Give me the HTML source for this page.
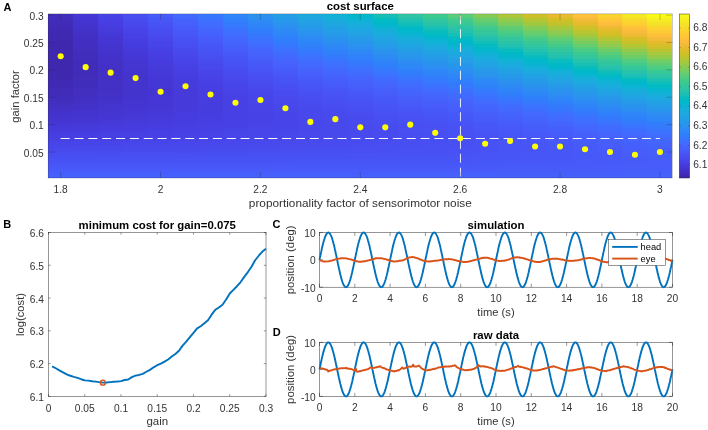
<!DOCTYPE html>
<html><head><meta charset="utf-8"><title>cost surface</title>
<style>
html,body{margin:0;padding:0;background:#fff}
svg{display:block}
text{font-family:"Liberation Sans",Arial,Helvetica,sans-serif}
.t{font-size:10.2px;fill:#333}
.l{font-size:11.2px;fill:#333}
.b{font-size:11.4px;font-weight:bold;fill:#000}
.s{font-size:9.3px;fill:#000}
.p{font-size:11px;font-weight:bold;fill:#000}
</style></head><body>
<svg width="708" height="430" viewBox="0 0 708 430">
<rect width="708" height="430" fill="#fff"/>
<g shape-rendering="crispEdges">
<rect x="48.20" y="13.80" width="25.27" height="3.04" fill="#422ebe"/>
<rect x="48.20" y="16.54" width="25.27" height="3.04" fill="#412dbc"/>
<rect x="48.20" y="19.27" width="25.27" height="3.04" fill="#412cba"/>
<rect x="48.20" y="22.01" width="25.27" height="3.04" fill="#412cb8"/>
<rect x="48.20" y="24.75" width="25.27" height="3.04" fill="#402bb7"/>
<rect x="48.20" y="27.48" width="25.27" height="3.04" fill="#402ab5"/>
<rect x="48.20" y="30.22" width="25.27" height="3.04" fill="#402ab4"/>
<rect x="48.20" y="32.96" width="25.27" height="3.04" fill="#3f29b2"/>
<rect x="48.20" y="35.69" width="25.27" height="3.04" fill="#3f29b1"/>
<rect x="48.20" y="38.43" width="25.27" height="3.04" fill="#3f29b0"/>
<rect x="48.20" y="41.17" width="25.27" height="3.04" fill="#3f28af"/>
<rect x="48.20" y="43.90" width="25.27" height="3.04" fill="#3f28ae"/>
<rect x="48.20" y="46.64" width="25.27" height="3.04" fill="#3f28ae"/>
<rect x="48.20" y="49.38" width="25.27" height="3.04" fill="#3f28ad"/>
<rect x="48.20" y="52.11" width="25.27" height="3.04" fill="#3f28ad"/>
<rect x="48.20" y="54.85" width="25.27" height="3.04" fill="#3e28ad"/>
<rect x="48.20" y="57.59" width="25.27" height="3.04" fill="#3e28ad"/>
<rect x="48.20" y="60.32" width="25.27" height="3.04" fill="#3f28ad"/>
<rect x="48.20" y="63.06" width="25.27" height="3.04" fill="#3f28ad"/>
<rect x="48.20" y="65.80" width="25.27" height="3.04" fill="#3f28ae"/>
<rect x="48.20" y="68.53" width="25.27" height="3.04" fill="#3f28ae"/>
<rect x="48.20" y="71.27" width="25.27" height="3.04" fill="#3f28af"/>
<rect x="48.20" y="74.01" width="25.27" height="3.04" fill="#3f29b0"/>
<rect x="48.20" y="76.74" width="25.27" height="3.04" fill="#3f29b1"/>
<rect x="48.20" y="79.48" width="25.27" height="3.04" fill="#3f29b2"/>
<rect x="48.20" y="82.22" width="25.27" height="3.04" fill="#402ab3"/>
<rect x="48.20" y="84.95" width="25.27" height="3.04" fill="#402ab5"/>
<rect x="48.20" y="87.69" width="25.27" height="3.04" fill="#402bb7"/>
<rect x="48.20" y="90.43" width="25.27" height="3.04" fill="#402cb8"/>
<rect x="48.20" y="93.16" width="25.27" height="3.04" fill="#412cba"/>
<rect x="48.20" y="95.90" width="25.27" height="3.04" fill="#412dbc"/>
<rect x="48.20" y="98.64" width="25.27" height="3.04" fill="#412ebe"/>
<rect x="48.20" y="101.37" width="25.27" height="3.04" fill="#422fc0"/>
<rect x="48.20" y="104.11" width="25.27" height="3.04" fill="#4230c3"/>
<rect x="48.20" y="106.85" width="25.27" height="3.04" fill="#4330c5"/>
<rect x="48.20" y="109.58" width="25.27" height="3.04" fill="#4331c8"/>
<rect x="48.20" y="112.32" width="25.27" height="3.04" fill="#4332cb"/>
<rect x="48.20" y="115.06" width="25.27" height="3.04" fill="#4434cd"/>
<rect x="48.20" y="117.79" width="25.27" height="3.04" fill="#4435d0"/>
<rect x="48.20" y="120.53" width="25.27" height="3.04" fill="#4536d3"/>
<rect x="48.20" y="123.27" width="25.27" height="3.04" fill="#4537d6"/>
<rect x="48.20" y="126.00" width="25.27" height="3.04" fill="#4539d9"/>
<rect x="48.20" y="128.74" width="25.27" height="3.04" fill="#463adc"/>
<rect x="48.20" y="131.48" width="25.27" height="3.04" fill="#463cdf"/>
<rect x="48.20" y="134.21" width="25.27" height="3.04" fill="#463ee1"/>
<rect x="48.20" y="136.95" width="25.27" height="3.04" fill="#4740e3"/>
<rect x="48.20" y="139.69" width="25.27" height="3.04" fill="#4742e6"/>
<rect x="48.20" y="142.42" width="25.27" height="3.04" fill="#4744e8"/>
<rect x="48.20" y="145.16" width="25.27" height="3.04" fill="#4746ea"/>
<rect x="48.20" y="147.90" width="25.27" height="3.04" fill="#4848ec"/>
<rect x="48.20" y="150.63" width="25.27" height="3.04" fill="#484bee"/>
<rect x="48.20" y="153.37" width="25.27" height="3.04" fill="#484df0"/>
<rect x="48.20" y="156.11" width="25.27" height="3.04" fill="#484ff2"/>
<rect x="48.20" y="158.84" width="25.27" height="3.04" fill="#4852f4"/>
<rect x="48.20" y="161.58" width="25.27" height="3.04" fill="#4854f5"/>
<rect x="48.20" y="164.32" width="25.27" height="3.04" fill="#4757f7"/>
<rect x="48.20" y="167.05" width="25.27" height="3.04" fill="#4759f8"/>
<rect x="48.20" y="169.79" width="25.27" height="3.04" fill="#475cfa"/>
<rect x="48.20" y="172.53" width="25.27" height="3.04" fill="#465efb"/>
<rect x="48.20" y="175.26" width="25.27" height="2.74" fill="#4561fc"/>
<rect x="73.17" y="13.80" width="25.27" height="3.04" fill="#4537d6"/>
<rect x="73.17" y="16.54" width="25.27" height="3.04" fill="#4536d4"/>
<rect x="73.17" y="19.27" width="25.27" height="3.04" fill="#4435d1"/>
<rect x="73.17" y="22.01" width="25.27" height="3.04" fill="#4434cf"/>
<rect x="73.17" y="24.75" width="25.27" height="3.04" fill="#4433cd"/>
<rect x="73.17" y="27.48" width="25.27" height="3.04" fill="#4332ca"/>
<rect x="73.17" y="30.22" width="25.27" height="3.04" fill="#4332c8"/>
<rect x="73.17" y="32.96" width="25.27" height="3.04" fill="#4331c6"/>
<rect x="73.17" y="35.69" width="25.27" height="3.04" fill="#4230c4"/>
<rect x="73.17" y="38.43" width="25.27" height="3.04" fill="#422fc3"/>
<rect x="73.17" y="41.17" width="25.27" height="3.04" fill="#422fc1"/>
<rect x="73.17" y="43.90" width="25.27" height="3.04" fill="#422ec0"/>
<rect x="73.17" y="46.64" width="25.27" height="3.04" fill="#422ebe"/>
<rect x="73.17" y="49.38" width="25.27" height="3.04" fill="#412ebd"/>
<rect x="73.17" y="52.11" width="25.27" height="3.04" fill="#412dbc"/>
<rect x="73.17" y="54.85" width="25.27" height="3.04" fill="#412dbc"/>
<rect x="73.17" y="57.59" width="25.27" height="3.04" fill="#412dbb"/>
<rect x="73.17" y="60.32" width="25.27" height="3.04" fill="#412cba"/>
<rect x="73.17" y="63.06" width="25.27" height="3.04" fill="#412cba"/>
<rect x="73.17" y="65.80" width="25.27" height="3.04" fill="#412cba"/>
<rect x="73.17" y="68.53" width="25.27" height="3.04" fill="#412cba"/>
<rect x="73.17" y="71.27" width="25.27" height="3.04" fill="#412cba"/>
<rect x="73.17" y="74.01" width="25.27" height="3.04" fill="#412cba"/>
<rect x="73.17" y="76.74" width="25.27" height="3.04" fill="#412dbb"/>
<rect x="73.17" y="79.48" width="25.27" height="3.04" fill="#412dbb"/>
<rect x="73.17" y="82.22" width="25.27" height="3.04" fill="#412dbc"/>
<rect x="73.17" y="84.95" width="25.27" height="3.04" fill="#412dbd"/>
<rect x="73.17" y="87.69" width="25.27" height="3.04" fill="#422ebe"/>
<rect x="73.17" y="90.43" width="25.27" height="3.04" fill="#422ebf"/>
<rect x="73.17" y="93.16" width="25.27" height="3.04" fill="#422fc1"/>
<rect x="73.17" y="95.90" width="25.27" height="3.04" fill="#422fc2"/>
<rect x="73.17" y="98.64" width="25.27" height="3.04" fill="#4230c4"/>
<rect x="73.17" y="101.37" width="25.27" height="3.04" fill="#4331c6"/>
<rect x="73.17" y="104.11" width="25.27" height="3.04" fill="#4331c8"/>
<rect x="73.17" y="106.85" width="25.27" height="3.04" fill="#4332ca"/>
<rect x="73.17" y="109.58" width="25.27" height="3.04" fill="#4433cc"/>
<rect x="73.17" y="112.32" width="25.27" height="3.04" fill="#4434cf"/>
<rect x="73.17" y="115.06" width="25.27" height="3.04" fill="#4435d1"/>
<rect x="73.17" y="117.79" width="25.27" height="3.04" fill="#4536d3"/>
<rect x="73.17" y="120.53" width="25.27" height="3.04" fill="#4537d6"/>
<rect x="73.17" y="123.27" width="25.27" height="3.04" fill="#4539d8"/>
<rect x="73.17" y="126.00" width="25.27" height="3.04" fill="#463adb"/>
<rect x="73.17" y="128.74" width="25.27" height="3.04" fill="#463bdd"/>
<rect x="73.17" y="131.48" width="25.27" height="3.04" fill="#463de0"/>
<rect x="73.17" y="134.21" width="25.27" height="3.04" fill="#473fe2"/>
<rect x="73.17" y="136.95" width="25.27" height="3.04" fill="#4741e4"/>
<rect x="73.17" y="139.69" width="25.27" height="3.04" fill="#4743e7"/>
<rect x="73.17" y="142.42" width="25.27" height="3.04" fill="#4745e9"/>
<rect x="73.17" y="145.16" width="25.27" height="3.04" fill="#4747eb"/>
<rect x="73.17" y="147.90" width="25.27" height="3.04" fill="#4849ed"/>
<rect x="73.17" y="150.63" width="25.27" height="3.04" fill="#484bef"/>
<rect x="73.17" y="153.37" width="25.27" height="3.04" fill="#484df0"/>
<rect x="73.17" y="156.11" width="25.27" height="3.04" fill="#484ff2"/>
<rect x="73.17" y="158.84" width="25.27" height="3.04" fill="#4852f4"/>
<rect x="73.17" y="161.58" width="25.27" height="3.04" fill="#4854f5"/>
<rect x="73.17" y="164.32" width="25.27" height="3.04" fill="#4757f7"/>
<rect x="73.17" y="167.05" width="25.27" height="3.04" fill="#4759f8"/>
<rect x="73.17" y="169.79" width="25.27" height="3.04" fill="#475cfa"/>
<rect x="73.17" y="172.53" width="25.27" height="3.04" fill="#465efb"/>
<rect x="73.17" y="175.26" width="25.27" height="2.74" fill="#4561fc"/>
<rect x="98.14" y="13.80" width="25.27" height="3.04" fill="#4743e7"/>
<rect x="98.14" y="16.54" width="25.27" height="3.04" fill="#4741e5"/>
<rect x="98.14" y="19.27" width="25.27" height="3.04" fill="#473fe3"/>
<rect x="98.14" y="22.01" width="25.27" height="3.04" fill="#463ee1"/>
<rect x="98.14" y="24.75" width="25.27" height="3.04" fill="#463cdf"/>
<rect x="98.14" y="27.48" width="25.27" height="3.04" fill="#463bdd"/>
<rect x="98.14" y="30.22" width="25.27" height="3.04" fill="#463ada"/>
<rect x="98.14" y="32.96" width="25.27" height="3.04" fill="#4538d8"/>
<rect x="98.14" y="35.69" width="25.27" height="3.04" fill="#4537d6"/>
<rect x="98.14" y="38.43" width="25.27" height="3.04" fill="#4536d4"/>
<rect x="98.14" y="41.17" width="25.27" height="3.04" fill="#4535d2"/>
<rect x="98.14" y="43.90" width="25.27" height="3.04" fill="#4435d0"/>
<rect x="98.14" y="46.64" width="25.27" height="3.04" fill="#4434ce"/>
<rect x="98.14" y="49.38" width="25.27" height="3.04" fill="#4433cd"/>
<rect x="98.14" y="52.11" width="25.27" height="3.04" fill="#4433cb"/>
<rect x="98.14" y="54.85" width="25.27" height="3.04" fill="#4332ca"/>
<rect x="98.14" y="57.59" width="25.27" height="3.04" fill="#4332c9"/>
<rect x="98.14" y="60.32" width="25.27" height="3.04" fill="#4331c8"/>
<rect x="98.14" y="63.06" width="25.27" height="3.04" fill="#4331c7"/>
<rect x="98.14" y="65.80" width="25.27" height="3.04" fill="#4331c6"/>
<rect x="98.14" y="68.53" width="25.27" height="3.04" fill="#4330c5"/>
<rect x="98.14" y="71.27" width="25.27" height="3.04" fill="#4330c5"/>
<rect x="98.14" y="74.01" width="25.27" height="3.04" fill="#4330c5"/>
<rect x="98.14" y="76.74" width="25.27" height="3.04" fill="#4330c5"/>
<rect x="98.14" y="79.48" width="25.27" height="3.04" fill="#4330c5"/>
<rect x="98.14" y="82.22" width="25.27" height="3.04" fill="#4330c5"/>
<rect x="98.14" y="84.95" width="25.27" height="3.04" fill="#4330c5"/>
<rect x="98.14" y="87.69" width="25.27" height="3.04" fill="#4331c6"/>
<rect x="98.14" y="90.43" width="25.27" height="3.04" fill="#4331c7"/>
<rect x="98.14" y="93.16" width="25.27" height="3.04" fill="#4331c8"/>
<rect x="98.14" y="95.90" width="25.27" height="3.04" fill="#4332c9"/>
<rect x="98.14" y="98.64" width="25.27" height="3.04" fill="#4332ca"/>
<rect x="98.14" y="101.37" width="25.27" height="3.04" fill="#4433cb"/>
<rect x="98.14" y="104.11" width="25.27" height="3.04" fill="#4433cd"/>
<rect x="98.14" y="106.85" width="25.27" height="3.04" fill="#4434cf"/>
<rect x="98.14" y="109.58" width="25.27" height="3.04" fill="#4435d0"/>
<rect x="98.14" y="112.32" width="25.27" height="3.04" fill="#4536d2"/>
<rect x="98.14" y="115.06" width="25.27" height="3.04" fill="#4536d4"/>
<rect x="98.14" y="117.79" width="25.27" height="3.04" fill="#4537d6"/>
<rect x="98.14" y="120.53" width="25.27" height="3.04" fill="#4539d8"/>
<rect x="98.14" y="123.27" width="25.27" height="3.04" fill="#463adb"/>
<rect x="98.14" y="126.00" width="25.27" height="3.04" fill="#463bdd"/>
<rect x="98.14" y="128.74" width="25.27" height="3.04" fill="#463cdf"/>
<rect x="98.14" y="131.48" width="25.27" height="3.04" fill="#463ee1"/>
<rect x="98.14" y="134.21" width="25.27" height="3.04" fill="#4740e3"/>
<rect x="98.14" y="136.95" width="25.27" height="3.04" fill="#4741e5"/>
<rect x="98.14" y="139.69" width="25.27" height="3.04" fill="#4743e7"/>
<rect x="98.14" y="142.42" width="25.27" height="3.04" fill="#4745e9"/>
<rect x="98.14" y="145.16" width="25.27" height="3.04" fill="#4747eb"/>
<rect x="98.14" y="147.90" width="25.27" height="3.04" fill="#4849ed"/>
<rect x="98.14" y="150.63" width="25.27" height="3.04" fill="#484bef"/>
<rect x="98.14" y="153.37" width="25.27" height="3.04" fill="#484df1"/>
<rect x="98.14" y="156.11" width="25.27" height="3.04" fill="#4850f2"/>
<rect x="98.14" y="158.84" width="25.27" height="3.04" fill="#4852f4"/>
<rect x="98.14" y="161.58" width="25.27" height="3.04" fill="#4854f6"/>
<rect x="98.14" y="164.32" width="25.27" height="3.04" fill="#4757f7"/>
<rect x="98.14" y="167.05" width="25.27" height="3.04" fill="#4759f8"/>
<rect x="98.14" y="169.79" width="25.27" height="3.04" fill="#475cfa"/>
<rect x="98.14" y="172.53" width="25.27" height="3.04" fill="#465efb"/>
<rect x="98.14" y="175.26" width="25.27" height="2.74" fill="#4561fc"/>
<rect x="123.10" y="13.80" width="25.27" height="3.04" fill="#484ff2"/>
<rect x="123.10" y="16.54" width="25.27" height="3.04" fill="#484df0"/>
<rect x="123.10" y="19.27" width="25.27" height="3.04" fill="#484bee"/>
<rect x="123.10" y="22.01" width="25.27" height="3.04" fill="#4849ed"/>
<rect x="123.10" y="24.75" width="25.27" height="3.04" fill="#4747eb"/>
<rect x="123.10" y="27.48" width="25.27" height="3.04" fill="#4745e9"/>
<rect x="123.10" y="30.22" width="25.27" height="3.04" fill="#4743e7"/>
<rect x="123.10" y="32.96" width="25.27" height="3.04" fill="#4741e5"/>
<rect x="123.10" y="35.69" width="25.27" height="3.04" fill="#4740e3"/>
<rect x="123.10" y="38.43" width="25.27" height="3.04" fill="#473ee2"/>
<rect x="123.10" y="41.17" width="25.27" height="3.04" fill="#463de0"/>
<rect x="123.10" y="43.90" width="25.27" height="3.04" fill="#463cde"/>
<rect x="123.10" y="46.64" width="25.27" height="3.04" fill="#463bdc"/>
<rect x="123.10" y="49.38" width="25.27" height="3.04" fill="#4639da"/>
<rect x="123.10" y="52.11" width="25.27" height="3.04" fill="#4538d8"/>
<rect x="123.10" y="54.85" width="25.27" height="3.04" fill="#4538d7"/>
<rect x="123.10" y="57.59" width="25.27" height="3.04" fill="#4537d5"/>
<rect x="123.10" y="60.32" width="25.27" height="3.04" fill="#4536d4"/>
<rect x="123.10" y="63.06" width="25.27" height="3.04" fill="#4536d2"/>
<rect x="123.10" y="65.80" width="25.27" height="3.04" fill="#4435d1"/>
<rect x="123.10" y="68.53" width="25.27" height="3.04" fill="#4435d0"/>
<rect x="123.10" y="71.27" width="25.27" height="3.04" fill="#4434cf"/>
<rect x="123.10" y="74.01" width="25.27" height="3.04" fill="#4434ce"/>
<rect x="123.10" y="76.74" width="25.27" height="3.04" fill="#4434ce"/>
<rect x="123.10" y="79.48" width="25.27" height="3.04" fill="#4434ce"/>
<rect x="123.10" y="82.22" width="25.27" height="3.04" fill="#4433cd"/>
<rect x="123.10" y="84.95" width="25.27" height="3.04" fill="#4433cd"/>
<rect x="123.10" y="87.69" width="25.27" height="3.04" fill="#4433cd"/>
<rect x="123.10" y="90.43" width="25.27" height="3.04" fill="#4434ce"/>
<rect x="123.10" y="93.16" width="25.27" height="3.04" fill="#4434ce"/>
<rect x="123.10" y="95.90" width="25.27" height="3.04" fill="#4434cf"/>
<rect x="123.10" y="98.64" width="25.27" height="3.04" fill="#4434d0"/>
<rect x="123.10" y="101.37" width="25.27" height="3.04" fill="#4435d0"/>
<rect x="123.10" y="104.11" width="25.27" height="3.04" fill="#4435d2"/>
<rect x="123.10" y="106.85" width="25.27" height="3.04" fill="#4536d3"/>
<rect x="123.10" y="109.58" width="25.27" height="3.04" fill="#4536d4"/>
<rect x="123.10" y="112.32" width="25.27" height="3.04" fill="#4537d6"/>
<rect x="123.10" y="115.06" width="25.27" height="3.04" fill="#4538d7"/>
<rect x="123.10" y="117.79" width="25.27" height="3.04" fill="#4539d9"/>
<rect x="123.10" y="120.53" width="25.27" height="3.04" fill="#463adb"/>
<rect x="123.10" y="123.27" width="25.27" height="3.04" fill="#463bdd"/>
<rect x="123.10" y="126.00" width="25.27" height="3.04" fill="#463cdf"/>
<rect x="123.10" y="128.74" width="25.27" height="3.04" fill="#463de0"/>
<rect x="123.10" y="131.48" width="25.27" height="3.04" fill="#473fe2"/>
<rect x="123.10" y="134.21" width="25.27" height="3.04" fill="#4740e4"/>
<rect x="123.10" y="136.95" width="25.27" height="3.04" fill="#4742e6"/>
<rect x="123.10" y="139.69" width="25.27" height="3.04" fill="#4744e8"/>
<rect x="123.10" y="142.42" width="25.27" height="3.04" fill="#4746ea"/>
<rect x="123.10" y="145.16" width="25.27" height="3.04" fill="#4848ec"/>
<rect x="123.10" y="147.90" width="25.27" height="3.04" fill="#484aed"/>
<rect x="123.10" y="150.63" width="25.27" height="3.04" fill="#484cef"/>
<rect x="123.10" y="153.37" width="25.27" height="3.04" fill="#484ef1"/>
<rect x="123.10" y="156.11" width="25.27" height="3.04" fill="#4850f2"/>
<rect x="123.10" y="158.84" width="25.27" height="3.04" fill="#4852f4"/>
<rect x="123.10" y="161.58" width="25.27" height="3.04" fill="#4854f6"/>
<rect x="123.10" y="164.32" width="25.27" height="3.04" fill="#4757f7"/>
<rect x="123.10" y="167.05" width="25.27" height="3.04" fill="#4759f8"/>
<rect x="123.10" y="169.79" width="25.27" height="3.04" fill="#475cfa"/>
<rect x="123.10" y="172.53" width="25.27" height="3.04" fill="#465efb"/>
<rect x="123.10" y="175.26" width="25.27" height="2.74" fill="#4561fc"/>
<rect x="148.07" y="13.80" width="25.27" height="3.04" fill="#475bf9"/>
<rect x="148.07" y="16.54" width="25.27" height="3.04" fill="#4758f8"/>
<rect x="148.07" y="19.27" width="25.27" height="3.04" fill="#4756f6"/>
<rect x="148.07" y="22.01" width="25.27" height="3.04" fill="#4853f5"/>
<rect x="148.07" y="24.75" width="25.27" height="3.04" fill="#4851f3"/>
<rect x="148.07" y="27.48" width="25.27" height="3.04" fill="#484ff2"/>
<rect x="148.07" y="30.22" width="25.27" height="3.04" fill="#484df0"/>
<rect x="148.07" y="32.96" width="25.27" height="3.04" fill="#484bef"/>
<rect x="148.07" y="35.69" width="25.27" height="3.04" fill="#4849ed"/>
<rect x="148.07" y="38.43" width="25.27" height="3.04" fill="#4747eb"/>
<rect x="148.07" y="41.17" width="25.27" height="3.04" fill="#4745e9"/>
<rect x="148.07" y="43.90" width="25.27" height="3.04" fill="#4744e8"/>
<rect x="148.07" y="46.64" width="25.27" height="3.04" fill="#4742e6"/>
<rect x="148.07" y="49.38" width="25.27" height="3.04" fill="#4741e4"/>
<rect x="148.07" y="52.11" width="25.27" height="3.04" fill="#473fe3"/>
<rect x="148.07" y="54.85" width="25.27" height="3.04" fill="#463ee1"/>
<rect x="148.07" y="57.59" width="25.27" height="3.04" fill="#463ddf"/>
<rect x="148.07" y="60.32" width="25.27" height="3.04" fill="#463cde"/>
<rect x="148.07" y="63.06" width="25.27" height="3.04" fill="#463bdc"/>
<rect x="148.07" y="65.80" width="25.27" height="3.04" fill="#463adb"/>
<rect x="148.07" y="68.53" width="25.27" height="3.04" fill="#4639da"/>
<rect x="148.07" y="71.27" width="25.27" height="3.04" fill="#4539d8"/>
<rect x="148.07" y="74.01" width="25.27" height="3.04" fill="#4538d7"/>
<rect x="148.07" y="76.74" width="25.27" height="3.04" fill="#4537d7"/>
<rect x="148.07" y="79.48" width="25.27" height="3.04" fill="#4537d6"/>
<rect x="148.07" y="82.22" width="25.27" height="3.04" fill="#4537d5"/>
<rect x="148.07" y="84.95" width="25.27" height="3.04" fill="#4537d5"/>
<rect x="148.07" y="87.69" width="25.27" height="3.04" fill="#4536d4"/>
<rect x="148.07" y="90.43" width="25.27" height="3.04" fill="#4536d4"/>
<rect x="148.07" y="93.16" width="25.27" height="3.04" fill="#4536d4"/>
<rect x="148.07" y="95.90" width="25.27" height="3.04" fill="#4536d5"/>
<rect x="148.07" y="98.64" width="25.27" height="3.04" fill="#4537d5"/>
<rect x="148.07" y="101.37" width="25.27" height="3.04" fill="#4537d6"/>
<rect x="148.07" y="104.11" width="25.27" height="3.04" fill="#4537d6"/>
<rect x="148.07" y="106.85" width="25.27" height="3.04" fill="#4538d7"/>
<rect x="148.07" y="109.58" width="25.27" height="3.04" fill="#4538d8"/>
<rect x="148.07" y="112.32" width="25.27" height="3.04" fill="#4539d9"/>
<rect x="148.07" y="115.06" width="25.27" height="3.04" fill="#463ada"/>
<rect x="148.07" y="117.79" width="25.27" height="3.04" fill="#463adc"/>
<rect x="148.07" y="120.53" width="25.27" height="3.04" fill="#463bdd"/>
<rect x="148.07" y="123.27" width="25.27" height="3.04" fill="#463cdf"/>
<rect x="148.07" y="126.00" width="25.27" height="3.04" fill="#463de0"/>
<rect x="148.07" y="128.74" width="25.27" height="3.04" fill="#473fe2"/>
<rect x="148.07" y="131.48" width="25.27" height="3.04" fill="#4740e4"/>
<rect x="148.07" y="134.21" width="25.27" height="3.04" fill="#4741e5"/>
<rect x="148.07" y="136.95" width="25.27" height="3.04" fill="#4743e7"/>
<rect x="148.07" y="139.69" width="25.27" height="3.04" fill="#4744e9"/>
<rect x="148.07" y="142.42" width="25.27" height="3.04" fill="#4746ea"/>
<rect x="148.07" y="145.16" width="25.27" height="3.04" fill="#4848ec"/>
<rect x="148.07" y="147.90" width="25.27" height="3.04" fill="#484aee"/>
<rect x="148.07" y="150.63" width="25.27" height="3.04" fill="#484cef"/>
<rect x="148.07" y="153.37" width="25.27" height="3.04" fill="#484ef1"/>
<rect x="148.07" y="156.11" width="25.27" height="3.04" fill="#4850f3"/>
<rect x="148.07" y="158.84" width="25.27" height="3.04" fill="#4852f4"/>
<rect x="148.07" y="161.58" width="25.27" height="3.04" fill="#4755f6"/>
<rect x="148.07" y="164.32" width="25.27" height="3.04" fill="#4757f7"/>
<rect x="148.07" y="167.05" width="25.27" height="3.04" fill="#4759f9"/>
<rect x="148.07" y="169.79" width="25.27" height="3.04" fill="#475cfa"/>
<rect x="148.07" y="172.53" width="25.27" height="3.04" fill="#465efb"/>
<rect x="148.07" y="175.26" width="25.27" height="2.74" fill="#4561fc"/>
<rect x="173.04" y="13.80" width="25.27" height="3.04" fill="#4369fe"/>
<rect x="173.04" y="16.54" width="25.27" height="3.04" fill="#4466fd"/>
<rect x="173.04" y="19.27" width="25.27" height="3.04" fill="#4563fc"/>
<rect x="173.04" y="22.01" width="25.27" height="3.04" fill="#4660fc"/>
<rect x="173.04" y="24.75" width="25.27" height="3.04" fill="#465dfb"/>
<rect x="173.04" y="27.48" width="25.27" height="3.04" fill="#475bf9"/>
<rect x="173.04" y="30.22" width="25.27" height="3.04" fill="#4758f8"/>
<rect x="173.04" y="32.96" width="25.27" height="3.04" fill="#4756f7"/>
<rect x="173.04" y="35.69" width="25.27" height="3.04" fill="#4854f5"/>
<rect x="173.04" y="38.43" width="25.27" height="3.04" fill="#4852f4"/>
<rect x="173.04" y="41.17" width="25.27" height="3.04" fill="#4850f2"/>
<rect x="173.04" y="43.90" width="25.27" height="3.04" fill="#484ef1"/>
<rect x="173.04" y="46.64" width="25.27" height="3.04" fill="#484cef"/>
<rect x="173.04" y="49.38" width="25.27" height="3.04" fill="#484aee"/>
<rect x="173.04" y="52.11" width="25.27" height="3.04" fill="#4848ec"/>
<rect x="173.04" y="54.85" width="25.27" height="3.04" fill="#4746ea"/>
<rect x="173.04" y="57.59" width="25.27" height="3.04" fill="#4745e9"/>
<rect x="173.04" y="60.32" width="25.27" height="3.04" fill="#4743e7"/>
<rect x="173.04" y="63.06" width="25.27" height="3.04" fill="#4742e6"/>
<rect x="173.04" y="65.80" width="25.27" height="3.04" fill="#4741e4"/>
<rect x="173.04" y="68.53" width="25.27" height="3.04" fill="#473fe3"/>
<rect x="173.04" y="71.27" width="25.27" height="3.04" fill="#473ee2"/>
<rect x="173.04" y="74.01" width="25.27" height="3.04" fill="#463de0"/>
<rect x="173.04" y="76.74" width="25.27" height="3.04" fill="#463ddf"/>
<rect x="173.04" y="79.48" width="25.27" height="3.04" fill="#463cde"/>
<rect x="173.04" y="82.22" width="25.27" height="3.04" fill="#463bdd"/>
<rect x="173.04" y="84.95" width="25.27" height="3.04" fill="#463bdc"/>
<rect x="173.04" y="87.69" width="25.27" height="3.04" fill="#463adc"/>
<rect x="173.04" y="90.43" width="25.27" height="3.04" fill="#463adb"/>
<rect x="173.04" y="93.16" width="25.27" height="3.04" fill="#463adb"/>
<rect x="173.04" y="95.90" width="25.27" height="3.04" fill="#463adb"/>
<rect x="173.04" y="98.64" width="25.27" height="3.04" fill="#463adb"/>
<rect x="173.04" y="101.37" width="25.27" height="3.04" fill="#463adb"/>
<rect x="173.04" y="104.11" width="25.27" height="3.04" fill="#463adb"/>
<rect x="173.04" y="106.85" width="25.27" height="3.04" fill="#463adb"/>
<rect x="173.04" y="109.58" width="25.27" height="3.04" fill="#463bdc"/>
<rect x="173.04" y="112.32" width="25.27" height="3.04" fill="#463bdd"/>
<rect x="173.04" y="115.06" width="25.27" height="3.04" fill="#463bde"/>
<rect x="173.04" y="117.79" width="25.27" height="3.04" fill="#463cdf"/>
<rect x="173.04" y="120.53" width="25.27" height="3.04" fill="#463de0"/>
<rect x="173.04" y="123.27" width="25.27" height="3.04" fill="#463ee1"/>
<rect x="173.04" y="126.00" width="25.27" height="3.04" fill="#473fe2"/>
<rect x="173.04" y="128.74" width="25.27" height="3.04" fill="#4740e3"/>
<rect x="173.04" y="131.48" width="25.27" height="3.04" fill="#4741e5"/>
<rect x="173.04" y="134.21" width="25.27" height="3.04" fill="#4742e6"/>
<rect x="173.04" y="136.95" width="25.27" height="3.04" fill="#4744e8"/>
<rect x="173.04" y="139.69" width="25.27" height="3.04" fill="#4745e9"/>
<rect x="173.04" y="142.42" width="25.27" height="3.04" fill="#4747eb"/>
<rect x="173.04" y="145.16" width="25.27" height="3.04" fill="#4849ed"/>
<rect x="173.04" y="147.90" width="25.27" height="3.04" fill="#484aee"/>
<rect x="173.04" y="150.63" width="25.27" height="3.04" fill="#484cf0"/>
<rect x="173.04" y="153.37" width="25.27" height="3.04" fill="#484ef1"/>
<rect x="173.04" y="156.11" width="25.27" height="3.04" fill="#4850f3"/>
<rect x="173.04" y="158.84" width="25.27" height="3.04" fill="#4853f4"/>
<rect x="173.04" y="161.58" width="25.27" height="3.04" fill="#4755f6"/>
<rect x="173.04" y="164.32" width="25.27" height="3.04" fill="#4757f7"/>
<rect x="173.04" y="167.05" width="25.27" height="3.04" fill="#4759f9"/>
<rect x="173.04" y="169.79" width="25.27" height="3.04" fill="#475cfa"/>
<rect x="173.04" y="172.53" width="25.27" height="3.04" fill="#465efb"/>
<rect x="173.04" y="175.26" width="25.27" height="2.74" fill="#4561fc"/>
<rect x="198.01" y="13.80" width="25.27" height="3.04" fill="#3677fe"/>
<rect x="198.01" y="16.54" width="25.27" height="3.04" fill="#3a74fe"/>
<rect x="198.01" y="19.27" width="25.27" height="3.04" fill="#3d70ff"/>
<rect x="198.01" y="22.01" width="25.27" height="3.04" fill="#406dfe"/>
<rect x="198.01" y="24.75" width="25.27" height="3.04" fill="#426afe"/>
<rect x="198.01" y="27.48" width="25.27" height="3.04" fill="#4367fd"/>
<rect x="198.01" y="30.22" width="25.27" height="3.04" fill="#4564fd"/>
<rect x="198.01" y="32.96" width="25.27" height="3.04" fill="#4561fc"/>
<rect x="198.01" y="35.69" width="25.27" height="3.04" fill="#465efb"/>
<rect x="198.01" y="38.43" width="25.27" height="3.04" fill="#475cfa"/>
<rect x="198.01" y="41.17" width="25.27" height="3.04" fill="#4759f9"/>
<rect x="198.01" y="43.90" width="25.27" height="3.04" fill="#4757f7"/>
<rect x="198.01" y="46.64" width="25.27" height="3.04" fill="#4755f6"/>
<rect x="198.01" y="49.38" width="25.27" height="3.04" fill="#4853f4"/>
<rect x="198.01" y="52.11" width="25.27" height="3.04" fill="#4851f3"/>
<rect x="198.01" y="54.85" width="25.27" height="3.04" fill="#484ff1"/>
<rect x="198.01" y="57.59" width="25.27" height="3.04" fill="#484df0"/>
<rect x="198.01" y="60.32" width="25.27" height="3.04" fill="#484bee"/>
<rect x="198.01" y="63.06" width="25.27" height="3.04" fill="#4849ed"/>
<rect x="198.01" y="65.80" width="25.27" height="3.04" fill="#4848ec"/>
<rect x="198.01" y="68.53" width="25.27" height="3.04" fill="#4746ea"/>
<rect x="198.01" y="71.27" width="25.27" height="3.04" fill="#4745e9"/>
<rect x="198.01" y="74.01" width="25.27" height="3.04" fill="#4743e7"/>
<rect x="198.01" y="76.74" width="25.27" height="3.04" fill="#4742e6"/>
<rect x="198.01" y="79.48" width="25.27" height="3.04" fill="#4741e5"/>
<rect x="198.01" y="82.22" width="25.27" height="3.04" fill="#4740e4"/>
<rect x="198.01" y="84.95" width="25.27" height="3.04" fill="#473fe3"/>
<rect x="198.01" y="87.69" width="25.27" height="3.04" fill="#473fe2"/>
<rect x="198.01" y="90.43" width="25.27" height="3.04" fill="#473ee1"/>
<rect x="198.01" y="93.16" width="25.27" height="3.04" fill="#463ee1"/>
<rect x="198.01" y="95.90" width="25.27" height="3.04" fill="#463de0"/>
<rect x="198.01" y="98.64" width="25.27" height="3.04" fill="#463de0"/>
<rect x="198.01" y="101.37" width="25.27" height="3.04" fill="#463ddf"/>
<rect x="198.01" y="104.11" width="25.27" height="3.04" fill="#463ddf"/>
<rect x="198.01" y="106.85" width="25.27" height="3.04" fill="#463ddf"/>
<rect x="198.01" y="109.58" width="25.27" height="3.04" fill="#463de0"/>
<rect x="198.01" y="112.32" width="25.27" height="3.04" fill="#463de0"/>
<rect x="198.01" y="115.06" width="25.27" height="3.04" fill="#463ee1"/>
<rect x="198.01" y="117.79" width="25.27" height="3.04" fill="#473ee1"/>
<rect x="198.01" y="120.53" width="25.27" height="3.04" fill="#473fe2"/>
<rect x="198.01" y="123.27" width="25.27" height="3.04" fill="#473fe3"/>
<rect x="198.01" y="126.00" width="25.27" height="3.04" fill="#4740e4"/>
<rect x="198.01" y="128.74" width="25.27" height="3.04" fill="#4741e5"/>
<rect x="198.01" y="131.48" width="25.27" height="3.04" fill="#4742e6"/>
<rect x="198.01" y="134.21" width="25.27" height="3.04" fill="#4743e8"/>
<rect x="198.01" y="136.95" width="25.27" height="3.04" fill="#4745e9"/>
<rect x="198.01" y="139.69" width="25.27" height="3.04" fill="#4746ea"/>
<rect x="198.01" y="142.42" width="25.27" height="3.04" fill="#4848ec"/>
<rect x="198.01" y="145.16" width="25.27" height="3.04" fill="#4849ed"/>
<rect x="198.01" y="147.90" width="25.27" height="3.04" fill="#484bef"/>
<rect x="198.01" y="150.63" width="25.27" height="3.04" fill="#484df0"/>
<rect x="198.01" y="153.37" width="25.27" height="3.04" fill="#484ff2"/>
<rect x="198.01" y="156.11" width="25.27" height="3.04" fill="#4851f3"/>
<rect x="198.01" y="158.84" width="25.27" height="3.04" fill="#4853f5"/>
<rect x="198.01" y="161.58" width="25.27" height="3.04" fill="#4755f6"/>
<rect x="198.01" y="164.32" width="25.27" height="3.04" fill="#4757f7"/>
<rect x="198.01" y="167.05" width="25.27" height="3.04" fill="#4759f9"/>
<rect x="198.01" y="169.79" width="25.27" height="3.04" fill="#475cfa"/>
<rect x="198.01" y="172.53" width="25.27" height="3.04" fill="#465efb"/>
<rect x="198.01" y="175.26" width="25.27" height="2.74" fill="#4561fc"/>
<rect x="222.98" y="13.80" width="25.27" height="3.04" fill="#2e86f8"/>
<rect x="222.98" y="16.54" width="25.27" height="3.04" fill="#2f82f9"/>
<rect x="222.98" y="19.27" width="25.27" height="3.04" fill="#307ffb"/>
<rect x="222.98" y="22.01" width="25.27" height="3.04" fill="#327bfc"/>
<rect x="222.98" y="24.75" width="25.27" height="3.04" fill="#3678fe"/>
<rect x="222.98" y="27.48" width="25.27" height="3.04" fill="#3a74fe"/>
<rect x="222.98" y="30.22" width="25.27" height="3.04" fill="#3d70ff"/>
<rect x="222.98" y="32.96" width="25.27" height="3.04" fill="#406dfe"/>
<rect x="222.98" y="35.69" width="25.27" height="3.04" fill="#426afe"/>
<rect x="222.98" y="38.43" width="25.27" height="3.04" fill="#4367fd"/>
<rect x="222.98" y="41.17" width="25.27" height="3.04" fill="#4564fd"/>
<rect x="222.98" y="43.90" width="25.27" height="3.04" fill="#4561fc"/>
<rect x="222.98" y="46.64" width="25.27" height="3.04" fill="#465efb"/>
<rect x="222.98" y="49.38" width="25.27" height="3.04" fill="#475cfa"/>
<rect x="222.98" y="52.11" width="25.27" height="3.04" fill="#475af9"/>
<rect x="222.98" y="54.85" width="25.27" height="3.04" fill="#4757f7"/>
<rect x="222.98" y="57.59" width="25.27" height="3.04" fill="#4755f6"/>
<rect x="222.98" y="60.32" width="25.27" height="3.04" fill="#4853f5"/>
<rect x="222.98" y="63.06" width="25.27" height="3.04" fill="#4851f3"/>
<rect x="222.98" y="65.80" width="25.27" height="3.04" fill="#484ff2"/>
<rect x="222.98" y="68.53" width="25.27" height="3.04" fill="#484df0"/>
<rect x="222.98" y="71.27" width="25.27" height="3.04" fill="#484bef"/>
<rect x="222.98" y="74.01" width="25.27" height="3.04" fill="#484aee"/>
<rect x="222.98" y="76.74" width="25.27" height="3.04" fill="#4848ec"/>
<rect x="222.98" y="79.48" width="25.27" height="3.04" fill="#4747eb"/>
<rect x="222.98" y="82.22" width="25.27" height="3.04" fill="#4746ea"/>
<rect x="222.98" y="84.95" width="25.27" height="3.04" fill="#4745e9"/>
<rect x="222.98" y="87.69" width="25.27" height="3.04" fill="#4744e8"/>
<rect x="222.98" y="90.43" width="25.27" height="3.04" fill="#4743e7"/>
<rect x="222.98" y="93.16" width="25.27" height="3.04" fill="#4742e6"/>
<rect x="222.98" y="95.90" width="25.27" height="3.04" fill="#4741e5"/>
<rect x="222.98" y="98.64" width="25.27" height="3.04" fill="#4741e5"/>
<rect x="222.98" y="101.37" width="25.27" height="3.04" fill="#4740e4"/>
<rect x="222.98" y="104.11" width="25.27" height="3.04" fill="#4740e4"/>
<rect x="222.98" y="106.85" width="25.27" height="3.04" fill="#4740e3"/>
<rect x="222.98" y="109.58" width="25.27" height="3.04" fill="#4740e3"/>
<rect x="222.98" y="112.32" width="25.27" height="3.04" fill="#4740e3"/>
<rect x="222.98" y="115.06" width="25.27" height="3.04" fill="#4740e4"/>
<rect x="222.98" y="117.79" width="25.27" height="3.04" fill="#4740e4"/>
<rect x="222.98" y="120.53" width="25.27" height="3.04" fill="#4741e5"/>
<rect x="222.98" y="123.27" width="25.27" height="3.04" fill="#4741e5"/>
<rect x="222.98" y="126.00" width="25.27" height="3.04" fill="#4742e6"/>
<rect x="222.98" y="128.74" width="25.27" height="3.04" fill="#4743e7"/>
<rect x="222.98" y="131.48" width="25.27" height="3.04" fill="#4744e8"/>
<rect x="222.98" y="134.21" width="25.27" height="3.04" fill="#4745e9"/>
<rect x="222.98" y="136.95" width="25.27" height="3.04" fill="#4746ea"/>
<rect x="222.98" y="139.69" width="25.27" height="3.04" fill="#4747eb"/>
<rect x="222.98" y="142.42" width="25.27" height="3.04" fill="#4848ec"/>
<rect x="222.98" y="145.16" width="25.27" height="3.04" fill="#484aee"/>
<rect x="222.98" y="147.90" width="25.27" height="3.04" fill="#484bef"/>
<rect x="222.98" y="150.63" width="25.27" height="3.04" fill="#484df0"/>
<rect x="222.98" y="153.37" width="25.27" height="3.04" fill="#484ff2"/>
<rect x="222.98" y="156.11" width="25.27" height="3.04" fill="#4851f3"/>
<rect x="222.98" y="158.84" width="25.27" height="3.04" fill="#4853f5"/>
<rect x="222.98" y="161.58" width="25.27" height="3.04" fill="#4755f6"/>
<rect x="222.98" y="164.32" width="25.27" height="3.04" fill="#4757f7"/>
<rect x="222.98" y="167.05" width="25.27" height="3.04" fill="#475af9"/>
<rect x="222.98" y="169.79" width="25.27" height="3.04" fill="#475cfa"/>
<rect x="222.98" y="172.53" width="25.27" height="3.04" fill="#465efb"/>
<rect x="222.98" y="175.26" width="25.27" height="2.74" fill="#4561fc"/>
<rect x="247.94" y="13.80" width="25.27" height="3.04" fill="#2a92ee"/>
<rect x="247.94" y="16.54" width="25.27" height="3.04" fill="#2c8ff1"/>
<rect x="247.94" y="19.27" width="25.27" height="3.04" fill="#2d8bf3"/>
<rect x="247.94" y="22.01" width="25.27" height="3.04" fill="#2d88f6"/>
<rect x="247.94" y="24.75" width="25.27" height="3.04" fill="#2e84f8"/>
<rect x="247.94" y="27.48" width="25.27" height="3.04" fill="#2f81fa"/>
<rect x="247.94" y="30.22" width="25.27" height="3.04" fill="#317dfc"/>
<rect x="247.94" y="32.96" width="25.27" height="3.04" fill="#3479fd"/>
<rect x="247.94" y="35.69" width="25.27" height="3.04" fill="#3876fe"/>
<rect x="247.94" y="38.43" width="25.27" height="3.04" fill="#3b72ff"/>
<rect x="247.94" y="41.17" width="25.27" height="3.04" fill="#3e6fff"/>
<rect x="247.94" y="43.90" width="25.27" height="3.04" fill="#416bfe"/>
<rect x="247.94" y="46.64" width="25.27" height="3.04" fill="#4368fe"/>
<rect x="247.94" y="49.38" width="25.27" height="3.04" fill="#4465fd"/>
<rect x="247.94" y="52.11" width="25.27" height="3.04" fill="#4563fc"/>
<rect x="247.94" y="54.85" width="25.27" height="3.04" fill="#4660fb"/>
<rect x="247.94" y="57.59" width="25.27" height="3.04" fill="#465dfa"/>
<rect x="247.94" y="60.32" width="25.27" height="3.04" fill="#475bf9"/>
<rect x="247.94" y="63.06" width="25.27" height="3.04" fill="#4758f8"/>
<rect x="247.94" y="65.80" width="25.27" height="3.04" fill="#4756f7"/>
<rect x="247.94" y="68.53" width="25.27" height="3.04" fill="#4854f5"/>
<rect x="247.94" y="71.27" width="25.27" height="3.04" fill="#4852f4"/>
<rect x="247.94" y="74.01" width="25.27" height="3.04" fill="#4850f3"/>
<rect x="247.94" y="76.74" width="25.27" height="3.04" fill="#484ef1"/>
<rect x="247.94" y="79.48" width="25.27" height="3.04" fill="#484df0"/>
<rect x="247.94" y="82.22" width="25.27" height="3.04" fill="#484bef"/>
<rect x="247.94" y="84.95" width="25.27" height="3.04" fill="#484aee"/>
<rect x="247.94" y="87.69" width="25.27" height="3.04" fill="#4848ec"/>
<rect x="247.94" y="90.43" width="25.27" height="3.04" fill="#4747eb"/>
<rect x="247.94" y="93.16" width="25.27" height="3.04" fill="#4746ea"/>
<rect x="247.94" y="95.90" width="25.27" height="3.04" fill="#4745e9"/>
<rect x="247.94" y="98.64" width="25.27" height="3.04" fill="#4744e9"/>
<rect x="247.94" y="101.37" width="25.27" height="3.04" fill="#4744e8"/>
<rect x="247.94" y="104.11" width="25.27" height="3.04" fill="#4743e7"/>
<rect x="247.94" y="106.85" width="25.27" height="3.04" fill="#4743e7"/>
<rect x="247.94" y="109.58" width="25.27" height="3.04" fill="#4743e7"/>
<rect x="247.94" y="112.32" width="25.27" height="3.04" fill="#4742e6"/>
<rect x="247.94" y="115.06" width="25.27" height="3.04" fill="#4742e6"/>
<rect x="247.94" y="117.79" width="25.27" height="3.04" fill="#4742e6"/>
<rect x="247.94" y="120.53" width="25.27" height="3.04" fill="#4743e7"/>
<rect x="247.94" y="123.27" width="25.27" height="3.04" fill="#4743e7"/>
<rect x="247.94" y="126.00" width="25.27" height="3.04" fill="#4744e8"/>
<rect x="247.94" y="128.74" width="25.27" height="3.04" fill="#4744e8"/>
<rect x="247.94" y="131.48" width="25.27" height="3.04" fill="#4745e9"/>
<rect x="247.94" y="134.21" width="25.27" height="3.04" fill="#4746ea"/>
<rect x="247.94" y="136.95" width="25.27" height="3.04" fill="#4747eb"/>
<rect x="247.94" y="139.69" width="25.27" height="3.04" fill="#4848ec"/>
<rect x="247.94" y="142.42" width="25.27" height="3.04" fill="#4849ed"/>
<rect x="247.94" y="145.16" width="25.27" height="3.04" fill="#484aee"/>
<rect x="247.94" y="147.90" width="25.27" height="3.04" fill="#484cef"/>
<rect x="247.94" y="150.63" width="25.27" height="3.04" fill="#484ef1"/>
<rect x="247.94" y="153.37" width="25.27" height="3.04" fill="#484ff2"/>
<rect x="247.94" y="156.11" width="25.27" height="3.04" fill="#4851f3"/>
<rect x="247.94" y="158.84" width="25.27" height="3.04" fill="#4853f5"/>
<rect x="247.94" y="161.58" width="25.27" height="3.04" fill="#4755f6"/>
<rect x="247.94" y="164.32" width="25.27" height="3.04" fill="#4757f7"/>
<rect x="247.94" y="167.05" width="25.27" height="3.04" fill="#475af9"/>
<rect x="247.94" y="169.79" width="25.27" height="3.04" fill="#475cfa"/>
<rect x="247.94" y="172.53" width="25.27" height="3.04" fill="#465ffb"/>
<rect x="247.94" y="175.26" width="25.27" height="2.74" fill="#4561fc"/>
<rect x="272.91" y="13.80" width="25.27" height="3.04" fill="#249fe6"/>
<rect x="272.91" y="16.54" width="25.27" height="3.04" fill="#259be8"/>
<rect x="272.91" y="19.27" width="25.27" height="3.04" fill="#2798ea"/>
<rect x="272.91" y="22.01" width="25.27" height="3.04" fill="#2994ed"/>
<rect x="272.91" y="24.75" width="25.27" height="3.04" fill="#2b90ef"/>
<rect x="272.91" y="27.48" width="25.27" height="3.04" fill="#2d8df2"/>
<rect x="272.91" y="30.22" width="25.27" height="3.04" fill="#2d89f5"/>
<rect x="272.91" y="32.96" width="25.27" height="3.04" fill="#2e86f8"/>
<rect x="272.91" y="35.69" width="25.27" height="3.04" fill="#2f82fa"/>
<rect x="272.91" y="38.43" width="25.27" height="3.04" fill="#307efb"/>
<rect x="272.91" y="41.17" width="25.27" height="3.04" fill="#337bfd"/>
<rect x="272.91" y="43.90" width="25.27" height="3.04" fill="#3777fe"/>
<rect x="272.91" y="46.64" width="25.27" height="3.04" fill="#3a73fe"/>
<rect x="272.91" y="49.38" width="25.27" height="3.04" fill="#3e70ff"/>
<rect x="272.91" y="52.11" width="25.27" height="3.04" fill="#406cfe"/>
<rect x="272.91" y="54.85" width="25.27" height="3.04" fill="#4269fe"/>
<rect x="272.91" y="57.59" width="25.27" height="3.04" fill="#4466fd"/>
<rect x="272.91" y="60.32" width="25.27" height="3.04" fill="#4563fd"/>
<rect x="272.91" y="63.06" width="25.27" height="3.04" fill="#4661fc"/>
<rect x="272.91" y="65.80" width="25.27" height="3.04" fill="#465efb"/>
<rect x="272.91" y="68.53" width="25.27" height="3.04" fill="#475bfa"/>
<rect x="272.91" y="71.27" width="25.27" height="3.04" fill="#4759f8"/>
<rect x="272.91" y="74.01" width="25.27" height="3.04" fill="#4757f7"/>
<rect x="272.91" y="76.74" width="25.27" height="3.04" fill="#4755f6"/>
<rect x="272.91" y="79.48" width="25.27" height="3.04" fill="#4853f5"/>
<rect x="272.91" y="82.22" width="25.27" height="3.04" fill="#4851f3"/>
<rect x="272.91" y="84.95" width="25.27" height="3.04" fill="#484ff2"/>
<rect x="272.91" y="87.69" width="25.27" height="3.04" fill="#484ef1"/>
<rect x="272.91" y="90.43" width="25.27" height="3.04" fill="#484cf0"/>
<rect x="272.91" y="93.16" width="25.27" height="3.04" fill="#484bef"/>
<rect x="272.91" y="95.90" width="25.27" height="3.04" fill="#484aed"/>
<rect x="272.91" y="98.64" width="25.27" height="3.04" fill="#4849ed"/>
<rect x="272.91" y="101.37" width="25.27" height="3.04" fill="#4848ec"/>
<rect x="272.91" y="104.11" width="25.27" height="3.04" fill="#4747eb"/>
<rect x="272.91" y="106.85" width="25.27" height="3.04" fill="#4746ea"/>
<rect x="272.91" y="109.58" width="25.27" height="3.04" fill="#4746ea"/>
<rect x="272.91" y="112.32" width="25.27" height="3.04" fill="#4745e9"/>
<rect x="272.91" y="115.06" width="25.27" height="3.04" fill="#4745e9"/>
<rect x="272.91" y="117.79" width="25.27" height="3.04" fill="#4745e9"/>
<rect x="272.91" y="120.53" width="25.27" height="3.04" fill="#4745e9"/>
<rect x="272.91" y="123.27" width="25.27" height="3.04" fill="#4745e9"/>
<rect x="272.91" y="126.00" width="25.27" height="3.04" fill="#4745e9"/>
<rect x="272.91" y="128.74" width="25.27" height="3.04" fill="#4746ea"/>
<rect x="272.91" y="131.48" width="25.27" height="3.04" fill="#4746ea"/>
<rect x="272.91" y="134.21" width="25.27" height="3.04" fill="#4747eb"/>
<rect x="272.91" y="136.95" width="25.27" height="3.04" fill="#4848ec"/>
<rect x="272.91" y="139.69" width="25.27" height="3.04" fill="#4849ed"/>
<rect x="272.91" y="142.42" width="25.27" height="3.04" fill="#484aee"/>
<rect x="272.91" y="145.16" width="25.27" height="3.04" fill="#484bef"/>
<rect x="272.91" y="147.90" width="25.27" height="3.04" fill="#484df0"/>
<rect x="272.91" y="150.63" width="25.27" height="3.04" fill="#484ef1"/>
<rect x="272.91" y="153.37" width="25.27" height="3.04" fill="#4850f2"/>
<rect x="272.91" y="156.11" width="25.27" height="3.04" fill="#4851f4"/>
<rect x="272.91" y="158.84" width="25.27" height="3.04" fill="#4853f5"/>
<rect x="272.91" y="161.58" width="25.27" height="3.04" fill="#4755f6"/>
<rect x="272.91" y="164.32" width="25.27" height="3.04" fill="#4757f8"/>
<rect x="272.91" y="167.05" width="25.27" height="3.04" fill="#475af9"/>
<rect x="272.91" y="169.79" width="25.27" height="3.04" fill="#475cfa"/>
<rect x="272.91" y="172.53" width="25.27" height="3.04" fill="#465ffb"/>
<rect x="272.91" y="175.26" width="25.27" height="2.74" fill="#4561fc"/>
<rect x="297.88" y="13.80" width="25.27" height="3.04" fill="#1caadf"/>
<rect x="297.88" y="16.54" width="25.27" height="3.04" fill="#1fa6e1"/>
<rect x="297.88" y="19.27" width="25.27" height="3.04" fill="#21a3e3"/>
<rect x="297.88" y="22.01" width="25.27" height="3.04" fill="#249fe5"/>
<rect x="297.88" y="24.75" width="25.27" height="3.04" fill="#259be7"/>
<rect x="297.88" y="27.48" width="25.27" height="3.04" fill="#2798ea"/>
<rect x="297.88" y="30.22" width="25.27" height="3.04" fill="#2994ed"/>
<rect x="297.88" y="32.96" width="25.27" height="3.04" fill="#2b90ef"/>
<rect x="297.88" y="35.69" width="25.27" height="3.04" fill="#2d8df2"/>
<rect x="297.88" y="38.43" width="25.27" height="3.04" fill="#2d89f5"/>
<rect x="297.88" y="41.17" width="25.27" height="3.04" fill="#2e85f8"/>
<rect x="297.88" y="43.90" width="25.27" height="3.04" fill="#2f82fa"/>
<rect x="297.88" y="46.64" width="25.27" height="3.04" fill="#317efb"/>
<rect x="297.88" y="49.38" width="25.27" height="3.04" fill="#337afd"/>
<rect x="297.88" y="52.11" width="25.27" height="3.04" fill="#3776fe"/>
<rect x="297.88" y="54.85" width="25.27" height="3.04" fill="#3b73fe"/>
<rect x="297.88" y="57.59" width="25.27" height="3.04" fill="#3e6fff"/>
<rect x="297.88" y="60.32" width="25.27" height="3.04" fill="#406cfe"/>
<rect x="297.88" y="63.06" width="25.27" height="3.04" fill="#4369fe"/>
<rect x="297.88" y="65.80" width="25.27" height="3.04" fill="#4466fd"/>
<rect x="297.88" y="68.53" width="25.27" height="3.04" fill="#4563fc"/>
<rect x="297.88" y="71.27" width="25.27" height="3.04" fill="#4660fc"/>
<rect x="297.88" y="74.01" width="25.27" height="3.04" fill="#465efb"/>
<rect x="297.88" y="76.74" width="25.27" height="3.04" fill="#475bf9"/>
<rect x="297.88" y="79.48" width="25.27" height="3.04" fill="#4759f8"/>
<rect x="297.88" y="82.22" width="25.27" height="3.04" fill="#4757f7"/>
<rect x="297.88" y="84.95" width="25.27" height="3.04" fill="#4755f6"/>
<rect x="297.88" y="87.69" width="25.27" height="3.04" fill="#4853f5"/>
<rect x="297.88" y="90.43" width="25.27" height="3.04" fill="#4851f3"/>
<rect x="297.88" y="93.16" width="25.27" height="3.04" fill="#484ff2"/>
<rect x="297.88" y="95.90" width="25.27" height="3.04" fill="#484ef1"/>
<rect x="297.88" y="98.64" width="25.27" height="3.04" fill="#484df0"/>
<rect x="297.88" y="101.37" width="25.27" height="3.04" fill="#484bef"/>
<rect x="297.88" y="104.11" width="25.27" height="3.04" fill="#484aee"/>
<rect x="297.88" y="106.85" width="25.27" height="3.04" fill="#4849ed"/>
<rect x="297.88" y="109.58" width="25.27" height="3.04" fill="#4849ed"/>
<rect x="297.88" y="112.32" width="25.27" height="3.04" fill="#4848ec"/>
<rect x="297.88" y="115.06" width="25.27" height="3.04" fill="#4848ec"/>
<rect x="297.88" y="117.79" width="25.27" height="3.04" fill="#4747eb"/>
<rect x="297.88" y="120.53" width="25.27" height="3.04" fill="#4747eb"/>
<rect x="297.88" y="123.27" width="25.27" height="3.04" fill="#4747eb"/>
<rect x="297.88" y="126.00" width="25.27" height="3.04" fill="#4747eb"/>
<rect x="297.88" y="128.74" width="25.27" height="3.04" fill="#4747eb"/>
<rect x="297.88" y="131.48" width="25.27" height="3.04" fill="#4848ec"/>
<rect x="297.88" y="134.21" width="25.27" height="3.04" fill="#4848ec"/>
<rect x="297.88" y="136.95" width="25.27" height="3.04" fill="#4849ed"/>
<rect x="297.88" y="139.69" width="25.27" height="3.04" fill="#484aee"/>
<rect x="297.88" y="142.42" width="25.27" height="3.04" fill="#484bee"/>
<rect x="297.88" y="145.16" width="25.27" height="3.04" fill="#484cef"/>
<rect x="297.88" y="147.90" width="25.27" height="3.04" fill="#484df0"/>
<rect x="297.88" y="150.63" width="25.27" height="3.04" fill="#484ff1"/>
<rect x="297.88" y="153.37" width="25.27" height="3.04" fill="#4850f3"/>
<rect x="297.88" y="156.11" width="25.27" height="3.04" fill="#4852f4"/>
<rect x="297.88" y="158.84" width="25.27" height="3.04" fill="#4854f5"/>
<rect x="297.88" y="161.58" width="25.27" height="3.04" fill="#4756f6"/>
<rect x="297.88" y="164.32" width="25.27" height="3.04" fill="#4758f8"/>
<rect x="297.88" y="167.05" width="25.27" height="3.04" fill="#475af9"/>
<rect x="297.88" y="169.79" width="25.27" height="3.04" fill="#475cfa"/>
<rect x="297.88" y="172.53" width="25.27" height="3.04" fill="#465ffb"/>
<rect x="297.88" y="175.26" width="25.27" height="2.74" fill="#4561fc"/>
<rect x="322.85" y="13.80" width="25.27" height="3.04" fill="#10b2d5"/>
<rect x="322.85" y="16.54" width="25.27" height="3.04" fill="#16afd9"/>
<rect x="322.85" y="19.27" width="25.27" height="3.04" fill="#1aabdd"/>
<rect x="322.85" y="22.01" width="25.27" height="3.04" fill="#1ea8e0"/>
<rect x="322.85" y="24.75" width="25.27" height="3.04" fill="#20a4e3"/>
<rect x="322.85" y="27.48" width="25.27" height="3.04" fill="#23a0e5"/>
<rect x="322.85" y="30.22" width="25.27" height="3.04" fill="#259de7"/>
<rect x="322.85" y="32.96" width="25.27" height="3.04" fill="#2699e9"/>
<rect x="322.85" y="35.69" width="25.27" height="3.04" fill="#2895ec"/>
<rect x="322.85" y="38.43" width="25.27" height="3.04" fill="#2b91ef"/>
<rect x="322.85" y="41.17" width="25.27" height="3.04" fill="#2c8ef2"/>
<rect x="322.85" y="43.90" width="25.27" height="3.04" fill="#2d8af5"/>
<rect x="322.85" y="46.64" width="25.27" height="3.04" fill="#2e86f7"/>
<rect x="322.85" y="49.38" width="25.27" height="3.04" fill="#2f82f9"/>
<rect x="322.85" y="52.11" width="25.27" height="3.04" fill="#307ffb"/>
<rect x="322.85" y="54.85" width="25.27" height="3.04" fill="#337bfc"/>
<rect x="322.85" y="57.59" width="25.27" height="3.04" fill="#3777fe"/>
<rect x="322.85" y="60.32" width="25.27" height="3.04" fill="#3a73fe"/>
<rect x="322.85" y="63.06" width="25.27" height="3.04" fill="#3e70ff"/>
<rect x="322.85" y="65.80" width="25.27" height="3.04" fill="#406cfe"/>
<rect x="322.85" y="68.53" width="25.27" height="3.04" fill="#4269fe"/>
<rect x="322.85" y="71.27" width="25.27" height="3.04" fill="#4466fd"/>
<rect x="322.85" y="74.01" width="25.27" height="3.04" fill="#4563fd"/>
<rect x="322.85" y="76.74" width="25.27" height="3.04" fill="#4660fc"/>
<rect x="322.85" y="79.48" width="25.27" height="3.04" fill="#465efb"/>
<rect x="322.85" y="82.22" width="25.27" height="3.04" fill="#475bfa"/>
<rect x="322.85" y="84.95" width="25.27" height="3.04" fill="#4759f8"/>
<rect x="322.85" y="87.69" width="25.27" height="3.04" fill="#4757f7"/>
<rect x="322.85" y="90.43" width="25.27" height="3.04" fill="#4755f6"/>
<rect x="322.85" y="93.16" width="25.27" height="3.04" fill="#4853f5"/>
<rect x="322.85" y="95.90" width="25.27" height="3.04" fill="#4852f4"/>
<rect x="322.85" y="98.64" width="25.27" height="3.04" fill="#4850f3"/>
<rect x="322.85" y="101.37" width="25.27" height="3.04" fill="#484ff1"/>
<rect x="322.85" y="104.11" width="25.27" height="3.04" fill="#484df1"/>
<rect x="322.85" y="106.85" width="25.27" height="3.04" fill="#484cf0"/>
<rect x="322.85" y="109.58" width="25.27" height="3.04" fill="#484bef"/>
<rect x="322.85" y="112.32" width="25.27" height="3.04" fill="#484aee"/>
<rect x="322.85" y="115.06" width="25.27" height="3.04" fill="#484aed"/>
<rect x="322.85" y="117.79" width="25.27" height="3.04" fill="#4849ed"/>
<rect x="322.85" y="120.53" width="25.27" height="3.04" fill="#4849ed"/>
<rect x="322.85" y="123.27" width="25.27" height="3.04" fill="#4849ed"/>
<rect x="322.85" y="126.00" width="25.27" height="3.04" fill="#4849ec"/>
<rect x="322.85" y="128.74" width="25.27" height="3.04" fill="#4849ed"/>
<rect x="322.85" y="131.48" width="25.27" height="3.04" fill="#4849ed"/>
<rect x="322.85" y="134.21" width="25.27" height="3.04" fill="#4849ed"/>
<rect x="322.85" y="136.95" width="25.27" height="3.04" fill="#484aee"/>
<rect x="322.85" y="139.69" width="25.27" height="3.04" fill="#484bee"/>
<rect x="322.85" y="142.42" width="25.27" height="3.04" fill="#484bef"/>
<rect x="322.85" y="145.16" width="25.27" height="3.04" fill="#484cf0"/>
<rect x="322.85" y="147.90" width="25.27" height="3.04" fill="#484ef1"/>
<rect x="322.85" y="150.63" width="25.27" height="3.04" fill="#484ff2"/>
<rect x="322.85" y="153.37" width="25.27" height="3.04" fill="#4850f3"/>
<rect x="322.85" y="156.11" width="25.27" height="3.04" fill="#4852f4"/>
<rect x="322.85" y="158.84" width="25.27" height="3.04" fill="#4854f5"/>
<rect x="322.85" y="161.58" width="25.27" height="3.04" fill="#4756f6"/>
<rect x="322.85" y="164.32" width="25.27" height="3.04" fill="#4758f8"/>
<rect x="322.85" y="167.05" width="25.27" height="3.04" fill="#475af9"/>
<rect x="322.85" y="169.79" width="25.27" height="3.04" fill="#475cfa"/>
<rect x="322.85" y="172.53" width="25.27" height="3.04" fill="#465ffb"/>
<rect x="322.85" y="175.26" width="25.27" height="2.74" fill="#4561fc"/>
<rect x="347.82" y="13.80" width="25.27" height="3.04" fill="#01b8c9"/>
<rect x="347.82" y="16.54" width="25.27" height="3.04" fill="#06b5cf"/>
<rect x="347.82" y="19.27" width="25.27" height="3.04" fill="#0eb2d4"/>
<rect x="347.82" y="22.01" width="25.27" height="3.04" fill="#15afd9"/>
<rect x="347.82" y="24.75" width="25.27" height="3.04" fill="#1aacdd"/>
<rect x="347.82" y="27.48" width="25.27" height="3.04" fill="#1da8e0"/>
<rect x="347.82" y="30.22" width="25.27" height="3.04" fill="#20a5e3"/>
<rect x="347.82" y="32.96" width="25.27" height="3.04" fill="#23a1e4"/>
<rect x="347.82" y="35.69" width="25.27" height="3.04" fill="#259de7"/>
<rect x="347.82" y="38.43" width="25.27" height="3.04" fill="#2699e9"/>
<rect x="347.82" y="41.17" width="25.27" height="3.04" fill="#2895ec"/>
<rect x="347.82" y="43.90" width="25.27" height="3.04" fill="#2b92ef"/>
<rect x="347.82" y="46.64" width="25.27" height="3.04" fill="#2c8ef2"/>
<rect x="347.82" y="49.38" width="25.27" height="3.04" fill="#2d8af5"/>
<rect x="347.82" y="52.11" width="25.27" height="3.04" fill="#2e86f7"/>
<rect x="347.82" y="54.85" width="25.27" height="3.04" fill="#2f82f9"/>
<rect x="347.82" y="57.59" width="25.27" height="3.04" fill="#307ffb"/>
<rect x="347.82" y="60.32" width="25.27" height="3.04" fill="#337bfd"/>
<rect x="347.82" y="63.06" width="25.27" height="3.04" fill="#3777fe"/>
<rect x="347.82" y="65.80" width="25.27" height="3.04" fill="#3a73fe"/>
<rect x="347.82" y="68.53" width="25.27" height="3.04" fill="#3e6fff"/>
<rect x="347.82" y="71.27" width="25.27" height="3.04" fill="#406cfe"/>
<rect x="347.82" y="74.01" width="25.27" height="3.04" fill="#4269fe"/>
<rect x="347.82" y="76.74" width="25.27" height="3.04" fill="#4466fd"/>
<rect x="347.82" y="79.48" width="25.27" height="3.04" fill="#4563fc"/>
<rect x="347.82" y="82.22" width="25.27" height="3.04" fill="#4660fc"/>
<rect x="347.82" y="84.95" width="25.27" height="3.04" fill="#465efb"/>
<rect x="347.82" y="87.69" width="25.27" height="3.04" fill="#475bfa"/>
<rect x="347.82" y="90.43" width="25.27" height="3.04" fill="#4759f8"/>
<rect x="347.82" y="93.16" width="25.27" height="3.04" fill="#4757f7"/>
<rect x="347.82" y="95.90" width="25.27" height="3.04" fill="#4755f6"/>
<rect x="347.82" y="98.64" width="25.27" height="3.04" fill="#4853f5"/>
<rect x="347.82" y="101.37" width="25.27" height="3.04" fill="#4852f4"/>
<rect x="347.82" y="104.11" width="25.27" height="3.04" fill="#4850f3"/>
<rect x="347.82" y="106.85" width="25.27" height="3.04" fill="#484ff2"/>
<rect x="347.82" y="109.58" width="25.27" height="3.04" fill="#484ef1"/>
<rect x="347.82" y="112.32" width="25.27" height="3.04" fill="#484df0"/>
<rect x="347.82" y="115.06" width="25.27" height="3.04" fill="#484cef"/>
<rect x="347.82" y="117.79" width="25.27" height="3.04" fill="#484bef"/>
<rect x="347.82" y="120.53" width="25.27" height="3.04" fill="#484bee"/>
<rect x="347.82" y="123.27" width="25.27" height="3.04" fill="#484aee"/>
<rect x="347.82" y="126.00" width="25.27" height="3.04" fill="#484aee"/>
<rect x="347.82" y="128.74" width="25.27" height="3.04" fill="#484aee"/>
<rect x="347.82" y="131.48" width="25.27" height="3.04" fill="#484aee"/>
<rect x="347.82" y="134.21" width="25.27" height="3.04" fill="#484aee"/>
<rect x="347.82" y="136.95" width="25.27" height="3.04" fill="#484bee"/>
<rect x="347.82" y="139.69" width="25.27" height="3.04" fill="#484bef"/>
<rect x="347.82" y="142.42" width="25.27" height="3.04" fill="#484cf0"/>
<rect x="347.82" y="145.16" width="25.27" height="3.04" fill="#484df0"/>
<rect x="347.82" y="147.90" width="25.27" height="3.04" fill="#484ef1"/>
<rect x="347.82" y="150.63" width="25.27" height="3.04" fill="#484ff2"/>
<rect x="347.82" y="153.37" width="25.27" height="3.04" fill="#4851f3"/>
<rect x="347.82" y="156.11" width="25.27" height="3.04" fill="#4852f4"/>
<rect x="347.82" y="158.84" width="25.27" height="3.04" fill="#4854f5"/>
<rect x="347.82" y="161.58" width="25.27" height="3.04" fill="#4756f6"/>
<rect x="347.82" y="164.32" width="25.27" height="3.04" fill="#4758f8"/>
<rect x="347.82" y="167.05" width="25.27" height="3.04" fill="#475af9"/>
<rect x="347.82" y="169.79" width="25.27" height="3.04" fill="#475cfa"/>
<rect x="347.82" y="172.53" width="25.27" height="3.04" fill="#465ffb"/>
<rect x="347.82" y="175.26" width="25.27" height="2.74" fill="#4561fc"/>
<rect x="372.78" y="13.80" width="25.27" height="3.04" fill="#17bfb6"/>
<rect x="372.78" y="16.54" width="25.27" height="3.04" fill="#0bbdbd"/>
<rect x="372.78" y="19.27" width="25.27" height="3.04" fill="#02bbc3"/>
<rect x="372.78" y="22.01" width="25.27" height="3.04" fill="#01b8c9"/>
<rect x="372.78" y="24.75" width="25.27" height="3.04" fill="#06b5cf"/>
<rect x="372.78" y="27.48" width="25.27" height="3.04" fill="#0fb2d4"/>
<rect x="372.78" y="30.22" width="25.27" height="3.04" fill="#16afd9"/>
<rect x="372.78" y="32.96" width="25.27" height="3.04" fill="#1aabdd"/>
<rect x="372.78" y="35.69" width="25.27" height="3.04" fill="#1ea8e1"/>
<rect x="372.78" y="38.43" width="25.27" height="3.04" fill="#21a4e3"/>
<rect x="372.78" y="41.17" width="25.27" height="3.04" fill="#23a0e5"/>
<rect x="372.78" y="43.90" width="25.27" height="3.04" fill="#259ce7"/>
<rect x="372.78" y="46.64" width="25.27" height="3.04" fill="#2798ea"/>
<rect x="372.78" y="49.38" width="25.27" height="3.04" fill="#2994ed"/>
<rect x="372.78" y="52.11" width="25.27" height="3.04" fill="#2b90f0"/>
<rect x="372.78" y="54.85" width="25.27" height="3.04" fill="#2d8cf3"/>
<rect x="372.78" y="57.59" width="25.27" height="3.04" fill="#2d88f6"/>
<rect x="372.78" y="60.32" width="25.27" height="3.04" fill="#2e85f8"/>
<rect x="372.78" y="63.06" width="25.27" height="3.04" fill="#2f81fa"/>
<rect x="372.78" y="65.80" width="25.27" height="3.04" fill="#317dfc"/>
<rect x="372.78" y="68.53" width="25.27" height="3.04" fill="#3579fd"/>
<rect x="372.78" y="71.27" width="25.27" height="3.04" fill="#3975fe"/>
<rect x="372.78" y="74.01" width="25.27" height="3.04" fill="#3c71ff"/>
<rect x="372.78" y="76.74" width="25.27" height="3.04" fill="#3f6efe"/>
<rect x="372.78" y="79.48" width="25.27" height="3.04" fill="#426afe"/>
<rect x="372.78" y="82.22" width="25.27" height="3.04" fill="#4367fd"/>
<rect x="372.78" y="84.95" width="25.27" height="3.04" fill="#4464fd"/>
<rect x="372.78" y="87.69" width="25.27" height="3.04" fill="#4561fc"/>
<rect x="372.78" y="90.43" width="25.27" height="3.04" fill="#465ffb"/>
<rect x="372.78" y="93.16" width="25.27" height="3.04" fill="#475cfa"/>
<rect x="372.78" y="95.90" width="25.27" height="3.04" fill="#475af9"/>
<rect x="372.78" y="98.64" width="25.27" height="3.04" fill="#4758f8"/>
<rect x="372.78" y="101.37" width="25.27" height="3.04" fill="#4756f7"/>
<rect x="372.78" y="104.11" width="25.27" height="3.04" fill="#4854f6"/>
<rect x="372.78" y="106.85" width="25.27" height="3.04" fill="#4853f5"/>
<rect x="372.78" y="109.58" width="25.27" height="3.04" fill="#4851f4"/>
<rect x="372.78" y="112.32" width="25.27" height="3.04" fill="#4850f3"/>
<rect x="372.78" y="115.06" width="25.27" height="3.04" fill="#484ff2"/>
<rect x="372.78" y="117.79" width="25.27" height="3.04" fill="#484ef1"/>
<rect x="372.78" y="120.53" width="25.27" height="3.04" fill="#484df0"/>
<rect x="372.78" y="123.27" width="25.27" height="3.04" fill="#484df0"/>
<rect x="372.78" y="126.00" width="25.27" height="3.04" fill="#484cf0"/>
<rect x="372.78" y="128.74" width="25.27" height="3.04" fill="#484cef"/>
<rect x="372.78" y="131.48" width="25.27" height="3.04" fill="#484cef"/>
<rect x="372.78" y="134.21" width="25.27" height="3.04" fill="#484cef"/>
<rect x="372.78" y="136.95" width="25.27" height="3.04" fill="#484cf0"/>
<rect x="372.78" y="139.69" width="25.27" height="3.04" fill="#484df0"/>
<rect x="372.78" y="142.42" width="25.27" height="3.04" fill="#484df0"/>
<rect x="372.78" y="145.16" width="25.27" height="3.04" fill="#484ef1"/>
<rect x="372.78" y="147.90" width="25.27" height="3.04" fill="#484ff2"/>
<rect x="372.78" y="150.63" width="25.27" height="3.04" fill="#4850f3"/>
<rect x="372.78" y="153.37" width="25.27" height="3.04" fill="#4851f3"/>
<rect x="372.78" y="156.11" width="25.27" height="3.04" fill="#4853f4"/>
<rect x="372.78" y="158.84" width="25.27" height="3.04" fill="#4854f5"/>
<rect x="372.78" y="161.58" width="25.27" height="3.04" fill="#4756f7"/>
<rect x="372.78" y="164.32" width="25.27" height="3.04" fill="#4758f8"/>
<rect x="372.78" y="167.05" width="25.27" height="3.04" fill="#475af9"/>
<rect x="372.78" y="169.79" width="25.27" height="3.04" fill="#475cfa"/>
<rect x="372.78" y="172.53" width="25.27" height="3.04" fill="#465ffb"/>
<rect x="372.78" y="175.26" width="25.27" height="2.74" fill="#4561fc"/>
<rect x="397.75" y="13.80" width="25.27" height="3.04" fill="#2fc5a3"/>
<rect x="397.75" y="16.54" width="25.27" height="3.04" fill="#28c3aa"/>
<rect x="397.75" y="19.27" width="25.27" height="3.04" fill="#1fc0b2"/>
<rect x="397.75" y="22.01" width="25.27" height="3.04" fill="#13beb8"/>
<rect x="397.75" y="24.75" width="25.27" height="3.04" fill="#07bcbf"/>
<rect x="397.75" y="27.48" width="25.27" height="3.04" fill="#01b9c6"/>
<rect x="397.75" y="30.22" width="25.27" height="3.04" fill="#03b7cc"/>
<rect x="397.75" y="32.96" width="25.27" height="3.04" fill="#0ab4d2"/>
<rect x="397.75" y="35.69" width="25.27" height="3.04" fill="#13b1d7"/>
<rect x="397.75" y="38.43" width="25.27" height="3.04" fill="#19addc"/>
<rect x="397.75" y="41.17" width="25.27" height="3.04" fill="#1ca9df"/>
<rect x="397.75" y="43.90" width="25.27" height="3.04" fill="#1fa5e2"/>
<rect x="397.75" y="46.64" width="25.27" height="3.04" fill="#22a1e4"/>
<rect x="397.75" y="49.38" width="25.27" height="3.04" fill="#249de6"/>
<rect x="397.75" y="52.11" width="25.27" height="3.04" fill="#2699e9"/>
<rect x="397.75" y="54.85" width="25.27" height="3.04" fill="#2896ec"/>
<rect x="397.75" y="57.59" width="25.27" height="3.04" fill="#2b91ef"/>
<rect x="397.75" y="60.32" width="25.27" height="3.04" fill="#2d8df2"/>
<rect x="397.75" y="63.06" width="25.27" height="3.04" fill="#2d89f5"/>
<rect x="397.75" y="65.80" width="25.27" height="3.04" fill="#2e86f8"/>
<rect x="397.75" y="68.53" width="25.27" height="3.04" fill="#2f82fa"/>
<rect x="397.75" y="71.27" width="25.27" height="3.04" fill="#317efb"/>
<rect x="397.75" y="74.01" width="25.27" height="3.04" fill="#347afd"/>
<rect x="397.75" y="76.74" width="25.27" height="3.04" fill="#3876fe"/>
<rect x="397.75" y="79.48" width="25.27" height="3.04" fill="#3c72ff"/>
<rect x="397.75" y="82.22" width="25.27" height="3.04" fill="#3f6eff"/>
<rect x="397.75" y="84.95" width="25.27" height="3.04" fill="#416bfe"/>
<rect x="397.75" y="87.69" width="25.27" height="3.04" fill="#4368fd"/>
<rect x="397.75" y="90.43" width="25.27" height="3.04" fill="#4465fd"/>
<rect x="397.75" y="93.16" width="25.27" height="3.04" fill="#4562fc"/>
<rect x="397.75" y="95.90" width="25.27" height="3.04" fill="#465ffb"/>
<rect x="397.75" y="98.64" width="25.27" height="3.04" fill="#465dfa"/>
<rect x="397.75" y="101.37" width="25.27" height="3.04" fill="#475bf9"/>
<rect x="397.75" y="104.11" width="25.27" height="3.04" fill="#4759f8"/>
<rect x="397.75" y="106.85" width="25.27" height="3.04" fill="#4757f7"/>
<rect x="397.75" y="109.58" width="25.27" height="3.04" fill="#4755f6"/>
<rect x="397.75" y="112.32" width="25.27" height="3.04" fill="#4853f5"/>
<rect x="397.75" y="115.06" width="25.27" height="3.04" fill="#4852f4"/>
<rect x="397.75" y="117.79" width="25.27" height="3.04" fill="#4851f3"/>
<rect x="397.75" y="120.53" width="25.27" height="3.04" fill="#4850f2"/>
<rect x="397.75" y="123.27" width="25.27" height="3.04" fill="#484ff2"/>
<rect x="397.75" y="126.00" width="25.27" height="3.04" fill="#484ef1"/>
<rect x="397.75" y="128.74" width="25.27" height="3.04" fill="#484ef1"/>
<rect x="397.75" y="131.48" width="25.27" height="3.04" fill="#484df1"/>
<rect x="397.75" y="134.21" width="25.27" height="3.04" fill="#484df1"/>
<rect x="397.75" y="136.95" width="25.27" height="3.04" fill="#484df1"/>
<rect x="397.75" y="139.69" width="25.27" height="3.04" fill="#484ef1"/>
<rect x="397.75" y="142.42" width="25.27" height="3.04" fill="#484ef1"/>
<rect x="397.75" y="145.16" width="25.27" height="3.04" fill="#484ff2"/>
<rect x="397.75" y="147.90" width="25.27" height="3.04" fill="#4850f2"/>
<rect x="397.75" y="150.63" width="25.27" height="3.04" fill="#4851f3"/>
<rect x="397.75" y="153.37" width="25.27" height="3.04" fill="#4852f4"/>
<rect x="397.75" y="156.11" width="25.27" height="3.04" fill="#4853f5"/>
<rect x="397.75" y="158.84" width="25.27" height="3.04" fill="#4855f6"/>
<rect x="397.75" y="161.58" width="25.27" height="3.04" fill="#4756f7"/>
<rect x="397.75" y="164.32" width="25.27" height="3.04" fill="#4758f8"/>
<rect x="397.75" y="167.05" width="25.27" height="3.04" fill="#475af9"/>
<rect x="397.75" y="169.79" width="25.27" height="3.04" fill="#475cfa"/>
<rect x="397.75" y="172.53" width="25.27" height="3.04" fill="#465ffb"/>
<rect x="397.75" y="175.26" width="25.27" height="2.74" fill="#4561fc"/>
<rect x="422.72" y="13.80" width="25.27" height="3.04" fill="#3fca8e"/>
<rect x="422.72" y="16.54" width="25.27" height="3.04" fill="#37c898"/>
<rect x="422.72" y="19.27" width="25.27" height="3.04" fill="#31c6a0"/>
<rect x="422.72" y="22.01" width="25.27" height="3.04" fill="#2bc3a8"/>
<rect x="422.72" y="24.75" width="25.27" height="3.04" fill="#22c1b0"/>
<rect x="422.72" y="27.48" width="25.27" height="3.04" fill="#16bfb7"/>
<rect x="422.72" y="30.22" width="25.27" height="3.04" fill="#09bdbe"/>
<rect x="422.72" y="32.96" width="25.27" height="3.04" fill="#02bac4"/>
<rect x="422.72" y="35.69" width="25.27" height="3.04" fill="#02b7cb"/>
<rect x="422.72" y="38.43" width="25.27" height="3.04" fill="#09b4d1"/>
<rect x="422.72" y="41.17" width="25.27" height="3.04" fill="#12b1d6"/>
<rect x="422.72" y="43.90" width="25.27" height="3.04" fill="#18addb"/>
<rect x="422.72" y="46.64" width="25.27" height="3.04" fill="#1caadf"/>
<rect x="422.72" y="49.38" width="25.27" height="3.04" fill="#1fa6e2"/>
<rect x="422.72" y="52.11" width="25.27" height="3.04" fill="#22a1e4"/>
<rect x="422.72" y="54.85" width="25.27" height="3.04" fill="#249de6"/>
<rect x="422.72" y="57.59" width="25.27" height="3.04" fill="#2699e9"/>
<rect x="422.72" y="60.32" width="25.27" height="3.04" fill="#2895ec"/>
<rect x="422.72" y="63.06" width="25.27" height="3.04" fill="#2b91ef"/>
<rect x="422.72" y="65.80" width="25.27" height="3.04" fill="#2d8df2"/>
<rect x="422.72" y="68.53" width="25.27" height="3.04" fill="#2d89f5"/>
<rect x="422.72" y="71.27" width="25.27" height="3.04" fill="#2e85f8"/>
<rect x="422.72" y="74.01" width="25.27" height="3.04" fill="#2f81fa"/>
<rect x="422.72" y="76.74" width="25.27" height="3.04" fill="#317dfc"/>
<rect x="422.72" y="79.48" width="25.27" height="3.04" fill="#3579fd"/>
<rect x="422.72" y="82.22" width="25.27" height="3.04" fill="#3975fe"/>
<rect x="422.72" y="84.95" width="25.27" height="3.04" fill="#3c71ff"/>
<rect x="422.72" y="87.69" width="25.27" height="3.04" fill="#3f6efe"/>
<rect x="422.72" y="90.43" width="25.27" height="3.04" fill="#426afe"/>
<rect x="422.72" y="93.16" width="25.27" height="3.04" fill="#4367fd"/>
<rect x="422.72" y="95.90" width="25.27" height="3.04" fill="#4464fd"/>
<rect x="422.72" y="98.64" width="25.27" height="3.04" fill="#4561fc"/>
<rect x="422.72" y="101.37" width="25.27" height="3.04" fill="#465ffb"/>
<rect x="422.72" y="104.11" width="25.27" height="3.04" fill="#475cfa"/>
<rect x="422.72" y="106.85" width="25.27" height="3.04" fill="#475af9"/>
<rect x="422.72" y="109.58" width="25.27" height="3.04" fill="#4758f8"/>
<rect x="422.72" y="112.32" width="25.27" height="3.04" fill="#4756f7"/>
<rect x="422.72" y="115.06" width="25.27" height="3.04" fill="#4755f6"/>
<rect x="422.72" y="117.79" width="25.27" height="3.04" fill="#4853f5"/>
<rect x="422.72" y="120.53" width="25.27" height="3.04" fill="#4852f4"/>
<rect x="422.72" y="123.27" width="25.27" height="3.04" fill="#4851f3"/>
<rect x="422.72" y="126.00" width="25.27" height="3.04" fill="#4850f3"/>
<rect x="422.72" y="128.74" width="25.27" height="3.04" fill="#4850f2"/>
<rect x="422.72" y="131.48" width="25.27" height="3.04" fill="#484ff2"/>
<rect x="422.72" y="134.21" width="25.27" height="3.04" fill="#484ff2"/>
<rect x="422.72" y="136.95" width="25.27" height="3.04" fill="#484ff2"/>
<rect x="422.72" y="139.69" width="25.27" height="3.04" fill="#484ff2"/>
<rect x="422.72" y="142.42" width="25.27" height="3.04" fill="#484ff2"/>
<rect x="422.72" y="145.16" width="25.27" height="3.04" fill="#4850f2"/>
<rect x="422.72" y="147.90" width="25.27" height="3.04" fill="#4850f3"/>
<rect x="422.72" y="150.63" width="25.27" height="3.04" fill="#4851f3"/>
<rect x="422.72" y="153.37" width="25.27" height="3.04" fill="#4852f4"/>
<rect x="422.72" y="156.11" width="25.27" height="3.04" fill="#4853f5"/>
<rect x="422.72" y="158.84" width="25.27" height="3.04" fill="#4755f6"/>
<rect x="422.72" y="161.58" width="25.27" height="3.04" fill="#4756f7"/>
<rect x="422.72" y="164.32" width="25.27" height="3.04" fill="#4758f8"/>
<rect x="422.72" y="167.05" width="25.27" height="3.04" fill="#475af9"/>
<rect x="422.72" y="169.79" width="25.27" height="3.04" fill="#475cfa"/>
<rect x="422.72" y="172.53" width="25.27" height="3.04" fill="#465ffb"/>
<rect x="422.72" y="175.26" width="25.27" height="2.74" fill="#4561fc"/>
<rect x="447.69" y="13.80" width="25.27" height="3.04" fill="#5bcc77"/>
<rect x="447.69" y="16.54" width="25.27" height="3.04" fill="#4dcc82"/>
<rect x="447.69" y="19.27" width="25.27" height="3.04" fill="#41ca8d"/>
<rect x="447.69" y="22.01" width="25.27" height="3.04" fill="#38c897"/>
<rect x="447.69" y="24.75" width="25.27" height="3.04" fill="#31c6a0"/>
<rect x="447.69" y="27.48" width="25.27" height="3.04" fill="#2bc3a8"/>
<rect x="447.69" y="30.22" width="25.27" height="3.04" fill="#23c1af"/>
<rect x="447.69" y="32.96" width="25.27" height="3.04" fill="#16bfb7"/>
<rect x="447.69" y="35.69" width="25.27" height="3.04" fill="#09bdbe"/>
<rect x="447.69" y="38.43" width="25.27" height="3.04" fill="#02bac5"/>
<rect x="447.69" y="41.17" width="25.27" height="3.04" fill="#02b7cb"/>
<rect x="447.69" y="43.90" width="25.27" height="3.04" fill="#09b4d1"/>
<rect x="447.69" y="46.64" width="25.27" height="3.04" fill="#13b1d7"/>
<rect x="447.69" y="49.38" width="25.27" height="3.04" fill="#19addc"/>
<rect x="447.69" y="52.11" width="25.27" height="3.04" fill="#1ca9e0"/>
<rect x="447.69" y="54.85" width="25.27" height="3.04" fill="#20a5e2"/>
<rect x="447.69" y="57.59" width="25.27" height="3.04" fill="#23a1e4"/>
<rect x="447.69" y="60.32" width="25.27" height="3.04" fill="#259de7"/>
<rect x="447.69" y="63.06" width="25.27" height="3.04" fill="#2698ea"/>
<rect x="447.69" y="65.80" width="25.27" height="3.04" fill="#2994ed"/>
<rect x="447.69" y="68.53" width="25.27" height="3.04" fill="#2b90f0"/>
<rect x="447.69" y="71.27" width="25.27" height="3.04" fill="#2d8cf3"/>
<rect x="447.69" y="74.01" width="25.27" height="3.04" fill="#2d88f6"/>
<rect x="447.69" y="76.74" width="25.27" height="3.04" fill="#2e84f9"/>
<rect x="447.69" y="79.48" width="25.27" height="3.04" fill="#3080fb"/>
<rect x="447.69" y="82.22" width="25.27" height="3.04" fill="#327cfc"/>
<rect x="447.69" y="84.95" width="25.27" height="3.04" fill="#3678fe"/>
<rect x="447.69" y="87.69" width="25.27" height="3.04" fill="#3a74fe"/>
<rect x="447.69" y="90.43" width="25.27" height="3.04" fill="#3e70ff"/>
<rect x="447.69" y="93.16" width="25.27" height="3.04" fill="#406cfe"/>
<rect x="447.69" y="95.90" width="25.27" height="3.04" fill="#4269fe"/>
<rect x="447.69" y="98.64" width="25.27" height="3.04" fill="#4466fd"/>
<rect x="447.69" y="101.37" width="25.27" height="3.04" fill="#4563fc"/>
<rect x="447.69" y="104.11" width="25.27" height="3.04" fill="#4660fc"/>
<rect x="447.69" y="106.85" width="25.27" height="3.04" fill="#465efb"/>
<rect x="447.69" y="109.58" width="25.27" height="3.04" fill="#475cfa"/>
<rect x="447.69" y="112.32" width="25.27" height="3.04" fill="#4759f9"/>
<rect x="447.69" y="115.06" width="25.27" height="3.04" fill="#4758f8"/>
<rect x="447.69" y="117.79" width="25.27" height="3.04" fill="#4756f7"/>
<rect x="447.69" y="120.53" width="25.27" height="3.04" fill="#4855f6"/>
<rect x="447.69" y="123.27" width="25.27" height="3.04" fill="#4853f5"/>
<rect x="447.69" y="126.00" width="25.27" height="3.04" fill="#4852f4"/>
<rect x="447.69" y="128.74" width="25.27" height="3.04" fill="#4851f4"/>
<rect x="447.69" y="131.48" width="25.27" height="3.04" fill="#4851f3"/>
<rect x="447.69" y="134.21" width="25.27" height="3.04" fill="#4850f3"/>
<rect x="447.69" y="136.95" width="25.27" height="3.04" fill="#4850f2"/>
<rect x="447.69" y="139.69" width="25.27" height="3.04" fill="#4850f2"/>
<rect x="447.69" y="142.42" width="25.27" height="3.04" fill="#4850f3"/>
<rect x="447.69" y="145.16" width="25.27" height="3.04" fill="#4850f3"/>
<rect x="447.69" y="147.90" width="25.27" height="3.04" fill="#4851f3"/>
<rect x="447.69" y="150.63" width="25.27" height="3.04" fill="#4852f4"/>
<rect x="447.69" y="153.37" width="25.27" height="3.04" fill="#4853f4"/>
<rect x="447.69" y="156.11" width="25.27" height="3.04" fill="#4854f5"/>
<rect x="447.69" y="158.84" width="25.27" height="3.04" fill="#4755f6"/>
<rect x="447.69" y="161.58" width="25.27" height="3.04" fill="#4757f7"/>
<rect x="447.69" y="164.32" width="25.27" height="3.04" fill="#4758f8"/>
<rect x="447.69" y="167.05" width="25.27" height="3.04" fill="#475af9"/>
<rect x="447.69" y="169.79" width="25.27" height="3.04" fill="#475cfa"/>
<rect x="447.69" y="172.53" width="25.27" height="3.04" fill="#465ffb"/>
<rect x="447.69" y="175.26" width="25.27" height="2.74" fill="#4561fc"/>
<rect x="472.66" y="13.80" width="25.27" height="3.04" fill="#85cb55"/>
<rect x="472.66" y="16.54" width="25.27" height="3.04" fill="#75cc62"/>
<rect x="472.66" y="19.27" width="25.27" height="3.04" fill="#65cd6e"/>
<rect x="472.66" y="22.01" width="25.27" height="3.04" fill="#56cc7b"/>
<rect x="472.66" y="24.75" width="25.27" height="3.04" fill="#48cb86"/>
<rect x="472.66" y="27.48" width="25.27" height="3.04" fill="#3dc990"/>
<rect x="472.66" y="30.22" width="25.27" height="3.04" fill="#35c79a"/>
<rect x="472.66" y="32.96" width="25.27" height="3.04" fill="#2fc5a3"/>
<rect x="472.66" y="35.69" width="25.27" height="3.04" fill="#28c2ab"/>
<rect x="472.66" y="38.43" width="25.27" height="3.04" fill="#1dc0b3"/>
<rect x="472.66" y="41.17" width="25.27" height="3.04" fill="#10beba"/>
<rect x="472.66" y="43.90" width="25.27" height="3.04" fill="#05bbc1"/>
<rect x="472.66" y="46.64" width="25.27" height="3.04" fill="#01b9c8"/>
<rect x="472.66" y="49.38" width="25.27" height="3.04" fill="#06b6ce"/>
<rect x="472.66" y="52.11" width="25.27" height="3.04" fill="#0eb2d4"/>
<rect x="472.66" y="54.85" width="25.27" height="3.04" fill="#16afd9"/>
<rect x="472.66" y="57.59" width="25.27" height="3.04" fill="#1babde"/>
<rect x="472.66" y="60.32" width="25.27" height="3.04" fill="#1ea7e1"/>
<rect x="472.66" y="63.06" width="25.27" height="3.04" fill="#21a3e4"/>
<rect x="472.66" y="65.80" width="25.27" height="3.04" fill="#249ee6"/>
<rect x="472.66" y="68.53" width="25.27" height="3.04" fill="#269ae8"/>
<rect x="472.66" y="71.27" width="25.27" height="3.04" fill="#2896eb"/>
<rect x="472.66" y="74.01" width="25.27" height="3.04" fill="#2b92ee"/>
<rect x="472.66" y="76.74" width="25.27" height="3.04" fill="#2c8ef2"/>
<rect x="472.66" y="79.48" width="25.27" height="3.04" fill="#2d89f5"/>
<rect x="472.66" y="82.22" width="25.27" height="3.04" fill="#2e85f8"/>
<rect x="472.66" y="84.95" width="25.27" height="3.04" fill="#2f81fa"/>
<rect x="472.66" y="87.69" width="25.27" height="3.04" fill="#317dfc"/>
<rect x="472.66" y="90.43" width="25.27" height="3.04" fill="#3579fd"/>
<rect x="472.66" y="93.16" width="25.27" height="3.04" fill="#3975fe"/>
<rect x="472.66" y="95.90" width="25.27" height="3.04" fill="#3c71ff"/>
<rect x="472.66" y="98.64" width="25.27" height="3.04" fill="#3f6dfe"/>
<rect x="472.66" y="101.37" width="25.27" height="3.04" fill="#426afe"/>
<rect x="472.66" y="104.11" width="25.27" height="3.04" fill="#4367fd"/>
<rect x="472.66" y="106.85" width="25.27" height="3.04" fill="#4564fd"/>
<rect x="472.66" y="109.58" width="25.27" height="3.04" fill="#4561fc"/>
<rect x="472.66" y="112.32" width="25.27" height="3.04" fill="#465ffb"/>
<rect x="472.66" y="115.06" width="25.27" height="3.04" fill="#475dfa"/>
<rect x="472.66" y="117.79" width="25.27" height="3.04" fill="#475bf9"/>
<rect x="472.66" y="120.53" width="25.27" height="3.04" fill="#4759f8"/>
<rect x="472.66" y="123.27" width="25.27" height="3.04" fill="#4757f7"/>
<rect x="472.66" y="126.00" width="25.27" height="3.04" fill="#4756f6"/>
<rect x="472.66" y="128.74" width="25.27" height="3.04" fill="#4755f6"/>
<rect x="472.66" y="131.48" width="25.27" height="3.04" fill="#4854f5"/>
<rect x="472.66" y="134.21" width="25.27" height="3.04" fill="#4853f5"/>
<rect x="472.66" y="136.95" width="25.27" height="3.04" fill="#4852f4"/>
<rect x="472.66" y="139.69" width="25.27" height="3.04" fill="#4852f4"/>
<rect x="472.66" y="142.42" width="25.27" height="3.04" fill="#4852f4"/>
<rect x="472.66" y="145.16" width="25.27" height="3.04" fill="#4852f4"/>
<rect x="472.66" y="147.90" width="25.27" height="3.04" fill="#4852f4"/>
<rect x="472.66" y="150.63" width="25.27" height="3.04" fill="#4853f5"/>
<rect x="472.66" y="153.37" width="25.27" height="3.04" fill="#4854f5"/>
<rect x="472.66" y="156.11" width="25.27" height="3.04" fill="#4854f6"/>
<rect x="472.66" y="158.84" width="25.27" height="3.04" fill="#4756f6"/>
<rect x="472.66" y="161.58" width="25.27" height="3.04" fill="#4757f7"/>
<rect x="472.66" y="164.32" width="25.27" height="3.04" fill="#4759f8"/>
<rect x="472.66" y="167.05" width="25.27" height="3.04" fill="#475af9"/>
<rect x="472.66" y="169.79" width="25.27" height="3.04" fill="#475cfa"/>
<rect x="472.66" y="172.53" width="25.27" height="3.04" fill="#465ffb"/>
<rect x="472.66" y="175.26" width="25.27" height="2.74" fill="#4561fc"/>
<rect x="497.62" y="13.80" width="25.27" height="3.04" fill="#aec637"/>
<rect x="497.62" y="16.54" width="25.27" height="3.04" fill="#9ec942"/>
<rect x="497.62" y="19.27" width="25.27" height="3.04" fill="#8ecb4f"/>
<rect x="497.62" y="22.01" width="25.27" height="3.04" fill="#7dcc5c"/>
<rect x="497.62" y="24.75" width="25.27" height="3.04" fill="#6ccd68"/>
<rect x="497.62" y="27.48" width="25.27" height="3.04" fill="#5dcc75"/>
<rect x="497.62" y="30.22" width="25.27" height="3.04" fill="#4ecc81"/>
<rect x="497.62" y="32.96" width="25.27" height="3.04" fill="#41ca8c"/>
<rect x="497.62" y="35.69" width="25.27" height="3.04" fill="#38c896"/>
<rect x="497.62" y="38.43" width="25.27" height="3.04" fill="#31c6a0"/>
<rect x="497.62" y="41.17" width="25.27" height="3.04" fill="#2bc3a8"/>
<rect x="497.62" y="43.90" width="25.27" height="3.04" fill="#22c1b0"/>
<rect x="497.62" y="46.64" width="25.27" height="3.04" fill="#15bfb7"/>
<rect x="497.62" y="49.38" width="25.27" height="3.04" fill="#08bcbf"/>
<rect x="497.62" y="52.11" width="25.27" height="3.04" fill="#01b9c6"/>
<rect x="497.62" y="54.85" width="25.27" height="3.04" fill="#04b6cc"/>
<rect x="497.62" y="57.59" width="25.27" height="3.04" fill="#0cb3d3"/>
<rect x="497.62" y="60.32" width="25.27" height="3.04" fill="#14b0d8"/>
<rect x="497.62" y="63.06" width="25.27" height="3.04" fill="#1aacdd"/>
<rect x="497.62" y="65.80" width="25.27" height="3.04" fill="#1ea8e0"/>
<rect x="497.62" y="68.53" width="25.27" height="3.04" fill="#21a3e3"/>
<rect x="497.62" y="71.27" width="25.27" height="3.04" fill="#249fe5"/>
<rect x="497.62" y="74.01" width="25.27" height="3.04" fill="#259be8"/>
<rect x="497.62" y="76.74" width="25.27" height="3.04" fill="#2797eb"/>
<rect x="497.62" y="79.48" width="25.27" height="3.04" fill="#2a92ee"/>
<rect x="497.62" y="82.22" width="25.27" height="3.04" fill="#2c8ef1"/>
<rect x="497.62" y="84.95" width="25.27" height="3.04" fill="#2d8af4"/>
<rect x="497.62" y="87.69" width="25.27" height="3.04" fill="#2e86f7"/>
<rect x="497.62" y="90.43" width="25.27" height="3.04" fill="#2f82fa"/>
<rect x="497.62" y="93.16" width="25.27" height="3.04" fill="#317efb"/>
<rect x="497.62" y="95.90" width="25.27" height="3.04" fill="#347afd"/>
<rect x="497.62" y="98.64" width="25.27" height="3.04" fill="#3875fe"/>
<rect x="497.62" y="101.37" width="25.27" height="3.04" fill="#3c72ff"/>
<rect x="497.62" y="104.11" width="25.27" height="3.04" fill="#3f6eff"/>
<rect x="497.62" y="106.85" width="25.27" height="3.04" fill="#416bfe"/>
<rect x="497.62" y="109.58" width="25.27" height="3.04" fill="#4367fd"/>
<rect x="497.62" y="112.32" width="25.27" height="3.04" fill="#4465fd"/>
<rect x="497.62" y="115.06" width="25.27" height="3.04" fill="#4562fc"/>
<rect x="497.62" y="117.79" width="25.27" height="3.04" fill="#465ffb"/>
<rect x="497.62" y="120.53" width="25.27" height="3.04" fill="#465dfb"/>
<rect x="497.62" y="123.27" width="25.27" height="3.04" fill="#475bfa"/>
<rect x="497.62" y="126.00" width="25.27" height="3.04" fill="#475af9"/>
<rect x="497.62" y="128.74" width="25.27" height="3.04" fill="#4758f8"/>
<rect x="497.62" y="131.48" width="25.27" height="3.04" fill="#4757f7"/>
<rect x="497.62" y="134.21" width="25.27" height="3.04" fill="#4756f6"/>
<rect x="497.62" y="136.95" width="25.27" height="3.04" fill="#4755f6"/>
<rect x="497.62" y="139.69" width="25.27" height="3.04" fill="#4854f5"/>
<rect x="497.62" y="142.42" width="25.27" height="3.04" fill="#4854f5"/>
<rect x="497.62" y="145.16" width="25.27" height="3.04" fill="#4854f5"/>
<rect x="497.62" y="147.90" width="25.27" height="3.04" fill="#4854f5"/>
<rect x="497.62" y="150.63" width="25.27" height="3.04" fill="#4854f5"/>
<rect x="497.62" y="153.37" width="25.27" height="3.04" fill="#4755f6"/>
<rect x="497.62" y="156.11" width="25.27" height="3.04" fill="#4755f6"/>
<rect x="497.62" y="158.84" width="25.27" height="3.04" fill="#4756f7"/>
<rect x="497.62" y="161.58" width="25.27" height="3.04" fill="#4758f8"/>
<rect x="497.62" y="164.32" width="25.27" height="3.04" fill="#4759f8"/>
<rect x="497.62" y="167.05" width="25.27" height="3.04" fill="#475bf9"/>
<rect x="497.62" y="169.79" width="25.27" height="3.04" fill="#475dfa"/>
<rect x="497.62" y="172.53" width="25.27" height="3.04" fill="#465ffb"/>
<rect x="497.62" y="175.26" width="25.27" height="2.74" fill="#4561fc"/>
<rect x="522.59" y="13.80" width="25.27" height="3.04" fill="#d0c028"/>
<rect x="522.59" y="16.54" width="25.27" height="3.04" fill="#c1c32c"/>
<rect x="522.59" y="19.27" width="25.27" height="3.04" fill="#b2c635"/>
<rect x="522.59" y="22.01" width="25.27" height="3.04" fill="#a2c840"/>
<rect x="522.59" y="24.75" width="25.27" height="3.04" fill="#91ca4c"/>
<rect x="522.59" y="27.48" width="25.27" height="3.04" fill="#80cc59"/>
<rect x="522.59" y="30.22" width="25.27" height="3.04" fill="#6fcd66"/>
<rect x="522.59" y="32.96" width="25.27" height="3.04" fill="#5fcd73"/>
<rect x="522.59" y="35.69" width="25.27" height="3.04" fill="#50cc7f"/>
<rect x="522.59" y="38.43" width="25.27" height="3.04" fill="#43ca8b"/>
<rect x="522.59" y="41.17" width="25.27" height="3.04" fill="#39c895"/>
<rect x="522.59" y="43.90" width="25.27" height="3.04" fill="#32c69f"/>
<rect x="522.59" y="46.64" width="25.27" height="3.04" fill="#2cc4a7"/>
<rect x="522.59" y="49.38" width="25.27" height="3.04" fill="#23c1af"/>
<rect x="522.59" y="52.11" width="25.27" height="3.04" fill="#16bfb7"/>
<rect x="522.59" y="54.85" width="25.27" height="3.04" fill="#09bcbe"/>
<rect x="522.59" y="57.59" width="25.27" height="3.04" fill="#01bac5"/>
<rect x="522.59" y="60.32" width="25.27" height="3.04" fill="#03b7cc"/>
<rect x="522.59" y="63.06" width="25.27" height="3.04" fill="#0bb3d2"/>
<rect x="522.59" y="65.80" width="25.27" height="3.04" fill="#14b0d8"/>
<rect x="522.59" y="68.53" width="25.27" height="3.04" fill="#1aacdd"/>
<rect x="522.59" y="71.27" width="25.27" height="3.04" fill="#1ea8e1"/>
<rect x="522.59" y="74.01" width="25.27" height="3.04" fill="#21a3e3"/>
<rect x="522.59" y="76.74" width="25.27" height="3.04" fill="#249fe5"/>
<rect x="522.59" y="79.48" width="25.27" height="3.04" fill="#259be8"/>
<rect x="522.59" y="82.22" width="25.27" height="3.04" fill="#2797eb"/>
<rect x="522.59" y="84.95" width="25.27" height="3.04" fill="#2a92ee"/>
<rect x="522.59" y="87.69" width="25.27" height="3.04" fill="#2c8ef1"/>
<rect x="522.59" y="90.43" width="25.27" height="3.04" fill="#2d8af5"/>
<rect x="522.59" y="93.16" width="25.27" height="3.04" fill="#2e85f8"/>
<rect x="522.59" y="95.90" width="25.27" height="3.04" fill="#2f81fa"/>
<rect x="522.59" y="98.64" width="25.27" height="3.04" fill="#317dfc"/>
<rect x="522.59" y="101.37" width="25.27" height="3.04" fill="#3579fd"/>
<rect x="522.59" y="104.11" width="25.27" height="3.04" fill="#3975fe"/>
<rect x="522.59" y="106.85" width="25.27" height="3.04" fill="#3c71ff"/>
<rect x="522.59" y="109.58" width="25.27" height="3.04" fill="#3f6efe"/>
<rect x="522.59" y="112.32" width="25.27" height="3.04" fill="#426afe"/>
<rect x="522.59" y="115.06" width="25.27" height="3.04" fill="#4367fd"/>
<rect x="522.59" y="117.79" width="25.27" height="3.04" fill="#4464fd"/>
<rect x="522.59" y="120.53" width="25.27" height="3.04" fill="#4562fc"/>
<rect x="522.59" y="123.27" width="25.27" height="3.04" fill="#465ffb"/>
<rect x="522.59" y="126.00" width="25.27" height="3.04" fill="#465dfb"/>
<rect x="522.59" y="128.74" width="25.27" height="3.04" fill="#475cfa"/>
<rect x="522.59" y="131.48" width="25.27" height="3.04" fill="#475af9"/>
<rect x="522.59" y="134.21" width="25.27" height="3.04" fill="#4759f8"/>
<rect x="522.59" y="136.95" width="25.27" height="3.04" fill="#4757f8"/>
<rect x="522.59" y="139.69" width="25.27" height="3.04" fill="#4757f7"/>
<rect x="522.59" y="142.42" width="25.27" height="3.04" fill="#4756f7"/>
<rect x="522.59" y="145.16" width="25.27" height="3.04" fill="#4755f6"/>
<rect x="522.59" y="147.90" width="25.27" height="3.04" fill="#4755f6"/>
<rect x="522.59" y="150.63" width="25.27" height="3.04" fill="#4755f6"/>
<rect x="522.59" y="153.37" width="25.27" height="3.04" fill="#4756f6"/>
<rect x="522.59" y="156.11" width="25.27" height="3.04" fill="#4756f7"/>
<rect x="522.59" y="158.84" width="25.27" height="3.04" fill="#4757f7"/>
<rect x="522.59" y="161.58" width="25.27" height="3.04" fill="#4758f8"/>
<rect x="522.59" y="164.32" width="25.27" height="3.04" fill="#4759f9"/>
<rect x="522.59" y="167.05" width="25.27" height="3.04" fill="#475bf9"/>
<rect x="522.59" y="169.79" width="25.27" height="3.04" fill="#465dfa"/>
<rect x="522.59" y="172.53" width="25.27" height="3.04" fill="#465ffb"/>
<rect x="522.59" y="175.26" width="25.27" height="2.74" fill="#4561fc"/>
<rect x="547.56" y="13.80" width="25.27" height="3.04" fill="#eaba31"/>
<rect x="547.56" y="16.54" width="25.27" height="3.04" fill="#debc2a"/>
<rect x="547.56" y="19.27" width="25.27" height="3.04" fill="#d1bf27"/>
<rect x="547.56" y="22.01" width="25.27" height="3.04" fill="#c3c22b"/>
<rect x="547.56" y="24.75" width="25.27" height="3.04" fill="#b3c534"/>
<rect x="547.56" y="27.48" width="25.27" height="3.04" fill="#a3c83f"/>
<rect x="547.56" y="30.22" width="25.27" height="3.04" fill="#92ca4c"/>
<rect x="547.56" y="32.96" width="25.27" height="3.04" fill="#81cc59"/>
<rect x="547.56" y="35.69" width="25.27" height="3.04" fill="#6fcd66"/>
<rect x="547.56" y="38.43" width="25.27" height="3.04" fill="#5fcd73"/>
<rect x="547.56" y="41.17" width="25.27" height="3.04" fill="#50cc7f"/>
<rect x="547.56" y="43.90" width="25.27" height="3.04" fill="#43ca8b"/>
<rect x="547.56" y="46.64" width="25.27" height="3.04" fill="#39c895"/>
<rect x="547.56" y="49.38" width="25.27" height="3.04" fill="#32c69f"/>
<rect x="547.56" y="52.11" width="25.27" height="3.04" fill="#2bc3a8"/>
<rect x="547.56" y="54.85" width="25.27" height="3.04" fill="#22c1b0"/>
<rect x="547.56" y="57.59" width="25.27" height="3.04" fill="#15bfb7"/>
<rect x="547.56" y="60.32" width="25.27" height="3.04" fill="#08bcbf"/>
<rect x="547.56" y="63.06" width="25.27" height="3.04" fill="#01b9c6"/>
<rect x="547.56" y="65.80" width="25.27" height="3.04" fill="#04b6cd"/>
<rect x="547.56" y="68.53" width="25.27" height="3.04" fill="#0db3d3"/>
<rect x="547.56" y="71.27" width="25.27" height="3.04" fill="#15afd9"/>
<rect x="547.56" y="74.01" width="25.27" height="3.04" fill="#1aabdd"/>
<rect x="547.56" y="76.74" width="25.27" height="3.04" fill="#1ea7e1"/>
<rect x="547.56" y="79.48" width="25.27" height="3.04" fill="#21a3e4"/>
<rect x="547.56" y="82.22" width="25.27" height="3.04" fill="#249ee6"/>
<rect x="547.56" y="84.95" width="25.27" height="3.04" fill="#269ae9"/>
<rect x="547.56" y="87.69" width="25.27" height="3.04" fill="#2896ec"/>
<rect x="547.56" y="90.43" width="25.27" height="3.04" fill="#2b91ef"/>
<rect x="547.56" y="93.16" width="25.27" height="3.04" fill="#2d8df2"/>
<rect x="547.56" y="95.90" width="25.27" height="3.04" fill="#2d89f5"/>
<rect x="547.56" y="98.64" width="25.27" height="3.04" fill="#2e85f8"/>
<rect x="547.56" y="101.37" width="25.27" height="3.04" fill="#2f80fa"/>
<rect x="547.56" y="104.11" width="25.27" height="3.04" fill="#327cfc"/>
<rect x="547.56" y="106.85" width="25.27" height="3.04" fill="#3678fd"/>
<rect x="547.56" y="109.58" width="25.27" height="3.04" fill="#3974fe"/>
<rect x="547.56" y="112.32" width="25.27" height="3.04" fill="#3d70ff"/>
<rect x="547.56" y="115.06" width="25.27" height="3.04" fill="#406dfe"/>
<rect x="547.56" y="117.79" width="25.27" height="3.04" fill="#426afe"/>
<rect x="547.56" y="120.53" width="25.27" height="3.04" fill="#4367fd"/>
<rect x="547.56" y="123.27" width="25.27" height="3.04" fill="#4564fd"/>
<rect x="547.56" y="126.00" width="25.27" height="3.04" fill="#4561fc"/>
<rect x="547.56" y="128.74" width="25.27" height="3.04" fill="#465ffb"/>
<rect x="547.56" y="131.48" width="25.27" height="3.04" fill="#465dfb"/>
<rect x="547.56" y="134.21" width="25.27" height="3.04" fill="#475cfa"/>
<rect x="547.56" y="136.95" width="25.27" height="3.04" fill="#475af9"/>
<rect x="547.56" y="139.69" width="25.27" height="3.04" fill="#4759f8"/>
<rect x="547.56" y="142.42" width="25.27" height="3.04" fill="#4758f8"/>
<rect x="547.56" y="145.16" width="25.27" height="3.04" fill="#4757f7"/>
<rect x="547.56" y="147.90" width="25.27" height="3.04" fill="#4757f7"/>
<rect x="547.56" y="150.63" width="25.27" height="3.04" fill="#4757f7"/>
<rect x="547.56" y="153.37" width="25.27" height="3.04" fill="#4757f7"/>
<rect x="547.56" y="156.11" width="25.27" height="3.04" fill="#4757f7"/>
<rect x="547.56" y="158.84" width="25.27" height="3.04" fill="#4758f8"/>
<rect x="547.56" y="161.58" width="25.27" height="3.04" fill="#4759f8"/>
<rect x="547.56" y="164.32" width="25.27" height="3.04" fill="#475af9"/>
<rect x="547.56" y="167.05" width="25.27" height="3.04" fill="#475bf9"/>
<rect x="547.56" y="169.79" width="25.27" height="3.04" fill="#465dfa"/>
<rect x="547.56" y="172.53" width="25.27" height="3.04" fill="#465ffb"/>
<rect x="547.56" y="175.26" width="25.27" height="2.74" fill="#4561fc"/>
<rect x="572.53" y="13.80" width="25.27" height="3.04" fill="#fec13a"/>
<rect x="572.53" y="16.54" width="25.27" height="3.04" fill="#fbbc3d"/>
<rect x="572.53" y="19.27" width="25.27" height="3.04" fill="#f1ba37"/>
<rect x="572.53" y="22.01" width="25.27" height="3.04" fill="#e6bb2d"/>
<rect x="572.53" y="24.75" width="25.27" height="3.04" fill="#d9be28"/>
<rect x="572.53" y="27.48" width="25.27" height="3.04" fill="#cbc129"/>
<rect x="572.53" y="30.22" width="25.27" height="3.04" fill="#bcc42f"/>
<rect x="572.53" y="32.96" width="25.27" height="3.04" fill="#abc739"/>
<rect x="572.53" y="35.69" width="25.27" height="3.04" fill="#9ac945"/>
<rect x="572.53" y="38.43" width="25.27" height="3.04" fill="#89cb52"/>
<rect x="572.53" y="41.17" width="25.27" height="3.04" fill="#77cc60"/>
<rect x="572.53" y="43.90" width="25.27" height="3.04" fill="#66cd6d"/>
<rect x="572.53" y="46.64" width="25.27" height="3.04" fill="#56cc7a"/>
<rect x="572.53" y="49.38" width="25.27" height="3.04" fill="#48cb86"/>
<rect x="572.53" y="52.11" width="25.27" height="3.04" fill="#3cc991"/>
<rect x="572.53" y="54.85" width="25.27" height="3.04" fill="#34c79c"/>
<rect x="572.53" y="57.59" width="25.27" height="3.04" fill="#2dc4a5"/>
<rect x="572.53" y="60.32" width="25.27" height="3.04" fill="#25c2ad"/>
<rect x="572.53" y="63.06" width="25.27" height="3.04" fill="#19bfb5"/>
<rect x="572.53" y="65.80" width="25.27" height="3.04" fill="#0abdbd"/>
<rect x="572.53" y="68.53" width="25.27" height="3.04" fill="#02bac4"/>
<rect x="572.53" y="71.27" width="25.27" height="3.04" fill="#02b7cb"/>
<rect x="572.53" y="74.01" width="25.27" height="3.04" fill="#0ab4d2"/>
<rect x="572.53" y="76.74" width="25.27" height="3.04" fill="#14b0d8"/>
<rect x="572.53" y="79.48" width="25.27" height="3.04" fill="#1aacdd"/>
<rect x="572.53" y="82.22" width="25.27" height="3.04" fill="#1ea8e0"/>
<rect x="572.53" y="84.95" width="25.27" height="3.04" fill="#21a3e3"/>
<rect x="572.53" y="87.69" width="25.27" height="3.04" fill="#249fe6"/>
<rect x="572.53" y="90.43" width="25.27" height="3.04" fill="#269ae8"/>
<rect x="572.53" y="93.16" width="25.27" height="3.04" fill="#2896eb"/>
<rect x="572.53" y="95.90" width="25.27" height="3.04" fill="#2b92ef"/>
<rect x="572.53" y="98.64" width="25.27" height="3.04" fill="#2d8df2"/>
<rect x="572.53" y="101.37" width="25.27" height="3.04" fill="#2d89f5"/>
<rect x="572.53" y="104.11" width="25.27" height="3.04" fill="#2e85f8"/>
<rect x="572.53" y="106.85" width="25.27" height="3.04" fill="#2f80fa"/>
<rect x="572.53" y="109.58" width="25.27" height="3.04" fill="#327cfc"/>
<rect x="572.53" y="112.32" width="25.27" height="3.04" fill="#3678fd"/>
<rect x="572.53" y="115.06" width="25.27" height="3.04" fill="#3a74fe"/>
<rect x="572.53" y="117.79" width="25.27" height="3.04" fill="#3d70ff"/>
<rect x="572.53" y="120.53" width="25.27" height="3.04" fill="#406dfe"/>
<rect x="572.53" y="123.27" width="25.27" height="3.04" fill="#426afe"/>
<rect x="572.53" y="126.00" width="25.27" height="3.04" fill="#4367fd"/>
<rect x="572.53" y="128.74" width="25.27" height="3.04" fill="#4564fd"/>
<rect x="572.53" y="131.48" width="25.27" height="3.04" fill="#4562fc"/>
<rect x="572.53" y="134.21" width="25.27" height="3.04" fill="#465ffb"/>
<rect x="572.53" y="136.95" width="25.27" height="3.04" fill="#465efb"/>
<rect x="572.53" y="139.69" width="25.27" height="3.04" fill="#475cfa"/>
<rect x="572.53" y="142.42" width="25.27" height="3.04" fill="#475bf9"/>
<rect x="572.53" y="145.16" width="25.27" height="3.04" fill="#475af9"/>
<rect x="572.53" y="147.90" width="25.27" height="3.04" fill="#4759f8"/>
<rect x="572.53" y="150.63" width="25.27" height="3.04" fill="#4759f8"/>
<rect x="572.53" y="153.37" width="25.27" height="3.04" fill="#4758f8"/>
<rect x="572.53" y="156.11" width="25.27" height="3.04" fill="#4758f8"/>
<rect x="572.53" y="158.84" width="25.27" height="3.04" fill="#4759f8"/>
<rect x="572.53" y="161.58" width="25.27" height="3.04" fill="#4759f9"/>
<rect x="572.53" y="164.32" width="25.27" height="3.04" fill="#475af9"/>
<rect x="572.53" y="167.05" width="25.27" height="3.04" fill="#475cfa"/>
<rect x="572.53" y="169.79" width="25.27" height="3.04" fill="#465dfa"/>
<rect x="572.53" y="172.53" width="25.27" height="3.04" fill="#465ffb"/>
<rect x="572.53" y="175.26" width="25.27" height="2.74" fill="#4561fc"/>
<rect x="597.50" y="13.80" width="25.27" height="3.04" fill="#fad42e"/>
<rect x="597.50" y="16.54" width="25.27" height="3.04" fill="#fdcc32"/>
<rect x="597.50" y="19.27" width="25.27" height="3.04" fill="#fec537"/>
<rect x="597.50" y="22.01" width="25.27" height="3.04" fill="#febd3c"/>
<rect x="597.50" y="24.75" width="25.27" height="3.04" fill="#f5ba3b"/>
<rect x="597.50" y="27.48" width="25.27" height="3.04" fill="#eaba31"/>
<rect x="597.50" y="30.22" width="25.27" height="3.04" fill="#debd29"/>
<rect x="597.50" y="32.96" width="25.27" height="3.04" fill="#d0bf27"/>
<rect x="597.50" y="35.69" width="25.27" height="3.04" fill="#c1c32c"/>
<rect x="597.50" y="38.43" width="25.27" height="3.04" fill="#b1c636"/>
<rect x="597.50" y="41.17" width="25.27" height="3.04" fill="#9fc941"/>
<rect x="597.50" y="43.90" width="25.27" height="3.04" fill="#8ecb4f"/>
<rect x="597.50" y="46.64" width="25.27" height="3.04" fill="#7ccc5c"/>
<rect x="597.50" y="49.38" width="25.27" height="3.04" fill="#6acd6a"/>
<rect x="597.50" y="52.11" width="25.27" height="3.04" fill="#5acc78"/>
<rect x="597.50" y="54.85" width="25.27" height="3.04" fill="#4acb84"/>
<rect x="597.50" y="57.59" width="25.27" height="3.04" fill="#3eca8f"/>
<rect x="597.50" y="60.32" width="25.27" height="3.04" fill="#35c79a"/>
<rect x="597.50" y="63.06" width="25.27" height="3.04" fill="#2ec5a3"/>
<rect x="597.50" y="65.80" width="25.27" height="3.04" fill="#26c2ac"/>
<rect x="597.50" y="68.53" width="25.27" height="3.04" fill="#1ac0b4"/>
<rect x="597.50" y="71.27" width="25.27" height="3.04" fill="#0cbdbc"/>
<rect x="597.50" y="74.01" width="25.27" height="3.04" fill="#02bac4"/>
<rect x="597.50" y="76.74" width="25.27" height="3.04" fill="#02b7cb"/>
<rect x="597.50" y="79.48" width="25.27" height="3.04" fill="#0ab4d2"/>
<rect x="597.50" y="82.22" width="25.27" height="3.04" fill="#14b0d8"/>
<rect x="597.50" y="84.95" width="25.27" height="3.04" fill="#1aacdd"/>
<rect x="597.50" y="87.69" width="25.27" height="3.04" fill="#1ea8e1"/>
<rect x="597.50" y="90.43" width="25.27" height="3.04" fill="#21a3e3"/>
<rect x="597.50" y="93.16" width="25.27" height="3.04" fill="#249fe6"/>
<rect x="597.50" y="95.90" width="25.27" height="3.04" fill="#269ae8"/>
<rect x="597.50" y="98.64" width="25.27" height="3.04" fill="#2896ec"/>
<rect x="597.50" y="101.37" width="25.27" height="3.04" fill="#2b91ef"/>
<rect x="597.50" y="104.11" width="25.27" height="3.04" fill="#2d8df2"/>
<rect x="597.50" y="106.85" width="25.27" height="3.04" fill="#2d88f6"/>
<rect x="597.50" y="109.58" width="25.27" height="3.04" fill="#2e84f8"/>
<rect x="597.50" y="112.32" width="25.27" height="3.04" fill="#3080fb"/>
<rect x="597.50" y="115.06" width="25.27" height="3.04" fill="#327cfc"/>
<rect x="597.50" y="117.79" width="25.27" height="3.04" fill="#3677fe"/>
<rect x="597.50" y="120.53" width="25.27" height="3.04" fill="#3a73fe"/>
<rect x="597.50" y="123.27" width="25.27" height="3.04" fill="#3e6fff"/>
<rect x="597.50" y="126.00" width="25.27" height="3.04" fill="#406cfe"/>
<rect x="597.50" y="128.74" width="25.27" height="3.04" fill="#4269fe"/>
<rect x="597.50" y="131.48" width="25.27" height="3.04" fill="#4466fd"/>
<rect x="597.50" y="134.21" width="25.27" height="3.04" fill="#4564fd"/>
<rect x="597.50" y="136.95" width="25.27" height="3.04" fill="#4561fc"/>
<rect x="597.50" y="139.69" width="25.27" height="3.04" fill="#465ffb"/>
<rect x="597.50" y="142.42" width="25.27" height="3.04" fill="#465efb"/>
<rect x="597.50" y="145.16" width="25.27" height="3.04" fill="#475cfa"/>
<rect x="597.50" y="147.90" width="25.27" height="3.04" fill="#475bf9"/>
<rect x="597.50" y="150.63" width="25.27" height="3.04" fill="#475af9"/>
<rect x="597.50" y="153.37" width="25.27" height="3.04" fill="#475af9"/>
<rect x="597.50" y="156.11" width="25.27" height="3.04" fill="#475af9"/>
<rect x="597.50" y="158.84" width="25.27" height="3.04" fill="#475af9"/>
<rect x="597.50" y="161.58" width="25.27" height="3.04" fill="#475af9"/>
<rect x="597.50" y="164.32" width="25.27" height="3.04" fill="#475bf9"/>
<rect x="597.50" y="167.05" width="25.27" height="3.04" fill="#475cfa"/>
<rect x="597.50" y="169.79" width="25.27" height="3.04" fill="#465dfb"/>
<rect x="597.50" y="172.53" width="25.27" height="3.04" fill="#465ffb"/>
<rect x="597.50" y="175.26" width="25.27" height="2.74" fill="#4561fc"/>
<rect x="622.46" y="13.80" width="25.27" height="3.04" fill="#f5e924"/>
<rect x="622.46" y="16.54" width="25.27" height="3.04" fill="#f6e128"/>
<rect x="622.46" y="19.27" width="25.27" height="3.04" fill="#f8d82c"/>
<rect x="622.46" y="22.01" width="25.27" height="3.04" fill="#fcd030"/>
<rect x="622.46" y="24.75" width="25.27" height="3.04" fill="#fec835"/>
<rect x="622.46" y="27.48" width="25.27" height="3.04" fill="#fec03a"/>
<rect x="622.46" y="30.22" width="25.27" height="3.04" fill="#f9bb3d"/>
<rect x="622.46" y="32.96" width="25.27" height="3.04" fill="#efba35"/>
<rect x="622.46" y="35.69" width="25.27" height="3.04" fill="#e3bc2c"/>
<rect x="622.46" y="38.43" width="25.27" height="3.04" fill="#d5be28"/>
<rect x="622.46" y="41.17" width="25.27" height="3.04" fill="#c6c22a"/>
<rect x="622.46" y="43.90" width="25.27" height="3.04" fill="#b6c532"/>
<rect x="622.46" y="46.64" width="25.27" height="3.04" fill="#a5c83e"/>
<rect x="622.46" y="49.38" width="25.27" height="3.04" fill="#93ca4b"/>
<rect x="622.46" y="52.11" width="25.27" height="3.04" fill="#80cc59"/>
<rect x="622.46" y="54.85" width="25.27" height="3.04" fill="#6ecd67"/>
<rect x="622.46" y="57.59" width="25.27" height="3.04" fill="#5dcc75"/>
<rect x="622.46" y="60.32" width="25.27" height="3.04" fill="#4dcc82"/>
<rect x="622.46" y="63.06" width="25.27" height="3.04" fill="#3fca8e"/>
<rect x="622.46" y="65.80" width="25.27" height="3.04" fill="#36c899"/>
<rect x="622.46" y="68.53" width="25.27" height="3.04" fill="#2fc5a2"/>
<rect x="622.46" y="71.27" width="25.27" height="3.04" fill="#27c2ab"/>
<rect x="622.46" y="74.01" width="25.27" height="3.04" fill="#1cc0b4"/>
<rect x="622.46" y="76.74" width="25.27" height="3.04" fill="#0cbdbc"/>
<rect x="622.46" y="79.48" width="25.27" height="3.04" fill="#02bac4"/>
<rect x="622.46" y="82.22" width="25.27" height="3.04" fill="#02b7cb"/>
<rect x="622.46" y="84.95" width="25.27" height="3.04" fill="#0ab4d2"/>
<rect x="622.46" y="87.69" width="25.27" height="3.04" fill="#14b0d8"/>
<rect x="622.46" y="90.43" width="25.27" height="3.04" fill="#1aacdd"/>
<rect x="622.46" y="93.16" width="25.27" height="3.04" fill="#1ea7e1"/>
<rect x="622.46" y="95.90" width="25.27" height="3.04" fill="#21a3e4"/>
<rect x="622.46" y="98.64" width="25.27" height="3.04" fill="#249ee6"/>
<rect x="622.46" y="101.37" width="25.27" height="3.04" fill="#2699e9"/>
<rect x="622.46" y="104.11" width="25.27" height="3.04" fill="#2895ec"/>
<rect x="622.46" y="106.85" width="25.27" height="3.04" fill="#2b90f0"/>
<rect x="622.46" y="109.58" width="25.27" height="3.04" fill="#2d8cf3"/>
<rect x="622.46" y="112.32" width="25.27" height="3.04" fill="#2d87f7"/>
<rect x="622.46" y="115.06" width="25.27" height="3.04" fill="#2e83f9"/>
<rect x="622.46" y="117.79" width="25.27" height="3.04" fill="#307ffb"/>
<rect x="622.46" y="120.53" width="25.27" height="3.04" fill="#337afd"/>
<rect x="622.46" y="123.27" width="25.27" height="3.04" fill="#3776fe"/>
<rect x="622.46" y="126.00" width="25.27" height="3.04" fill="#3b72ff"/>
<rect x="622.46" y="128.74" width="25.27" height="3.04" fill="#3f6eff"/>
<rect x="622.46" y="131.48" width="25.27" height="3.04" fill="#416bfe"/>
<rect x="622.46" y="134.21" width="25.27" height="3.04" fill="#4368fe"/>
<rect x="622.46" y="136.95" width="25.27" height="3.04" fill="#4465fd"/>
<rect x="622.46" y="139.69" width="25.27" height="3.04" fill="#4563fd"/>
<rect x="622.46" y="142.42" width="25.27" height="3.04" fill="#4561fc"/>
<rect x="622.46" y="145.16" width="25.27" height="3.04" fill="#465ffb"/>
<rect x="622.46" y="147.90" width="25.27" height="3.04" fill="#465efb"/>
<rect x="622.46" y="150.63" width="25.27" height="3.04" fill="#475dfa"/>
<rect x="622.46" y="153.37" width="25.27" height="3.04" fill="#475cfa"/>
<rect x="622.46" y="156.11" width="25.27" height="3.04" fill="#475bf9"/>
<rect x="622.46" y="158.84" width="25.27" height="3.04" fill="#475bf9"/>
<rect x="622.46" y="161.58" width="25.27" height="3.04" fill="#475bf9"/>
<rect x="622.46" y="164.32" width="25.27" height="3.04" fill="#475cfa"/>
<rect x="622.46" y="167.05" width="25.27" height="3.04" fill="#475dfa"/>
<rect x="622.46" y="169.79" width="25.27" height="3.04" fill="#465efb"/>
<rect x="622.46" y="172.53" width="25.27" height="3.04" fill="#465ffb"/>
<rect x="622.46" y="175.26" width="25.27" height="2.74" fill="#4561fc"/>
<rect x="647.43" y="13.80" width="24.97" height="3.04" fill="#f9fb15"/>
<rect x="647.43" y="16.54" width="24.97" height="3.04" fill="#f7f31c"/>
<rect x="647.43" y="19.27" width="24.97" height="3.04" fill="#f5ec23"/>
<rect x="647.43" y="22.01" width="24.97" height="3.04" fill="#f5e327"/>
<rect x="647.43" y="24.75" width="24.97" height="3.04" fill="#f7db2b"/>
<rect x="647.43" y="27.48" width="24.97" height="3.04" fill="#fbd22f"/>
<rect x="647.43" y="30.22" width="24.97" height="3.04" fill="#feca33"/>
<rect x="647.43" y="32.96" width="24.97" height="3.04" fill="#fec239"/>
<rect x="647.43" y="35.69" width="24.97" height="3.04" fill="#fbbc3d"/>
<rect x="647.43" y="38.43" width="24.97" height="3.04" fill="#f1ba37"/>
<rect x="647.43" y="41.17" width="24.97" height="3.04" fill="#e5bb2d"/>
<rect x="647.43" y="43.90" width="24.97" height="3.04" fill="#d7be28"/>
<rect x="647.43" y="46.64" width="24.97" height="3.04" fill="#c8c129"/>
<rect x="647.43" y="49.38" width="24.97" height="3.04" fill="#b8c431"/>
<rect x="647.43" y="52.11" width="24.97" height="3.04" fill="#a7c73c"/>
<rect x="647.43" y="54.85" width="24.97" height="3.04" fill="#95ca49"/>
<rect x="647.43" y="57.59" width="24.97" height="3.04" fill="#82cc58"/>
<rect x="647.43" y="60.32" width="24.97" height="3.04" fill="#6fcd66"/>
<rect x="647.43" y="63.06" width="24.97" height="3.04" fill="#5ecc74"/>
<rect x="647.43" y="65.80" width="24.97" height="3.04" fill="#4ecc81"/>
<rect x="647.43" y="68.53" width="24.97" height="3.04" fill="#3fca8e"/>
<rect x="647.43" y="71.27" width="24.97" height="3.04" fill="#36c899"/>
<rect x="647.43" y="74.01" width="24.97" height="3.04" fill="#2fc5a3"/>
<rect x="647.43" y="76.74" width="24.97" height="3.04" fill="#27c2ac"/>
<rect x="647.43" y="79.48" width="24.97" height="3.04" fill="#1bc0b4"/>
<rect x="647.43" y="82.22" width="24.97" height="3.04" fill="#0bbdbd"/>
<rect x="647.43" y="84.95" width="24.97" height="3.04" fill="#02bac4"/>
<rect x="647.43" y="87.69" width="24.97" height="3.04" fill="#03b7cc"/>
<rect x="647.43" y="90.43" width="24.97" height="3.04" fill="#0cb3d3"/>
<rect x="647.43" y="93.16" width="24.97" height="3.04" fill="#15afd9"/>
<rect x="647.43" y="95.90" width="24.97" height="3.04" fill="#1babde"/>
<rect x="647.43" y="98.64" width="24.97" height="3.04" fill="#1fa6e1"/>
<rect x="647.43" y="101.37" width="24.97" height="3.04" fill="#22a2e4"/>
<rect x="647.43" y="104.11" width="24.97" height="3.04" fill="#259de7"/>
<rect x="647.43" y="106.85" width="24.97" height="3.04" fill="#2798ea"/>
<rect x="647.43" y="109.58" width="24.97" height="3.04" fill="#2994ed"/>
<rect x="647.43" y="112.32" width="24.97" height="3.04" fill="#2c8ff1"/>
<rect x="647.43" y="115.06" width="24.97" height="3.04" fill="#2d8af4"/>
<rect x="647.43" y="117.79" width="24.97" height="3.04" fill="#2e86f7"/>
<rect x="647.43" y="120.53" width="24.97" height="3.04" fill="#2f81fa"/>
<rect x="647.43" y="123.27" width="24.97" height="3.04" fill="#317dfc"/>
<rect x="647.43" y="126.00" width="24.97" height="3.04" fill="#3579fd"/>
<rect x="647.43" y="128.74" width="24.97" height="3.04" fill="#3974fe"/>
<rect x="647.43" y="131.48" width="24.97" height="3.04" fill="#3d71ff"/>
<rect x="647.43" y="134.21" width="24.97" height="3.04" fill="#406dfe"/>
<rect x="647.43" y="136.95" width="24.97" height="3.04" fill="#426afe"/>
<rect x="647.43" y="139.69" width="24.97" height="3.04" fill="#4367fd"/>
<rect x="647.43" y="142.42" width="24.97" height="3.04" fill="#4464fd"/>
<rect x="647.43" y="145.16" width="24.97" height="3.04" fill="#4562fc"/>
<rect x="647.43" y="147.90" width="24.97" height="3.04" fill="#4660fc"/>
<rect x="647.43" y="150.63" width="24.97" height="3.04" fill="#465ffb"/>
<rect x="647.43" y="153.37" width="24.97" height="3.04" fill="#465efb"/>
<rect x="647.43" y="156.11" width="24.97" height="3.04" fill="#465dfa"/>
<rect x="647.43" y="158.84" width="24.97" height="3.04" fill="#475cfa"/>
<rect x="647.43" y="161.58" width="24.97" height="3.04" fill="#475cfa"/>
<rect x="647.43" y="164.32" width="24.97" height="3.04" fill="#475cfa"/>
<rect x="647.43" y="167.05" width="24.97" height="3.04" fill="#465dfa"/>
<rect x="647.43" y="169.79" width="24.97" height="3.04" fill="#465efb"/>
<rect x="647.43" y="172.53" width="24.97" height="3.04" fill="#4660fb"/>
<rect x="647.43" y="175.26" width="24.97" height="2.74" fill="#4561fc"/>
</g>
<line x1="60.68" y1="138.50" x2="659.92" y2="138.50" stroke="#fff" stroke-width="1" stroke-dasharray="9,4.84"/>
<line x1="460.45" y1="176.63" x2="460.45" y2="15.17" stroke="#fff" stroke-width="0.9" stroke-dasharray="9,4.84"/>
<circle cx="60.68" cy="56.22" r="3.05" fill="#ffff00"/>
<circle cx="85.65" cy="67.17" r="3.05" fill="#ffff00"/>
<circle cx="110.62" cy="72.64" r="3.05" fill="#ffff00"/>
<circle cx="135.59" cy="78.11" r="3.05" fill="#ffff00"/>
<circle cx="160.56" cy="91.80" r="3.05" fill="#ffff00"/>
<circle cx="185.52" cy="86.32" r="3.05" fill="#ffff00"/>
<circle cx="210.49" cy="94.53" r="3.05" fill="#ffff00"/>
<circle cx="235.46" cy="102.74" r="3.05" fill="#ffff00"/>
<circle cx="260.43" cy="100.01" r="3.05" fill="#ffff00"/>
<circle cx="285.40" cy="108.22" r="3.05" fill="#ffff00"/>
<circle cx="310.36" cy="121.90" r="3.05" fill="#ffff00"/>
<circle cx="335.33" cy="119.16" r="3.05" fill="#ffff00"/>
<circle cx="360.30" cy="127.37" r="3.05" fill="#ffff00"/>
<circle cx="385.27" cy="127.37" r="3.05" fill="#ffff00"/>
<circle cx="410.24" cy="124.64" r="3.05" fill="#ffff00"/>
<circle cx="435.20" cy="132.84" r="3.05" fill="#ffff00"/>
<circle cx="460.17" cy="138.32" r="3.05" fill="#ffff00"/>
<circle cx="485.14" cy="143.79" r="3.05" fill="#ffff00"/>
<circle cx="510.11" cy="141.06" r="3.05" fill="#ffff00"/>
<circle cx="535.08" cy="146.53" r="3.05" fill="#ffff00"/>
<circle cx="560.04" cy="146.53" r="3.05" fill="#ffff00"/>
<circle cx="585.01" cy="149.27" r="3.05" fill="#ffff00"/>
<circle cx="609.98" cy="152.00" r="3.05" fill="#ffff00"/>
<circle cx="634.95" cy="154.74" r="3.05" fill="#ffff00"/>
<circle cx="659.92" cy="152.00" r="3.05" fill="#ffff00"/>
<rect x="48.20" y="13.80" width="624.20" height="164.20" fill="none" stroke="#262626" stroke-width="0.6" stroke-opacity="0.42"/>
<path d="M60.68 178.00v-6.20M60.68 13.80v6.20" stroke="#262626" stroke-width="0.6" stroke-opacity="0.42"/>
<text x="60.68" y="192.50" text-anchor="middle" class="t">1.8</text>
<path d="M160.56 178.00v-6.20M160.56 13.80v6.20" stroke="#262626" stroke-width="0.6" stroke-opacity="0.42"/>
<text x="160.56" y="192.50" text-anchor="middle" class="t">2</text>
<path d="M260.43 178.00v-6.20M260.43 13.80v6.20" stroke="#262626" stroke-width="0.6" stroke-opacity="0.42"/>
<text x="260.43" y="192.50" text-anchor="middle" class="t">2.2</text>
<path d="M360.30 178.00v-6.20M360.30 13.80v6.20" stroke="#262626" stroke-width="0.6" stroke-opacity="0.42"/>
<text x="360.30" y="192.50" text-anchor="middle" class="t">2.4</text>
<path d="M460.17 178.00v-6.20M460.17 13.80v6.20" stroke="#262626" stroke-width="0.6" stroke-opacity="0.42"/>
<text x="460.17" y="192.50" text-anchor="middle" class="t">2.6</text>
<path d="M560.04 178.00v-6.20M560.04 13.80v6.20" stroke="#262626" stroke-width="0.6" stroke-opacity="0.42"/>
<text x="560.04" y="192.50" text-anchor="middle" class="t">2.8</text>
<path d="M659.92 178.00v-6.20M659.92 13.80v6.20" stroke="#262626" stroke-width="0.6" stroke-opacity="0.42"/>
<text x="659.92" y="192.50" text-anchor="middle" class="t">3</text>
<path d="M48.20 152.00h6.20M672.40 152.00h-6.20" stroke="#262626" stroke-width="0.6" stroke-opacity="0.42"/>
<text x="43.70" y="156.50" text-anchor="end" class="t">0.05</text>
<path d="M48.20 124.64h6.20M672.40 124.64h-6.20" stroke="#262626" stroke-width="0.6" stroke-opacity="0.42"/>
<text x="43.70" y="129.13" text-anchor="end" class="t">0.1</text>
<path d="M48.20 97.27h6.20M672.40 97.27h-6.20" stroke="#262626" stroke-width="0.6" stroke-opacity="0.42"/>
<text x="43.70" y="101.77" text-anchor="end" class="t">0.15</text>
<path d="M48.20 69.90h6.20M672.40 69.90h-6.20" stroke="#262626" stroke-width="0.6" stroke-opacity="0.42"/>
<text x="43.70" y="74.40" text-anchor="end" class="t">0.2</text>
<path d="M48.20 42.53h6.20M672.40 42.53h-6.20" stroke="#262626" stroke-width="0.6" stroke-opacity="0.42"/>
<text x="43.70" y="47.03" text-anchor="end" class="t">0.25</text>
<path d="M48.20 15.17h6.20M672.40 15.17h-6.20" stroke="#262626" stroke-width="0.6" stroke-opacity="0.42"/>
<text x="43.70" y="19.67" text-anchor="end" class="t">0.3</text>
<text x="360.30" y="9.90" text-anchor="middle" class="b">cost surface</text>
<text x="360.30" y="206.50" text-anchor="middle" class="l" style="font-size:11.8px">proportionality factor of sensorimotor noise</text>
<text transform="translate(18.70 96.50) rotate(-90)" text-anchor="middle" class="l">gain factor</text>
<defs><linearGradient id="cb" x1="0" y1="1" x2="0" y2="0">
<stop offset="0.0000" stop-color="#3e26a8"/>
<stop offset="0.0159" stop-color="#402ab4"/>
<stop offset="0.0317" stop-color="#422ec0"/>
<stop offset="0.0476" stop-color="#4332cb"/>
<stop offset="0.0635" stop-color="#4537d5"/>
<stop offset="0.0794" stop-color="#463cde"/>
<stop offset="0.0952" stop-color="#4741e5"/>
<stop offset="0.1111" stop-color="#4747eb"/>
<stop offset="0.1270" stop-color="#484df0"/>
<stop offset="0.1429" stop-color="#4852f4"/>
<stop offset="0.1587" stop-color="#4758f8"/>
<stop offset="0.1746" stop-color="#465efb"/>
<stop offset="0.1905" stop-color="#4563fd"/>
<stop offset="0.2063" stop-color="#4269fe"/>
<stop offset="0.2222" stop-color="#3e6fff"/>
<stop offset="0.2381" stop-color="#3875fe"/>
<stop offset="0.2540" stop-color="#327cfc"/>
<stop offset="0.2698" stop-color="#2f81fa"/>
<stop offset="0.2857" stop-color="#2e87f7"/>
<stop offset="0.3016" stop-color="#2d8cf3"/>
<stop offset="0.3175" stop-color="#2b91ef"/>
<stop offset="0.3333" stop-color="#2797eb"/>
<stop offset="0.3492" stop-color="#259be8"/>
<stop offset="0.3651" stop-color="#23a0e5"/>
<stop offset="0.3810" stop-color="#20a5e3"/>
<stop offset="0.3968" stop-color="#1ca9df"/>
<stop offset="0.4127" stop-color="#18addb"/>
<stop offset="0.4286" stop-color="#12b1d6"/>
<stop offset="0.4444" stop-color="#08b5d0"/>
<stop offset="0.4603" stop-color="#01b8ca"/>
<stop offset="0.4762" stop-color="#02bac3"/>
<stop offset="0.4921" stop-color="#0bbdbd"/>
<stop offset="0.5079" stop-color="#19bfb6"/>
<stop offset="0.5238" stop-color="#24c1ae"/>
<stop offset="0.5397" stop-color="#2cc4a7"/>
<stop offset="0.5556" stop-color="#31c69f"/>
<stop offset="0.5714" stop-color="#37c897"/>
<stop offset="0.5873" stop-color="#3fca8e"/>
<stop offset="0.6032" stop-color="#4acb84"/>
<stop offset="0.6190" stop-color="#57cc7a"/>
<stop offset="0.6349" stop-color="#64cd6f"/>
<stop offset="0.6508" stop-color="#72cd64"/>
<stop offset="0.6667" stop-color="#81cc59"/>
<stop offset="0.6825" stop-color="#8fcb4e"/>
<stop offset="0.6984" stop-color="#9dc943"/>
<stop offset="0.7143" stop-color="#abc739"/>
<stop offset="0.7302" stop-color="#b9c431"/>
<stop offset="0.7460" stop-color="#c5c22a"/>
<stop offset="0.7619" stop-color="#d1bf27"/>
<stop offset="0.7778" stop-color="#dcbd29"/>
<stop offset="0.7937" stop-color="#e6bb2d"/>
<stop offset="0.8095" stop-color="#f0ba36"/>
<stop offset="0.8254" stop-color="#f8ba3d"/>
<stop offset="0.8413" stop-color="#febe3c"/>
<stop offset="0.8571" stop-color="#fec338"/>
<stop offset="0.8730" stop-color="#fec934"/>
<stop offset="0.8889" stop-color="#fccf30"/>
<stop offset="0.9048" stop-color="#fad62d"/>
<stop offset="0.9206" stop-color="#f7dc2a"/>
<stop offset="0.9365" stop-color="#f5e327"/>
<stop offset="0.9524" stop-color="#f5e924"/>
<stop offset="0.9683" stop-color="#f6ef20"/>
<stop offset="0.9841" stop-color="#f7f51b"/>
<stop offset="1.0000" stop-color="#f9fb15"/>
</linearGradient></defs>
<rect x="679.30" y="14.00" width="10.30" height="164.00" fill="url(#cb)" stroke="#262626" stroke-width="0.48"/>
<text x="693.20" y="168.02" class="t">6.1</text>
<path d="M679.30 164.72h1.6M689.60 164.72h-1.6" stroke="#262626" stroke-width="0.6" stroke-opacity="0.42"/>
<text x="693.20" y="148.50" class="t">6.2</text>
<path d="M679.30 145.20h1.6M689.60 145.20h-1.6" stroke="#262626" stroke-width="0.6" stroke-opacity="0.42"/>
<text x="693.20" y="128.98" class="t">6.3</text>
<path d="M679.30 125.68h1.6M689.60 125.68h-1.6" stroke="#262626" stroke-width="0.6" stroke-opacity="0.42"/>
<text x="693.20" y="109.45" class="t">6.4</text>
<path d="M679.30 106.15h1.6M689.60 106.15h-1.6" stroke="#262626" stroke-width="0.6" stroke-opacity="0.42"/>
<text x="693.20" y="89.93" class="t">6.5</text>
<path d="M679.30 86.63h1.6M689.60 86.63h-1.6" stroke="#262626" stroke-width="0.6" stroke-opacity="0.42"/>
<text x="693.20" y="70.40" class="t">6.6</text>
<path d="M679.30 67.10h1.6M689.60 67.10h-1.6" stroke="#262626" stroke-width="0.6" stroke-opacity="0.42"/>
<text x="693.20" y="50.88" class="t">6.7</text>
<path d="M679.30 47.58h1.6M689.60 47.58h-1.6" stroke="#262626" stroke-width="0.6" stroke-opacity="0.42"/>
<text x="693.20" y="31.36" class="t">6.8</text>
<path d="M679.30 28.06h1.6M689.60 28.06h-1.6" stroke="#262626" stroke-width="0.6" stroke-opacity="0.42"/>
<rect x="48.50" y="232.50" width="217.50" height="163.90" fill="#fff" stroke="#262626" stroke-width="0.48"/>
<path d="M48.50 396.40v-2.20M48.50 232.50v2.20" stroke="#262626" stroke-width="0.48"/>
<text x="48.50" y="411.50" text-anchor="middle" class="t">0</text>
<path d="M84.75 396.40v-2.20M84.75 232.50v2.20" stroke="#262626" stroke-width="0.48"/>
<text x="84.75" y="411.50" text-anchor="middle" class="t">0.05</text>
<path d="M121.00 396.40v-2.20M121.00 232.50v2.20" stroke="#262626" stroke-width="0.48"/>
<text x="121.00" y="411.50" text-anchor="middle" class="t">0.1</text>
<path d="M157.25 396.40v-2.20M157.25 232.50v2.20" stroke="#262626" stroke-width="0.48"/>
<text x="157.25" y="411.50" text-anchor="middle" class="t">0.15</text>
<path d="M193.50 396.40v-2.20M193.50 232.50v2.20" stroke="#262626" stroke-width="0.48"/>
<text x="193.50" y="411.50" text-anchor="middle" class="t">0.2</text>
<path d="M229.75 396.40v-2.20M229.75 232.50v2.20" stroke="#262626" stroke-width="0.48"/>
<text x="229.75" y="411.50" text-anchor="middle" class="t">0.25</text>
<path d="M266.00 396.40v-2.20M266.00 232.50v2.20" stroke="#262626" stroke-width="0.48"/>
<text x="266.00" y="411.50" text-anchor="middle" class="t">0.3</text>
<path d="M48.50 396.40h2.20M266.00 396.40h-2.20" stroke="#262626" stroke-width="0.48"/>
<text x="44.00" y="400.90" text-anchor="end" class="t">6.1</text>
<path d="M48.50 363.62h2.20M266.00 363.62h-2.20" stroke="#262626" stroke-width="0.48"/>
<text x="44.00" y="368.12" text-anchor="end" class="t">6.2</text>
<path d="M48.50 330.84h2.20M266.00 330.84h-2.20" stroke="#262626" stroke-width="0.48"/>
<text x="44.00" y="335.34" text-anchor="end" class="t">6.3</text>
<path d="M48.50 298.06h2.20M266.00 298.06h-2.20" stroke="#262626" stroke-width="0.48"/>
<text x="44.00" y="302.56" text-anchor="end" class="t">6.4</text>
<path d="M48.50 265.28h2.20M266.00 265.28h-2.20" stroke="#262626" stroke-width="0.48"/>
<text x="44.00" y="269.78" text-anchor="end" class="t">6.5</text>
<path d="M48.50 232.50h2.20M266.00 232.50h-2.20" stroke="#262626" stroke-width="0.48"/>
<text x="44.00" y="237.00" text-anchor="end" class="t">6.6</text>
<polyline fill="none" stroke="#0072bd" stroke-width="1.9" stroke-linejoin="round" points="52.12,366.32 55.75,368.28 59.38,370.38 63.00,372.36 66.62,374.40 70.25,375.75 73.88,376.94 77.50,377.88 81.12,379.23 84.75,380.42 88.38,380.65 92.00,381.26 95.62,381.62 99.25,382.18 102.88,382.59 106.50,382.47 110.12,382.07 113.75,381.74 117.38,381.56 121.00,381.08 124.62,380.01 128.25,379.46 131.88,377.13 135.50,375.66 139.12,374.96 142.75,373.92 146.38,371.78 150.00,369.87 153.62,367.34 157.25,365.21 160.88,363.57 164.50,361.57 168.12,359.46 171.75,356.44 175.38,354.00 179.00,350.74 182.62,345.60 186.25,341.69 189.88,337.10 193.50,332.82 197.13,328.37 200.75,326.20 204.38,323.31 208.00,320.33 211.62,314.67 215.25,309.82 218.88,307.45 222.50,304.82 226.12,299.57 229.75,293.46 233.38,289.86 237.00,286.22 240.63,282.07 244.25,276.87 247.88,272.09 251.50,266.77 255.13,260.26 258.75,255.74 262.38,251.54 266.00,248.82"/>
<circle cx="102.88" cy="382.63" r="2.5" fill="none" stroke="#d95319" stroke-width="1.4"/>
<text x="157.25" y="228.90" text-anchor="middle" class="b">minimum cost for gain=0.075</text>
<text x="157.25" y="425.20" text-anchor="middle" class="l" style="font-size:11.5px">gain</text>
<text transform="translate(23.70 314.45) rotate(-90)" text-anchor="middle" class="l">log(cost)</text>
<rect x="319.50" y="232.50" width="353.00" height="54.70" fill="#fff" stroke="#262626" stroke-width="0.48"/>
<path d="M319.50 287.20v-3.50M319.50 232.50v3.50" stroke="#262626" stroke-width="0.48"/>
<text x="319.50" y="301.80" text-anchor="middle" class="t">0</text>
<path d="M354.80 287.20v-3.50M354.80 232.50v3.50" stroke="#262626" stroke-width="0.48"/>
<text x="354.80" y="301.80" text-anchor="middle" class="t">2</text>
<path d="M390.10 287.20v-3.50M390.10 232.50v3.50" stroke="#262626" stroke-width="0.48"/>
<text x="390.10" y="301.80" text-anchor="middle" class="t">4</text>
<path d="M425.40 287.20v-3.50M425.40 232.50v3.50" stroke="#262626" stroke-width="0.48"/>
<text x="425.40" y="301.80" text-anchor="middle" class="t">6</text>
<path d="M460.70 287.20v-3.50M460.70 232.50v3.50" stroke="#262626" stroke-width="0.48"/>
<text x="460.70" y="301.80" text-anchor="middle" class="t">8</text>
<path d="M496.00 287.20v-3.50M496.00 232.50v3.50" stroke="#262626" stroke-width="0.48"/>
<text x="496.00" y="301.80" text-anchor="middle" class="t">10</text>
<path d="M531.30 287.20v-3.50M531.30 232.50v3.50" stroke="#262626" stroke-width="0.48"/>
<text x="531.30" y="301.80" text-anchor="middle" class="t">12</text>
<path d="M566.60 287.20v-3.50M566.60 232.50v3.50" stroke="#262626" stroke-width="0.48"/>
<text x="566.60" y="301.80" text-anchor="middle" class="t">14</text>
<path d="M601.90 287.20v-3.50M601.90 232.50v3.50" stroke="#262626" stroke-width="0.48"/>
<text x="601.90" y="301.80" text-anchor="middle" class="t">16</text>
<path d="M637.20 287.20v-3.50M637.20 232.50v3.50" stroke="#262626" stroke-width="0.48"/>
<text x="637.20" y="301.80" text-anchor="middle" class="t">18</text>
<path d="M672.50 287.20v-3.50M672.50 232.50v3.50" stroke="#262626" stroke-width="0.48"/>
<text x="672.50" y="301.80" text-anchor="middle" class="t">20</text>
<path d="M319.50 287.20h3.50M672.50 287.20h-3.50" stroke="#262626" stroke-width="0.48"/>
<text x="315.70" y="291.70" text-anchor="end" class="t">-10</text>
<path d="M319.50 259.85h3.50M672.50 259.85h-3.50" stroke="#262626" stroke-width="0.48"/>
<text x="315.70" y="264.35" text-anchor="end" class="t">0</text>
<path d="M319.50 232.50h3.50M672.50 232.50h-3.50" stroke="#262626" stroke-width="0.48"/>
<text x="315.70" y="237.00" text-anchor="end" class="t">10</text>
<polyline fill="none" stroke="#0072bd" stroke-width="1.9" stroke-linejoin="round" points="319.5,259.9 319.9,257.7 320.4,255.6 320.8,253.5 321.3,251.4 321.7,249.4 322.1,247.4 322.6,245.6 323.0,243.8 323.5,242.1 323.9,240.5 324.4,239.1 324.8,237.7 325.2,236.5 325.7,235.5 326.1,234.6 326.6,233.8 327.0,233.3 327.4,232.8 327.9,232.6 328.3,232.5 328.8,232.6 329.2,232.8 329.6,233.3 330.1,233.8 330.5,234.6 331.0,235.5 331.4,236.5 331.9,237.7 332.3,239.1 332.7,240.5 333.2,242.1 333.6,243.8 334.1,245.6 334.5,247.4 334.9,249.4 335.4,251.4 335.8,253.5 336.3,255.6 336.7,257.7 337.1,259.8 337.6,262.0 338.0,264.1 338.5,266.2 338.9,268.3 339.4,270.3 339.8,272.3 340.2,274.1 340.7,275.9 341.1,277.6 341.6,279.2 342.0,280.6 342.4,282.0 342.9,283.2 343.3,284.2 343.8,285.1 344.2,285.9 344.7,286.4 345.1,286.9 345.5,287.1 346.0,287.2 346.4,287.1 346.9,286.9 347.3,286.4 347.7,285.9 348.2,285.1 348.6,284.2 349.1,283.2 349.5,282.0 349.9,280.6 350.4,279.2 350.8,277.6 351.3,275.9 351.7,274.1 352.2,272.3 352.6,270.3 353.0,268.3 353.5,266.2 353.9,264.1 354.4,262.0 354.8,259.9 355.2,257.7 355.7,255.6 356.1,253.5 356.6,251.4 357.0,249.4 357.4,247.4 357.9,245.6 358.3,243.8 358.8,242.1 359.2,240.5 359.7,239.1 360.1,237.7 360.5,236.5 361.0,235.5 361.4,234.6 361.9,233.8 362.3,233.3 362.7,232.8 363.2,232.6 363.6,232.5 364.1,232.6 364.5,232.8 364.9,233.3 365.4,233.8 365.8,234.6 366.3,235.5 366.7,236.5 367.2,237.7 367.6,239.1 368.0,240.5 368.5,242.1 368.9,243.8 369.4,245.6 369.8,247.4 370.2,249.4 370.7,251.4 371.1,253.5 371.6,255.6 372.0,257.7 372.4,259.8 372.9,262.0 373.3,264.1 373.8,266.2 374.2,268.3 374.7,270.3 375.1,272.3 375.5,274.1 376.0,275.9 376.4,277.6 376.9,279.2 377.3,280.6 377.7,282.0 378.2,283.2 378.6,284.2 379.1,285.1 379.5,285.9 380.0,286.4 380.4,286.9 380.8,287.1 381.3,287.2 381.7,287.1 382.2,286.9 382.6,286.4 383.0,285.9 383.5,285.1 383.9,284.2 384.4,283.2 384.8,282.0 385.2,280.6 385.7,279.2 386.1,277.6 386.6,275.9 387.0,274.1 387.5,272.3 387.9,270.3 388.3,268.3 388.8,266.2 389.2,264.1 389.7,262.0 390.1,259.9 390.5,257.7 391.0,255.6 391.4,253.5 391.9,251.4 392.3,249.4 392.7,247.4 393.2,245.6 393.6,243.8 394.1,242.1 394.5,240.5 395.0,239.1 395.4,237.7 395.8,236.5 396.3,235.5 396.7,234.6 397.2,233.8 397.6,233.3 398.0,232.8 398.5,232.6 398.9,232.5 399.4,232.6 399.8,232.8 400.2,233.3 400.7,233.8 401.1,234.6 401.6,235.5 402.0,236.5 402.5,237.7 402.9,239.1 403.3,240.5 403.8,242.1 404.2,243.8 404.7,245.6 405.1,247.4 405.5,249.4 406.0,251.4 406.4,253.5 406.9,255.6 407.3,257.7 407.8,259.8 408.2,262.0 408.6,264.1 409.1,266.2 409.5,268.3 410.0,270.3 410.4,272.3 410.8,274.1 411.3,275.9 411.7,277.6 412.2,279.2 412.6,280.6 413.0,282.0 413.5,283.2 413.9,284.2 414.4,285.1 414.8,285.9 415.3,286.4 415.7,286.9 416.1,287.1 416.6,287.2 417.0,287.1 417.5,286.9 417.9,286.4 418.3,285.9 418.8,285.1 419.2,284.2 419.7,283.2 420.1,282.0 420.5,280.6 421.0,279.2 421.4,277.6 421.9,275.9 422.3,274.1 422.8,272.3 423.2,270.3 423.6,268.3 424.1,266.2 424.5,264.1 425.0,262.0 425.4,259.9 425.8,257.7 426.3,255.6 426.7,253.5 427.2,251.4 427.6,249.4 428.0,247.4 428.5,245.6 428.9,243.8 429.4,242.1 429.8,240.5 430.3,239.1 430.7,237.7 431.1,236.5 431.6,235.5 432.0,234.6 432.5,233.8 432.9,233.3 433.3,232.8 433.8,232.6 434.2,232.5 434.7,232.6 435.1,232.8 435.5,233.3 436.0,233.8 436.4,234.6 436.9,235.5 437.3,236.5 437.8,237.7 438.2,239.1 438.6,240.5 439.1,242.1 439.5,243.8 440.0,245.6 440.4,247.4 440.8,249.4 441.3,251.4 441.7,253.5 442.2,255.6 442.6,257.7 443.1,259.8 443.5,262.0 443.9,264.1 444.4,266.2 444.8,268.3 445.3,270.3 445.7,272.3 446.1,274.1 446.6,275.9 447.0,277.6 447.5,279.2 447.9,280.6 448.3,282.0 448.8,283.2 449.2,284.2 449.7,285.1 450.1,285.9 450.6,286.4 451.0,286.9 451.4,287.1 451.9,287.2 452.3,287.1 452.8,286.9 453.2,286.4 453.6,285.9 454.1,285.1 454.5,284.2 455.0,283.2 455.4,282.0 455.8,280.6 456.3,279.2 456.7,277.6 457.2,275.9 457.6,274.1 458.1,272.3 458.5,270.3 458.9,268.3 459.4,266.2 459.8,264.1 460.3,262.0 460.7,259.9 461.1,257.7 461.6,255.6 462.0,253.5 462.5,251.4 462.9,249.4 463.3,247.4 463.8,245.6 464.2,243.8 464.7,242.1 465.1,240.5 465.6,239.1 466.0,237.7 466.4,236.5 466.9,235.5 467.3,234.6 467.8,233.8 468.2,233.3 468.6,232.8 469.1,232.6 469.5,232.5 470.0,232.6 470.4,232.8 470.8,233.3 471.3,233.8 471.7,234.6 472.2,235.5 472.6,236.5 473.1,237.7 473.5,239.1 473.9,240.5 474.4,242.1 474.8,243.8 475.3,245.6 475.7,247.4 476.1,249.4 476.6,251.4 477.0,253.5 477.5,255.6 477.9,257.7 478.4,259.8 478.8,262.0 479.2,264.1 479.7,266.2 480.1,268.3 480.6,270.3 481.0,272.3 481.4,274.1 481.9,275.9 482.3,277.6 482.8,279.2 483.2,280.6 483.6,282.0 484.1,283.2 484.5,284.2 485.0,285.1 485.4,285.9 485.9,286.4 486.3,286.9 486.7,287.1 487.2,287.2 487.6,287.1 488.1,286.9 488.5,286.4 488.9,285.9 489.4,285.1 489.8,284.2 490.3,283.2 490.7,282.0 491.1,280.6 491.6,279.2 492.0,277.6 492.5,275.9 492.9,274.1 493.4,272.3 493.8,270.3 494.2,268.3 494.7,266.2 495.1,264.1 495.6,262.0 496.0,259.9 496.4,257.7 496.9,255.6 497.3,253.5 497.8,251.4 498.2,249.4 498.6,247.4 499.1,245.6 499.5,243.8 500.0,242.1 500.4,240.5 500.9,239.1 501.3,237.7 501.7,236.5 502.2,235.5 502.6,234.6 503.1,233.8 503.5,233.3 503.9,232.8 504.4,232.6 504.8,232.5 505.3,232.6 505.7,232.8 506.1,233.3 506.6,233.8 507.0,234.6 507.5,235.5 507.9,236.5 508.4,237.7 508.8,239.1 509.2,240.5 509.7,242.1 510.1,243.8 510.6,245.6 511.0,247.4 511.4,249.4 511.9,251.4 512.3,253.5 512.8,255.6 513.2,257.7 513.6,259.8 514.1,262.0 514.5,264.1 515.0,266.2 515.4,268.3 515.9,270.3 516.3,272.3 516.7,274.1 517.2,275.9 517.6,277.6 518.1,279.2 518.5,280.6 518.9,282.0 519.4,283.2 519.8,284.2 520.3,285.1 520.7,285.9 521.2,286.4 521.6,286.9 522.0,287.1 522.5,287.2 522.9,287.1 523.4,286.9 523.8,286.4 524.2,285.9 524.7,285.1 525.1,284.2 525.6,283.2 526.0,282.0 526.4,280.6 526.9,279.2 527.3,277.6 527.8,275.9 528.2,274.1 528.7,272.3 529.1,270.3 529.5,268.3 530.0,266.2 530.4,264.1 530.9,262.0 531.3,259.9 531.7,257.7 532.2,255.6 532.6,253.5 533.1,251.4 533.5,249.4 533.9,247.4 534.4,245.6 534.8,243.8 535.3,242.1 535.7,240.5 536.2,239.1 536.6,237.7 537.0,236.5 537.5,235.5 537.9,234.6 538.4,233.8 538.8,233.3 539.2,232.8 539.7,232.6 540.1,232.5 540.6,232.6 541.0,232.8 541.4,233.3 541.9,233.8 542.3,234.6 542.8,235.5 543.2,236.5 543.7,237.7 544.1,239.1 544.5,240.5 545.0,242.1 545.4,243.8 545.9,245.6 546.3,247.4 546.7,249.4 547.2,251.4 547.6,253.5 548.1,255.6 548.5,257.7 549.0,259.9 549.4,262.0 549.8,264.1 550.3,266.2 550.7,268.3 551.2,270.3 551.6,272.3 552.0,274.1 552.5,275.9 552.9,277.6 553.4,279.2 553.8,280.6 554.2,282.0 554.7,283.2 555.1,284.2 555.6,285.1 556.0,285.9 556.5,286.4 556.9,286.9 557.3,287.1 557.8,287.2 558.2,287.1 558.7,286.9 559.1,286.4 559.5,285.9 560.0,285.1 560.4,284.2 560.9,283.2 561.3,282.0 561.7,280.6 562.2,279.2 562.6,277.6 563.1,275.9 563.5,274.1 564.0,272.3 564.4,270.3 564.8,268.3 565.3,266.2 565.7,264.1 566.2,262.0 566.6,259.9 567.0,257.7 567.5,255.6 567.9,253.5 568.4,251.4 568.8,249.4 569.2,247.4 569.7,245.6 570.1,243.8 570.6,242.1 571.0,240.5 571.5,239.1 571.9,237.7 572.3,236.5 572.8,235.5 573.2,234.6 573.7,233.8 574.1,233.3 574.5,232.8 575.0,232.6 575.4,232.5 575.9,232.6 576.3,232.8 576.7,233.3 577.2,233.8 577.6,234.6 578.1,235.5 578.5,236.5 579.0,237.7 579.4,239.1 579.8,240.5 580.3,242.1 580.7,243.8 581.2,245.6 581.6,247.4 582.0,249.4 582.5,251.4 582.9,253.5 583.4,255.6 583.8,257.7 584.2,259.8 584.7,262.0 585.1,264.1 585.6,266.2 586.0,268.3 586.5,270.3 586.9,272.3 587.3,274.1 587.8,275.9 588.2,277.6 588.7,279.2 589.1,280.6 589.5,282.0 590.0,283.2 590.4,284.2 590.9,285.1 591.3,285.9 591.8,286.4 592.2,286.9 592.6,287.1 593.1,287.2 593.5,287.1 594.0,286.9 594.4,286.4 594.8,285.9 595.3,285.1 595.7,284.2 596.2,283.2 596.6,282.0 597.0,280.6 597.5,279.2 597.9,277.6 598.4,275.9 598.8,274.1 599.3,272.3 599.7,270.3 600.1,268.3 600.6,266.2 601.0,264.1 601.5,262.0 601.9,259.9 602.3,257.7 602.8,255.6 603.2,253.5 603.7,251.4 604.1,249.4 604.5,247.4 605.0,245.6 605.4,243.8 605.9,242.1 606.3,240.5 606.8,239.1 607.2,237.7 607.6,236.5 608.1,235.5 608.5,234.6 609.0,233.8 609.4,233.3 609.8,232.8 610.3,232.6 610.7,232.5 611.2,232.6 611.6,232.8 612.0,233.3 612.5,233.8 612.9,234.6 613.4,235.5 613.8,236.5 614.3,237.7 614.7,239.1 615.1,240.5 615.6,242.1 616.0,243.8 616.5,245.6 616.9,247.4 617.3,249.4 617.8,251.4 618.2,253.5 618.7,255.6 619.1,257.7 619.5,259.9 620.0,262.0 620.4,264.1 620.9,266.2 621.3,268.3 621.8,270.3 622.2,272.3 622.6,274.1 623.1,275.9 623.5,277.6 624.0,279.2 624.4,280.6 624.8,282.0 625.3,283.2 625.7,284.2 626.2,285.1 626.6,285.9 627.1,286.4 627.5,286.9 627.9,287.1 628.4,287.2 628.8,287.1 629.3,286.9 629.7,286.4 630.1,285.9 630.6,285.1 631.0,284.2 631.5,283.2 631.9,282.0 632.3,280.6 632.8,279.2 633.2,277.6 633.7,275.9 634.1,274.1 634.6,272.3 635.0,270.3 635.4,268.3 635.9,266.2 636.3,264.1 636.8,262.0 637.2,259.9 637.6,257.7 638.1,255.6 638.5,253.5 639.0,251.4 639.4,249.4 639.8,247.4 640.3,245.6 640.7,243.8 641.2,242.1 641.6,240.5 642.1,239.1 642.5,237.7 642.9,236.5 643.4,235.5 643.8,234.6 644.3,233.8 644.7,233.3 645.1,232.8 645.6,232.6 646.0,232.5 646.5,232.6 646.9,232.8 647.3,233.3 647.8,233.8 648.2,234.6 648.7,235.5 649.1,236.5 649.6,237.7 650.0,239.1 650.4,240.5 650.9,242.1 651.3,243.8 651.8,245.6 652.2,247.4 652.6,249.4 653.1,251.4 653.5,253.5 654.0,255.6 654.4,257.7 654.8,259.8 655.3,262.0 655.7,264.1 656.2,266.2 656.6,268.3 657.1,270.3 657.5,272.3 657.9,274.1 658.4,275.9 658.8,277.6 659.3,279.2 659.7,280.6 660.1,282.0 660.6,283.2 661.0,284.2 661.5,285.1 661.9,285.9 662.4,286.4 662.8,286.9 663.2,287.1 663.7,287.2 664.1,287.1 664.6,286.9 665.0,286.4 665.4,285.9 665.9,285.1 666.3,284.2 666.8,283.2 667.2,282.0 667.6,280.6 668.1,279.2 668.5,277.6 669.0,275.9 669.4,274.1 669.9,272.3 670.3,270.3 670.7,268.3 671.2,266.2 671.6,264.1 672.1,262.0 672.5,259.9"/>
<polyline fill="none" stroke="#d95319" stroke-width="1.9" stroke-linejoin="round" points="319.5,260.5 320.1,260.4 320.6,260.6 321.2,260.6 321.7,260.9 322.3,261.1 322.8,261.2 323.4,261.4 323.9,261.6 324.5,261.5 325.0,261.5 325.6,261.5 326.1,261.6 326.7,261.5 327.2,261.4 327.8,261.4 328.3,261.4 328.9,261.4 329.4,261.1 330.0,260.9 330.5,260.9 331.1,260.7 331.6,260.6 332.2,260.5 332.7,260.3 333.3,260.1 333.8,260.0 334.4,259.7 334.9,259.6 335.5,259.4 336.0,259.2 336.6,259.0 337.1,258.9 337.7,258.8 338.3,258.7 338.8,258.6 339.4,258.6 339.9,258.6 340.5,258.3 341.0,258.4 341.6,258.2 342.1,258.2 342.7,258.2 343.2,258.3 343.8,258.4 344.3,258.2 344.9,258.4 345.4,258.4 346.0,258.3 346.5,258.4 347.1,258.6 347.6,258.8 348.2,258.9 348.7,259.0 349.3,259.1 349.8,259.2 350.4,259.4 350.9,259.4 351.5,259.6 352.0,259.8 352.6,259.9 353.1,260.3 353.7,260.3 354.2,260.6 354.8,260.9 355.4,260.8 355.9,261.0 356.5,261.3 357.0,261.2 357.6,261.4 358.1,261.6 358.7,261.7 359.2,261.8 359.8,261.7 360.3,261.8 360.9,261.7 361.4,261.7 362.0,261.5 362.5,261.5 363.1,261.3 363.6,261.5 364.2,261.2 364.7,261.3 365.3,261.3 365.8,260.9 366.4,260.9 366.9,260.8 367.5,260.8 368.0,260.5 368.6,260.4 369.1,260.2 369.7,260.1 370.2,260.0 370.8,259.7 371.3,259.6 371.9,259.4 372.4,259.3 373.0,259.0 373.6,259.0 374.1,258.8 374.7,258.7 375.2,258.5 375.8,258.2 376.3,258.2 376.9,258.2 377.4,258.1 378.0,258.1 378.5,258.3 379.1,258.3 379.6,258.2 380.2,258.3 380.7,258.1 381.3,258.1 381.8,258.4 382.4,258.5 382.9,258.6 383.5,258.8 384.0,258.8 384.6,259.0 385.1,259.1 385.7,259.1 386.2,259.4 386.8,259.6 387.3,259.9 387.9,259.8 388.4,260.1 389.0,260.2 389.5,260.4 390.1,260.7 390.7,260.7 391.2,260.8 391.8,261.0 392.3,261.2 392.9,261.1 393.4,261.3 394.0,261.6 394.5,261.6 395.1,261.5 395.6,261.4 396.2,261.3 396.7,261.1 397.3,261.3 397.8,261.1 398.4,261.0 398.9,260.8 399.5,260.8 400.0,260.8 400.6,260.7 401.1,260.6 401.7,260.5 402.2,260.5 402.8,260.3 403.3,260.1 403.9,259.9 404.4,259.6 405.0,259.4 405.5,259.1 406.1,258.8 406.6,258.4 407.2,258.1 407.8,258.0 408.3,257.7 408.9,257.6 409.4,257.4 410.0,257.4 410.5,257.4 411.1,257.2 411.6,257.1 412.2,257.0 412.7,257.1 413.3,257.1 413.8,257.3 414.4,257.3 414.9,257.5 415.5,257.6 416.0,257.8 416.6,258.0 417.1,258.1 417.7,258.3 418.2,258.6 418.8,258.7 419.3,259.2 419.9,259.3 420.4,259.5 421.0,259.7 421.5,259.8 422.1,260.1 422.6,260.4 423.2,260.7 423.7,260.7 424.3,261.0 424.8,261.2 425.4,261.2 426.0,261.3 426.5,261.4 427.1,261.4 427.6,261.4 428.2,261.6 428.7,261.4 429.3,261.5 429.8,261.5 430.4,261.5 430.9,261.2 431.5,261.2 432.0,261.3 432.6,261.0 433.1,261.0 433.7,260.9 434.2,260.8 434.8,260.8 435.3,260.8 435.9,260.8 436.4,260.8 437.0,260.6 437.5,260.4 438.1,260.5 438.6,260.4 439.2,260.3 439.7,260.2 440.3,260.0 440.8,260.0 441.4,259.7 441.9,259.7 442.5,259.7 443.1,259.6 443.6,259.6 444.2,259.3 444.7,259.4 445.3,259.4 445.8,259.2 446.4,259.2 446.9,259.1 447.5,259.2 448.0,259.1 448.6,259.0 449.1,259.1 449.7,259.1 450.2,259.1 450.8,259.3 451.3,259.2 451.9,259.4 452.4,259.5 453.0,259.6 453.5,259.7 454.1,259.8 454.6,260.0 455.2,260.2 455.7,260.4 456.3,260.5 456.8,260.7 457.4,260.8 457.9,260.9 458.5,261.0 459.0,261.2 459.6,261.4 460.1,261.3 460.7,261.4 461.3,261.5 461.8,261.6 462.4,261.8 462.9,261.8 463.5,262.0 464.0,262.1 464.6,262.0 465.1,262.0 465.7,262.0 466.2,262.0 466.8,261.9 467.3,261.8 467.9,261.8 468.4,261.7 469.0,261.6 469.5,261.3 470.1,261.2 470.6,261.2 471.2,261.0 471.7,260.8 472.3,260.7 472.8,260.5 473.4,260.3 473.9,260.3 474.5,260.0 475.0,259.9 475.6,259.8 476.1,259.6 476.7,259.5 477.2,259.3 477.8,259.1 478.4,258.9 478.9,258.9 479.5,258.6 480.0,258.6 480.6,258.3 481.1,258.3 481.7,258.1 482.2,258.0 482.8,257.7 483.3,258.0 483.9,257.7 484.4,257.7 485.0,257.8 485.5,257.8 486.1,257.8 486.6,257.7 487.2,257.7 487.7,257.9 488.3,257.9 488.8,258.2 489.4,258.4 489.9,258.5 490.5,258.6 491.0,258.7 491.6,258.9 492.1,258.9 492.7,259.2 493.2,259.4 493.8,259.6 494.3,259.9 494.9,260.0 495.4,260.3 496.0,260.5 496.6,260.3 497.1,260.6 497.7,260.6 498.2,260.8 498.8,260.9 499.3,261.0 499.9,261.0 500.4,261.1 501.0,261.0 501.5,260.8 502.1,260.8 502.6,260.8 503.2,260.7 503.7,260.6 504.3,260.8 504.8,260.5 505.4,260.5 505.9,260.3 506.5,260.3 507.0,259.9 507.6,259.9 508.1,259.6 508.7,259.6 509.2,259.5 509.8,259.0 510.3,258.9 510.9,258.7 511.4,258.5 512.0,258.1 512.5,258.1 513.1,257.8 513.6,257.7 514.2,257.5 514.8,257.4 515.3,257.4 515.9,257.5 516.4,257.2 517.0,257.3 517.5,257.3 518.1,257.4 518.6,257.4 519.2,257.3 519.7,257.7 520.3,257.6 520.8,257.7 521.4,257.8 521.9,257.9 522.5,258.0 523.0,258.2 523.6,258.5 524.1,258.4 524.7,258.4 525.2,258.8 525.8,259.0 526.3,259.2 526.9,259.4 527.4,259.4 528.0,259.6 528.5,259.8 529.1,260.1 529.6,260.3 530.2,260.3 530.7,260.5 531.3,260.7 531.9,260.8 532.4,261.1 533.0,261.2 533.5,261.3 534.1,261.4 534.6,261.8 535.2,261.8 535.7,261.9 536.3,262.0 536.8,261.9 537.4,262.0 537.9,262.1 538.5,261.9 539.0,262.0 539.6,262.0 540.1,262.0 540.7,261.8 541.2,261.7 541.8,261.5 542.3,261.4 542.9,261.1 543.4,261.1 544.0,260.9 544.5,260.8 545.1,260.5 545.6,260.4 546.2,260.2 546.7,260.2 547.3,259.9 547.8,259.7 548.4,259.4 549.0,259.4 549.5,259.1 550.1,259.3 550.6,259.1 551.2,259.1 551.7,258.9 552.3,258.8 552.8,258.9 553.4,258.8 553.9,258.8 554.5,258.9 555.0,258.8 555.6,258.7 556.1,258.8 556.7,258.8 557.2,258.8 557.8,258.8 558.3,258.8 558.9,259.0 559.4,259.1 560.0,259.3 560.5,259.3 561.1,259.5 561.6,259.4 562.2,259.5 562.7,259.7 563.3,259.8 563.8,259.9 564.4,260.1 564.9,260.3 565.5,260.4 566.0,260.4 566.6,260.6 567.2,260.6 567.7,260.7 568.3,260.8 568.8,260.7 569.4,260.8 569.9,260.7 570.5,260.9 571.0,261.0 571.6,260.9 572.1,260.9 572.7,260.7 573.2,260.7 573.8,260.6 574.3,260.7 574.9,260.7 575.4,260.5 576.0,260.4 576.5,260.4 577.1,260.5 577.6,260.2 578.2,260.2 578.7,260.1 579.3,260.0 579.8,259.9 580.4,259.6 580.9,259.5 581.5,259.5 582.0,259.3 582.6,259.0 583.1,258.8 583.7,258.7 584.2,258.6 584.8,258.4 585.4,258.5 585.9,258.3 586.5,258.2 587.0,258.2 587.6,258.1 588.1,258.1 588.7,257.9 589.2,257.9 589.8,258.0 590.3,258.0 590.9,258.1 591.4,258.1 592.0,258.1 592.5,258.2 593.1,258.3 593.6,258.3 594.2,258.5 594.7,258.7 595.3,259.0 595.8,259.0 596.4,259.3 596.9,259.3 597.5,259.6 598.0,259.9 598.6,260.0 599.1,260.4 599.7,260.3 600.2,260.7 600.8,261.0 601.3,261.2 601.9,261.3 602.5,261.6 603.0,261.5 603.6,261.8 604.1,261.9 604.7,262.0 605.2,262.1 605.8,262.1 606.3,262.2 606.9,262.2 607.4,262.3 608.0,262.1 608.5,262.2 609.1,262.1 609.6,262.1 610.2,261.8 610.7,261.9 611.3,261.8 611.8,261.7 612.4,261.4 612.9,261.3 613.5,261.1 614.0,260.9 614.6,260.7 615.1,260.5 615.7,260.3 616.2,260.2 616.8,260.2 617.3,259.8 617.9,259.8 618.4,259.7 619.0,259.4 619.5,259.5 620.1,259.1 620.7,259.2 621.2,258.9 621.8,258.7 622.3,258.7 622.9,258.8 623.4,258.5 624.0,258.5 624.5,258.3 625.1,258.4 625.6,258.5 626.2,258.5 626.7,258.5 627.3,258.6 627.8,258.5 628.4,258.6 628.9,258.7 629.5,259.0 630.0,259.0 630.6,259.1 631.1,259.3 631.7,259.6 632.2,259.6 632.8,259.7 633.3,259.9 633.9,260.2 634.4,260.4 635.0,260.3 635.5,260.5 636.1,260.8 636.6,261.0 637.2,260.9 637.8,261.1 638.3,261.4 638.9,261.3 639.4,261.5 640.0,261.5 640.5,261.7 641.1,261.7 641.6,261.7 642.2,261.8 642.7,261.6 643.3,261.6 643.8,261.6 644.4,261.4 644.9,261.4 645.5,261.3 646.0,261.2 646.6,261.3 647.1,261.0 647.7,261.0 648.2,260.7 648.8,260.5 649.3,260.4 649.9,260.3 650.4,260.1 651.0,260.0 651.5,259.7 652.1,259.7 652.6,259.5 653.2,259.3 653.7,259.2 654.3,259.1 654.8,259.0 655.4,258.8 656.0,258.7 656.5,258.5 657.1,258.5 657.6,258.4 658.2,258.1 658.7,258.2 659.3,258.2 659.8,258.1 660.4,258.0 660.9,258.2 661.5,258.2 662.0,258.2 662.6,258.3 663.1,258.2 663.7,258.3 664.2,258.3 664.8,258.5 665.3,258.7 665.9,258.8 666.4,259.0 667.0,259.1 667.5,259.4 668.1,259.5 668.6,260.0 669.2,260.1 669.7,260.1 670.3,260.3 670.8,260.8 671.4,260.9 671.9,261.2 672.5,261.2"/>
<text x="496.00" y="228.90" text-anchor="middle" class="b">simulation</text>
<text x="496.00" y="315.50" text-anchor="middle" class="l">time (s)</text>
<text transform="translate(294.20 259.85) rotate(-90)" text-anchor="middle" class="l" style="font-size:11.4px">position (deg)</text>
<rect x="319.50" y="342.40" width="353.00" height="54.00" fill="#fff" stroke="#262626" stroke-width="0.48"/>
<path d="M319.50 396.40v-3.50M319.50 342.40v3.50" stroke="#262626" stroke-width="0.48"/>
<text x="319.50" y="411.00" text-anchor="middle" class="t">0</text>
<path d="M354.80 396.40v-3.50M354.80 342.40v3.50" stroke="#262626" stroke-width="0.48"/>
<text x="354.80" y="411.00" text-anchor="middle" class="t">2</text>
<path d="M390.10 396.40v-3.50M390.10 342.40v3.50" stroke="#262626" stroke-width="0.48"/>
<text x="390.10" y="411.00" text-anchor="middle" class="t">4</text>
<path d="M425.40 396.40v-3.50M425.40 342.40v3.50" stroke="#262626" stroke-width="0.48"/>
<text x="425.40" y="411.00" text-anchor="middle" class="t">6</text>
<path d="M460.70 396.40v-3.50M460.70 342.40v3.50" stroke="#262626" stroke-width="0.48"/>
<text x="460.70" y="411.00" text-anchor="middle" class="t">8</text>
<path d="M496.00 396.40v-3.50M496.00 342.40v3.50" stroke="#262626" stroke-width="0.48"/>
<text x="496.00" y="411.00" text-anchor="middle" class="t">10</text>
<path d="M531.30 396.40v-3.50M531.30 342.40v3.50" stroke="#262626" stroke-width="0.48"/>
<text x="531.30" y="411.00" text-anchor="middle" class="t">12</text>
<path d="M566.60 396.40v-3.50M566.60 342.40v3.50" stroke="#262626" stroke-width="0.48"/>
<text x="566.60" y="411.00" text-anchor="middle" class="t">14</text>
<path d="M601.90 396.40v-3.50M601.90 342.40v3.50" stroke="#262626" stroke-width="0.48"/>
<text x="601.90" y="411.00" text-anchor="middle" class="t">16</text>
<path d="M637.20 396.40v-3.50M637.20 342.40v3.50" stroke="#262626" stroke-width="0.48"/>
<text x="637.20" y="411.00" text-anchor="middle" class="t">18</text>
<path d="M672.50 396.40v-3.50M672.50 342.40v3.50" stroke="#262626" stroke-width="0.48"/>
<text x="672.50" y="411.00" text-anchor="middle" class="t">20</text>
<path d="M319.50 396.40h3.50M672.50 396.40h-3.50" stroke="#262626" stroke-width="0.48"/>
<text x="315.70" y="400.90" text-anchor="end" class="t">-10</text>
<path d="M319.50 369.40h3.50M672.50 369.40h-3.50" stroke="#262626" stroke-width="0.48"/>
<text x="315.70" y="373.90" text-anchor="end" class="t">0</text>
<path d="M319.50 342.40h3.50M672.50 342.40h-3.50" stroke="#262626" stroke-width="0.48"/>
<text x="315.70" y="346.90" text-anchor="end" class="t">10</text>
<polyline fill="none" stroke="#0072bd" stroke-width="1.9" stroke-linejoin="round" points="319.5,369.4 319.9,367.3 320.4,365.2 320.8,363.1 321.3,361.1 321.7,359.1 322.1,357.1 322.6,355.3 323.0,353.5 323.5,351.9 323.9,350.3 324.4,348.9 324.8,347.6 325.2,346.4 325.7,345.3 326.1,344.5 326.6,343.7 327.0,343.1 327.4,342.7 327.9,342.5 328.3,342.4 328.8,342.5 329.2,342.7 329.6,343.1 330.1,343.7 330.5,344.5 331.0,345.3 331.4,346.4 331.9,347.6 332.3,348.9 332.7,350.3 333.2,351.9 333.6,353.5 334.1,355.3 334.5,357.1 334.9,359.1 335.4,361.1 335.8,363.1 336.3,365.2 336.7,367.3 337.1,369.4 337.6,371.5 338.0,373.6 338.5,375.7 338.9,377.7 339.4,379.7 339.8,381.7 340.2,383.5 340.7,385.3 341.1,386.9 341.6,388.5 342.0,389.9 342.4,391.2 342.9,392.4 343.3,393.5 343.8,394.3 344.2,395.1 344.7,395.7 345.1,396.1 345.5,396.3 346.0,396.4 346.4,396.3 346.9,396.1 347.3,395.7 347.7,395.1 348.2,394.3 348.6,393.5 349.1,392.4 349.5,391.2 349.9,389.9 350.4,388.5 350.8,386.9 351.3,385.3 351.7,383.5 352.2,381.7 352.6,379.7 353.0,377.7 353.5,375.7 353.9,373.6 354.4,371.5 354.8,369.4 355.2,367.3 355.7,365.2 356.1,363.1 356.6,361.1 357.0,359.1 357.4,357.1 357.9,355.3 358.3,353.5 358.8,351.9 359.2,350.3 359.7,348.9 360.1,347.6 360.5,346.4 361.0,345.3 361.4,344.5 361.9,343.7 362.3,343.1 362.7,342.7 363.2,342.5 363.6,342.4 364.1,342.5 364.5,342.7 364.9,343.1 365.4,343.7 365.8,344.5 366.3,345.3 366.7,346.4 367.2,347.6 367.6,348.9 368.0,350.3 368.5,351.9 368.9,353.5 369.4,355.3 369.8,357.1 370.2,359.1 370.7,361.1 371.1,363.1 371.6,365.2 372.0,367.3 372.4,369.4 372.9,371.5 373.3,373.6 373.8,375.7 374.2,377.7 374.7,379.7 375.1,381.7 375.5,383.5 376.0,385.3 376.4,386.9 376.9,388.5 377.3,389.9 377.7,391.2 378.2,392.4 378.6,393.5 379.1,394.3 379.5,395.1 380.0,395.7 380.4,396.1 380.8,396.3 381.3,396.4 381.7,396.3 382.2,396.1 382.6,395.7 383.0,395.1 383.5,394.3 383.9,393.5 384.4,392.4 384.8,391.2 385.2,389.9 385.7,388.5 386.1,386.9 386.6,385.3 387.0,383.5 387.5,381.7 387.9,379.7 388.3,377.7 388.8,375.7 389.2,373.6 389.7,371.5 390.1,369.4 390.5,367.3 391.0,365.2 391.4,363.1 391.9,361.1 392.3,359.1 392.7,357.1 393.2,355.3 393.6,353.5 394.1,351.9 394.5,350.3 395.0,348.9 395.4,347.6 395.8,346.4 396.3,345.3 396.7,344.5 397.2,343.7 397.6,343.1 398.0,342.7 398.5,342.5 398.9,342.4 399.4,342.5 399.8,342.7 400.2,343.1 400.7,343.7 401.1,344.5 401.6,345.3 402.0,346.4 402.5,347.6 402.9,348.9 403.3,350.3 403.8,351.9 404.2,353.5 404.7,355.3 405.1,357.1 405.5,359.1 406.0,361.1 406.4,363.1 406.9,365.2 407.3,367.3 407.8,369.4 408.2,371.5 408.6,373.6 409.1,375.7 409.5,377.7 410.0,379.7 410.4,381.7 410.8,383.5 411.3,385.3 411.7,386.9 412.2,388.5 412.6,389.9 413.0,391.2 413.5,392.4 413.9,393.5 414.4,394.3 414.8,395.1 415.3,395.7 415.7,396.1 416.1,396.3 416.6,396.4 417.0,396.3 417.5,396.1 417.9,395.7 418.3,395.1 418.8,394.3 419.2,393.5 419.7,392.4 420.1,391.2 420.5,389.9 421.0,388.5 421.4,386.9 421.9,385.3 422.3,383.5 422.8,381.7 423.2,379.7 423.6,377.7 424.1,375.7 424.5,373.6 425.0,371.5 425.4,369.4 425.8,367.3 426.3,365.2 426.7,363.1 427.2,361.1 427.6,359.1 428.0,357.1 428.5,355.3 428.9,353.5 429.4,351.9 429.8,350.3 430.3,348.9 430.7,347.6 431.1,346.4 431.6,345.3 432.0,344.5 432.5,343.7 432.9,343.1 433.3,342.7 433.8,342.5 434.2,342.4 434.7,342.5 435.1,342.7 435.5,343.1 436.0,343.7 436.4,344.5 436.9,345.3 437.3,346.4 437.8,347.6 438.2,348.9 438.6,350.3 439.1,351.9 439.5,353.5 440.0,355.3 440.4,357.1 440.8,359.1 441.3,361.1 441.7,363.1 442.2,365.2 442.6,367.3 443.1,369.4 443.5,371.5 443.9,373.6 444.4,375.7 444.8,377.7 445.3,379.7 445.7,381.7 446.1,383.5 446.6,385.3 447.0,386.9 447.5,388.5 447.9,389.9 448.3,391.2 448.8,392.4 449.2,393.5 449.7,394.3 450.1,395.1 450.6,395.7 451.0,396.1 451.4,396.3 451.9,396.4 452.3,396.3 452.8,396.1 453.2,395.7 453.6,395.1 454.1,394.3 454.5,393.5 455.0,392.4 455.4,391.2 455.8,389.9 456.3,388.5 456.7,386.9 457.2,385.3 457.6,383.5 458.1,381.7 458.5,379.7 458.9,377.7 459.4,375.7 459.8,373.6 460.3,371.5 460.7,369.4 461.1,367.3 461.6,365.2 462.0,363.1 462.5,361.1 462.9,359.1 463.3,357.1 463.8,355.3 464.2,353.5 464.7,351.9 465.1,350.3 465.6,348.9 466.0,347.6 466.4,346.4 466.9,345.3 467.3,344.5 467.8,343.7 468.2,343.1 468.6,342.7 469.1,342.5 469.5,342.4 470.0,342.5 470.4,342.7 470.8,343.1 471.3,343.7 471.7,344.5 472.2,345.3 472.6,346.4 473.1,347.6 473.5,348.9 473.9,350.3 474.4,351.9 474.8,353.5 475.3,355.3 475.7,357.1 476.1,359.1 476.6,361.1 477.0,363.1 477.5,365.2 477.9,367.3 478.4,369.4 478.8,371.5 479.2,373.6 479.7,375.7 480.1,377.7 480.6,379.7 481.0,381.7 481.4,383.5 481.9,385.3 482.3,386.9 482.8,388.5 483.2,389.9 483.6,391.2 484.1,392.4 484.5,393.5 485.0,394.3 485.4,395.1 485.9,395.7 486.3,396.1 486.7,396.3 487.2,396.4 487.6,396.3 488.1,396.1 488.5,395.7 488.9,395.1 489.4,394.3 489.8,393.5 490.3,392.4 490.7,391.2 491.1,389.9 491.6,388.5 492.0,386.9 492.5,385.3 492.9,383.5 493.4,381.7 493.8,379.7 494.2,377.7 494.7,375.7 495.1,373.6 495.6,371.5 496.0,369.4 496.4,367.3 496.9,365.2 497.3,363.1 497.8,361.1 498.2,359.1 498.6,357.1 499.1,355.3 499.5,353.5 500.0,351.9 500.4,350.3 500.9,348.9 501.3,347.6 501.7,346.4 502.2,345.3 502.6,344.5 503.1,343.7 503.5,343.1 503.9,342.7 504.4,342.5 504.8,342.4 505.3,342.5 505.7,342.7 506.1,343.1 506.6,343.7 507.0,344.5 507.5,345.3 507.9,346.4 508.4,347.6 508.8,348.9 509.2,350.3 509.7,351.9 510.1,353.5 510.6,355.3 511.0,357.1 511.4,359.1 511.9,361.1 512.3,363.1 512.8,365.2 513.2,367.3 513.6,369.4 514.1,371.5 514.5,373.6 515.0,375.7 515.4,377.7 515.9,379.7 516.3,381.7 516.7,383.5 517.2,385.3 517.6,386.9 518.1,388.5 518.5,389.9 518.9,391.2 519.4,392.4 519.8,393.5 520.3,394.3 520.7,395.1 521.2,395.7 521.6,396.1 522.0,396.3 522.5,396.4 522.9,396.3 523.4,396.1 523.8,395.7 524.2,395.1 524.7,394.3 525.1,393.5 525.6,392.4 526.0,391.2 526.4,389.9 526.9,388.5 527.3,386.9 527.8,385.3 528.2,383.5 528.7,381.7 529.1,379.7 529.5,377.7 530.0,375.7 530.4,373.6 530.9,371.5 531.3,369.4 531.7,367.3 532.2,365.2 532.6,363.1 533.1,361.1 533.5,359.1 533.9,357.1 534.4,355.3 534.8,353.5 535.3,351.9 535.7,350.3 536.2,348.9 536.6,347.6 537.0,346.4 537.5,345.3 537.9,344.5 538.4,343.7 538.8,343.1 539.2,342.7 539.7,342.5 540.1,342.4 540.6,342.5 541.0,342.7 541.4,343.1 541.9,343.7 542.3,344.5 542.8,345.3 543.2,346.4 543.7,347.6 544.1,348.9 544.5,350.3 545.0,351.9 545.4,353.5 545.9,355.3 546.3,357.1 546.7,359.1 547.2,361.1 547.6,363.1 548.1,365.2 548.5,367.3 549.0,369.4 549.4,371.5 549.8,373.6 550.3,375.7 550.7,377.7 551.2,379.7 551.6,381.7 552.0,383.5 552.5,385.3 552.9,386.9 553.4,388.5 553.8,389.9 554.2,391.2 554.7,392.4 555.1,393.5 555.6,394.3 556.0,395.1 556.5,395.7 556.9,396.1 557.3,396.3 557.8,396.4 558.2,396.3 558.7,396.1 559.1,395.7 559.5,395.1 560.0,394.3 560.4,393.5 560.9,392.4 561.3,391.2 561.7,389.9 562.2,388.5 562.6,386.9 563.1,385.3 563.5,383.5 564.0,381.7 564.4,379.7 564.8,377.7 565.3,375.7 565.7,373.6 566.2,371.5 566.6,369.4 567.0,367.3 567.5,365.2 567.9,363.1 568.4,361.1 568.8,359.1 569.2,357.1 569.7,355.3 570.1,353.5 570.6,351.9 571.0,350.3 571.5,348.9 571.9,347.6 572.3,346.4 572.8,345.3 573.2,344.5 573.7,343.7 574.1,343.1 574.5,342.7 575.0,342.5 575.4,342.4 575.9,342.5 576.3,342.7 576.7,343.1 577.2,343.7 577.6,344.5 578.1,345.3 578.5,346.4 579.0,347.6 579.4,348.9 579.8,350.3 580.3,351.9 580.7,353.5 581.2,355.3 581.6,357.1 582.0,359.1 582.5,361.1 582.9,363.1 583.4,365.2 583.8,367.3 584.2,369.4 584.7,371.5 585.1,373.6 585.6,375.7 586.0,377.7 586.5,379.7 586.9,381.7 587.3,383.5 587.8,385.3 588.2,386.9 588.7,388.5 589.1,389.9 589.5,391.2 590.0,392.4 590.4,393.5 590.9,394.3 591.3,395.1 591.8,395.7 592.2,396.1 592.6,396.3 593.1,396.4 593.5,396.3 594.0,396.1 594.4,395.7 594.8,395.1 595.3,394.3 595.7,393.5 596.2,392.4 596.6,391.2 597.0,389.9 597.5,388.5 597.9,386.9 598.4,385.3 598.8,383.5 599.3,381.7 599.7,379.7 600.1,377.7 600.6,375.7 601.0,373.6 601.5,371.5 601.9,369.4 602.3,367.3 602.8,365.2 603.2,363.1 603.7,361.1 604.1,359.1 604.5,357.1 605.0,355.3 605.4,353.5 605.9,351.9 606.3,350.3 606.8,348.9 607.2,347.6 607.6,346.4 608.1,345.3 608.5,344.5 609.0,343.7 609.4,343.1 609.8,342.7 610.3,342.5 610.7,342.4 611.2,342.5 611.6,342.7 612.0,343.1 612.5,343.7 612.9,344.5 613.4,345.3 613.8,346.4 614.3,347.6 614.7,348.9 615.1,350.3 615.6,351.9 616.0,353.5 616.5,355.3 616.9,357.1 617.3,359.1 617.8,361.1 618.2,363.1 618.7,365.2 619.1,367.3 619.5,369.4 620.0,371.5 620.4,373.6 620.9,375.7 621.3,377.7 621.8,379.7 622.2,381.7 622.6,383.5 623.1,385.3 623.5,386.9 624.0,388.5 624.4,389.9 624.8,391.2 625.3,392.4 625.7,393.5 626.2,394.3 626.6,395.1 627.1,395.7 627.5,396.1 627.9,396.3 628.4,396.4 628.8,396.3 629.3,396.1 629.7,395.7 630.1,395.1 630.6,394.3 631.0,393.5 631.5,392.4 631.9,391.2 632.3,389.9 632.8,388.5 633.2,386.9 633.7,385.3 634.1,383.5 634.6,381.7 635.0,379.7 635.4,377.7 635.9,375.7 636.3,373.6 636.8,371.5 637.2,369.4 637.6,367.3 638.1,365.2 638.5,363.1 639.0,361.1 639.4,359.1 639.8,357.1 640.3,355.3 640.7,353.5 641.2,351.9 641.6,350.3 642.1,348.9 642.5,347.6 642.9,346.4 643.4,345.3 643.8,344.5 644.3,343.7 644.7,343.1 645.1,342.7 645.6,342.5 646.0,342.4 646.5,342.5 646.9,342.7 647.3,343.1 647.8,343.7 648.2,344.5 648.7,345.3 649.1,346.4 649.6,347.6 650.0,348.9 650.4,350.3 650.9,351.9 651.3,353.5 651.8,355.3 652.2,357.1 652.6,359.1 653.1,361.1 653.5,363.1 654.0,365.2 654.4,367.3 654.8,369.4 655.3,371.5 655.7,373.6 656.2,375.7 656.6,377.7 657.1,379.7 657.5,381.7 657.9,383.5 658.4,385.3 658.8,386.9 659.3,388.5 659.7,389.9 660.1,391.2 660.6,392.4 661.0,393.5 661.5,394.3 661.9,395.1 662.4,395.7 662.8,396.1 663.2,396.3 663.7,396.4 664.1,396.3 664.6,396.1 665.0,395.7 665.4,395.1 665.9,394.3 666.3,393.5 666.8,392.4 667.2,391.2 667.6,389.9 668.1,388.5 668.5,386.9 669.0,385.3 669.4,383.5 669.9,381.7 670.3,379.7 670.7,377.7 671.2,375.7 671.6,373.6 672.1,371.5 672.5,369.4"/>
<polyline fill="none" stroke="#d95319" stroke-width="1.9" stroke-linejoin="round" points="319.5,368.3 320.1,368.2 320.6,368.4 321.2,368.3 321.7,368.6 322.3,368.4 322.8,368.7 323.4,368.9 323.9,368.9 324.5,369.4 325.0,369.2 325.6,369.5 326.1,369.7 326.7,369.6 327.2,370.0 327.8,370.5 328.3,371.5 328.9,371.1 329.4,370.8 330.0,370.8 330.5,370.5 331.1,370.4 331.6,370.3 332.2,370.1 332.7,369.8 333.3,369.6 333.8,369.5 334.4,369.4 334.9,369.3 335.5,369.3 336.0,369.2 336.6,369.2 337.1,369.1 337.7,368.9 338.3,368.8 338.8,368.8 339.4,368.5 339.9,368.5 340.5,368.4 341.0,368.3 341.6,368.2 342.1,368.2 342.7,368.3 343.2,368.2 343.8,368.1 344.3,368.1 344.9,368.1 345.4,368.3 346.0,367.7 346.5,368.2 347.1,368.3 347.6,368.5 348.2,368.4 348.7,368.8 349.3,368.8 349.8,368.8 350.4,368.9 350.9,369.0 351.5,369.2 352.0,369.4 352.6,369.7 353.1,369.8 353.7,369.9 354.2,370.2 354.8,370.3 355.4,368.7 355.9,368.6 356.5,371.5 357.0,371.7 357.6,371.6 358.1,371.5 358.7,371.5 359.2,371.4 359.8,371.0 360.3,371.2 360.9,371.1 361.4,370.7 362.0,370.6 362.5,370.5 363.1,370.3 363.6,370.1 364.2,370.0 364.7,370.0 365.3,369.9 365.8,369.9 366.4,369.5 366.9,369.3 367.5,369.4 368.0,369.2 368.6,368.9 369.1,368.4 369.7,367.9 370.2,367.6 370.8,367.5 371.3,367.7 371.9,367.9 372.4,368.3 373.0,367.9 373.6,367.9 374.1,367.9 374.7,367.6 375.2,367.5 375.8,367.5 376.3,367.3 376.9,367.2 377.4,367.0 378.0,366.8 378.5,366.6 379.1,366.9 379.6,366.3 380.2,366.4 380.7,366.5 381.3,367.3 381.8,367.5 382.4,367.7 382.9,367.8 383.5,367.9 384.0,368.4 384.6,368.3 385.1,368.6 385.7,369.1 386.2,369.3 386.8,369.3 387.3,369.5 387.9,369.7 388.4,370.0 389.0,370.1 389.5,370.2 390.1,370.5 390.7,370.7 391.2,370.6 391.8,370.7 392.3,370.9 392.9,371.2 393.4,371.1 394.0,371.2 394.5,371.5 395.1,371.0 395.6,370.9 396.2,371.0 396.7,370.9 397.3,370.7 397.8,370.2 398.4,370.5 398.9,370.3 399.5,369.8 400.0,369.5 400.6,369.1 401.1,368.6 401.7,368.0 402.2,367.5 402.8,368.1 403.3,368.8 403.9,368.6 404.4,368.3 405.0,368.2 405.5,368.0 406.1,367.7 406.6,367.3 407.2,367.2 407.8,366.9 408.3,366.6 408.9,366.8 409.4,366.5 410.0,366.6 410.5,366.8 411.1,366.7 411.6,366.5 412.2,366.4 412.7,365.2 413.3,364.7 413.8,366.3 414.4,366.5 414.9,366.6 415.5,366.5 416.0,366.4 416.6,366.5 417.1,366.3 417.7,366.0 418.2,365.8 418.8,365.6 419.3,365.7 419.9,366.5 420.4,367.1 421.0,367.8 421.5,368.2 422.1,368.6 422.6,369.0 423.2,369.1 423.7,369.6 424.3,369.9 424.8,370.0 425.4,370.5 426.0,370.5 426.5,370.4 427.1,370.3 427.6,370.2 428.2,370.2 428.7,370.0 429.3,369.8 429.8,370.0 430.4,369.7 430.9,369.7 431.5,369.5 432.0,369.5 432.6,369.2 433.1,369.0 433.7,369.1 434.2,369.1 434.8,368.6 435.3,368.7 435.9,368.5 436.4,368.3 437.0,368.0 437.5,367.7 438.1,367.6 438.6,367.5 439.2,367.5 439.7,367.4 440.3,367.2 440.8,367.2 441.4,367.0 441.9,367.1 442.5,366.9 443.1,367.0 443.6,366.8 444.2,366.7 444.7,366.7 445.3,366.5 445.8,366.7 446.4,366.5 446.9,366.6 447.5,366.6 448.0,366.5 448.6,366.5 449.1,366.7 449.7,366.4 450.2,366.4 450.8,366.2 451.3,366.1 451.9,366.2 452.4,365.9 453.0,365.6 453.5,365.8 454.1,365.6 454.6,365.3 455.2,365.4 455.7,365.8 456.3,366.8 456.8,367.1 457.4,367.6 457.9,367.7 458.5,368.0 459.0,368.3 459.6,368.6 460.1,368.8 460.7,369.2 461.3,369.3 461.8,369.6 462.4,369.5 462.9,369.8 463.5,369.8 464.0,369.9 464.6,370.1 465.1,370.3 465.7,370.2 466.2,370.2 466.8,370.1 467.3,369.9 467.9,370.0 468.4,370.2 469.0,369.9 469.5,369.7 470.1,369.8 470.6,369.8 471.2,369.7 471.7,369.4 472.3,369.3 472.8,369.2 473.4,369.0 473.9,368.8 474.5,368.7 475.0,368.2 475.6,368.0 476.1,367.5 476.7,367.2 477.2,366.9 477.8,366.3 478.4,365.1 478.9,365.5 479.5,365.9 480.0,366.5 480.6,366.6 481.1,366.3 481.7,366.4 482.2,366.3 482.8,366.1 483.3,366.3 483.9,366.5 484.4,366.2 485.0,366.6 485.5,366.8 486.1,366.7 486.6,366.9 487.2,367.0 487.7,367.1 488.3,367.2 488.8,367.5 489.4,367.7 489.9,367.7 490.5,367.9 491.0,368.0 491.6,368.2 492.1,368.5 492.7,368.7 493.2,368.9 493.8,369.4 494.3,369.5 494.9,369.8 495.4,369.9 496.0,370.2 496.6,370.3 497.1,370.4 497.7,370.7 498.2,370.8 498.8,370.7 499.3,370.8 499.9,370.8 500.4,370.9 501.0,371.0 501.5,370.8 502.1,370.7 502.6,370.8 503.2,370.7 503.7,370.7 504.3,370.7 504.8,370.7 505.4,370.5 505.9,370.3 506.5,370.1 507.0,369.9 507.6,369.8 508.1,369.6 508.7,369.5 509.2,369.3 509.8,369.2 510.3,368.8 510.9,368.7 511.4,368.4 512.0,368.3 512.5,367.9 513.1,367.6 513.6,367.7 514.2,367.5 514.8,367.2 515.3,367.0 515.9,367.0 516.4,366.8 517.0,366.5 517.5,366.2 518.1,365.8 518.6,366.5 519.2,366.7 519.7,366.7 520.3,366.8 520.8,367.1 521.4,367.1 521.9,367.1 522.5,367.1 523.0,367.3 523.6,367.6 524.1,367.7 524.7,367.8 525.2,368.1 525.8,368.2 526.3,368.3 526.9,368.4 527.4,368.7 528.0,368.9 528.5,369.2 529.1,369.4 529.6,369.5 530.2,369.9 530.7,369.9 531.3,370.4 531.9,370.2 532.4,370.3 533.0,370.5 533.5,370.5 534.1,370.4 534.6,370.5 535.2,370.4 535.7,370.6 536.3,370.6 536.8,370.4 537.4,370.5 537.9,370.3 538.5,370.2 539.0,370.0 539.6,370.0 540.1,369.9 540.7,369.8 541.2,369.6 541.8,369.4 542.3,369.2 542.9,368.9 543.4,369.1 544.0,368.8 544.5,368.7 545.1,368.4 545.6,368.5 546.2,368.2 546.7,368.1 547.3,367.9 547.8,367.7 548.4,367.7 549.0,367.5 549.5,367.4 550.1,367.1 550.6,366.9 551.2,366.8 551.7,366.9 552.3,366.8 552.8,366.4 553.4,366.3 553.9,366.3 554.5,366.6 555.0,366.8 555.6,366.9 556.1,367.1 556.7,367.4 557.2,367.4 557.8,367.4 558.3,367.9 558.9,368.0 559.4,368.2 560.0,368.4 560.5,368.6 561.1,368.9 561.6,368.9 562.2,369.2 562.7,369.3 563.3,369.6 563.8,369.8 564.4,369.9 564.9,370.3 565.5,370.3 566.0,370.4 566.6,370.6 567.2,370.6 567.7,370.6 568.3,370.6 568.8,370.6 569.4,370.7 569.9,370.4 570.5,370.7 571.0,370.5 571.6,370.5 572.1,370.3 572.7,370.5 573.2,370.0 573.8,370.0 574.3,370.0 574.9,370.1 575.4,369.8 576.0,369.8 576.5,369.8 577.1,369.4 577.6,369.2 578.2,369.4 578.7,369.1 579.3,369.0 579.8,369.0 580.4,368.8 580.9,368.6 581.5,368.5 582.0,368.3 582.6,368.3 583.1,368.1 583.7,368.1 584.2,367.8 584.8,367.8 585.4,367.7 585.9,367.7 586.5,367.6 587.0,367.3 587.6,367.4 588.1,367.2 588.7,367.3 589.2,367.2 589.8,367.3 590.3,367.3 590.9,367.5 591.4,367.3 592.0,367.6 592.5,367.7 593.1,367.9 593.6,367.9 594.2,368.0 594.7,368.1 595.3,368.3 595.8,368.5 596.4,369.0 596.9,369.1 597.5,369.1 598.0,369.5 598.6,369.7 599.1,370.0 599.7,370.1 600.2,370.2 600.8,370.5 601.3,370.8 601.9,370.9 602.5,370.9 603.0,370.8 603.6,370.9 604.1,370.9 604.7,371.0 605.2,370.9 605.8,370.9 606.3,371.2 606.9,370.7 607.4,370.7 608.0,370.5 608.5,370.4 609.1,370.4 609.6,370.3 610.2,370.1 610.7,370.0 611.3,369.7 611.8,369.6 612.4,369.3 612.9,369.3 613.5,369.0 614.0,369.0 614.6,368.6 615.1,368.6 615.7,368.4 616.2,368.3 616.8,368.0 617.3,368.0 617.9,367.8 618.4,367.4 619.0,367.3 619.5,367.3 620.1,367.0 620.7,367.2 621.2,366.9 621.8,366.7 622.3,366.9 622.9,366.6 623.4,366.2 624.0,366.5 624.5,366.5 625.1,366.7 625.6,366.8 626.2,366.9 626.7,366.9 627.3,366.9 627.8,367.2 628.4,367.2 628.9,367.4 629.5,367.5 630.0,367.8 630.6,368.1 631.1,368.2 631.7,368.5 632.2,368.6 632.8,368.7 633.3,369.1 633.9,369.3 634.4,369.6 635.0,369.9 635.5,369.9 636.1,370.1 636.6,370.5 637.2,370.7 637.8,370.6 638.3,370.9 638.9,370.9 639.4,370.9 640.0,370.9 640.5,371.1 641.1,371.2 641.6,371.3 642.2,371.3 642.7,371.2 643.3,370.9 643.8,370.9 644.4,370.8 644.9,370.7 645.5,370.6 646.0,370.5 646.6,370.3 647.1,370.2 647.7,370.1 648.2,370.0 648.8,369.7 649.3,369.5 649.9,369.1 650.4,369.2 651.0,369.0 651.5,368.8 652.1,368.6 652.6,368.3 653.2,368.1 653.7,367.8 654.3,367.6 654.8,367.4 655.4,367.6 656.0,367.5 656.5,367.3 657.1,367.2 657.6,367.3 658.2,367.1 658.7,366.9 659.3,366.9 659.8,366.9 660.4,367.0 660.9,367.0 661.5,366.9 662.0,367.0 662.6,366.9 663.1,367.2 663.7,367.2 664.2,367.3 664.8,367.8 665.3,368.0 665.9,368.0 666.4,368.3 667.0,368.4 667.5,368.8 668.1,369.0 668.6,369.1 669.2,369.4 669.7,369.7 670.3,369.9 670.8,369.8 671.4,370.2 671.9,370.5 672.5,370.6"/>
<text x="496.00" y="338.80" text-anchor="middle" class="b">raw data</text>
<text x="496.00" y="424.80" text-anchor="middle" class="l">time (s)</text>
<text transform="translate(294.20 369.40) rotate(-90)" text-anchor="middle" class="l" style="font-size:11.4px">position (deg)</text>
<rect x="608.5" y="239.5" width="57" height="26" fill="#fff" stroke="#262626" stroke-width="0.48"/>
<line x1="612.2" y1="246.9" x2="637.7" y2="246.9" stroke="#0072bd" stroke-width="1.9"/>
<line x1="612.2" y1="258.6" x2="637.7" y2="258.6" stroke="#d95319" stroke-width="1.9"/>
<text x="640.6" y="250.2" class="s">head</text>
<text x="640.6" y="261.9" class="s">eye</text>
<text x="3.5" y="11.3" class="p">A</text>
<text x="3.3" y="228.2" class="p">B</text>
<text x="272.5" y="228.2" class="p">C</text>
<text x="272.8" y="336.3" class="p">D</text>
</svg>
</body></html>
